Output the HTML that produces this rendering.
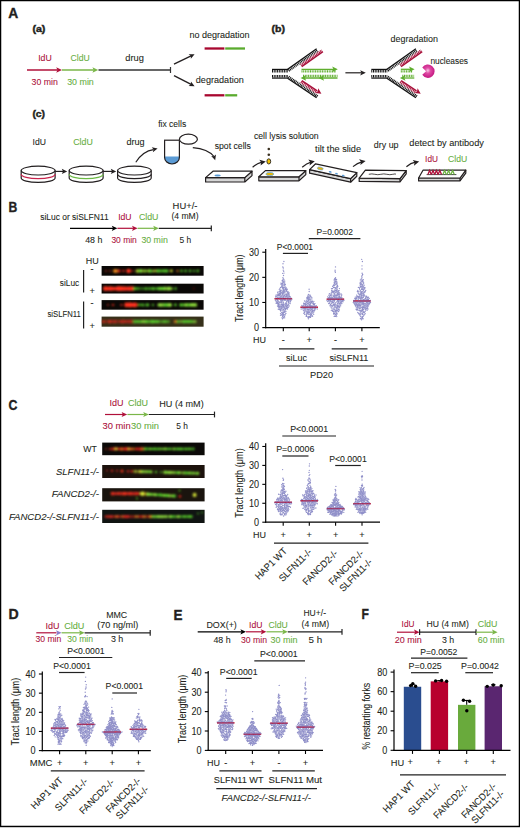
<!DOCTYPE html>
<html><head><meta charset="utf-8"><style>
html,body{margin:0;padding:0;background:#fff;}
svg{display:block;font-family:"Liberation Sans",sans-serif;}
</style></head><body>
<svg width="520" height="828" viewBox="0 0 520 828" fill="#231f20">
<rect x="0" y="0" width="520" height="828" fill="#fff"/>
<rect x="0" y="827" width="520" height="1" fill="#d4d4d4"/>
<rect x="0.6" y="0.6" width="518.8" height="825.8" fill="none" stroke="#000" stroke-width="1.3"/>
<text x="8.30" y="17.70" font-size="14" textLength="10.00" lengthAdjust="spacingAndGlyphs" font-weight="bold" stroke="#231f20" stroke-width="0.35">A</text>
<text x="32.40" y="32.20" font-size="9.6" textLength="13.00" lengthAdjust="spacingAndGlyphs" font-weight="bold" stroke="#231f20" stroke-width="0.45">(a)</text>
<line x1="27.00" y1="70.00" x2="57.80" y2="70.00" stroke="#b0103a" stroke-width="1.5"/>
<path d="M62.00 70.00L56.20 72.80L57.50 70.00L56.20 67.20Z" fill="#b0103a"/>
<line x1="62.00" y1="70.00" x2="94.00" y2="70.00" stroke="#7ab648" stroke-width="1.5"/>
<path d="M98.20 70.00L92.40 72.80L93.70 70.00L92.40 67.20Z" fill="#7ab648"/>
<line x1="98.50" y1="70.00" x2="170.50" y2="70.00" stroke="#333" stroke-width="1.3"/>
<line x1="170.50" y1="67.00" x2="170.50" y2="73.00" stroke="#333" stroke-width="1.2"/>
<text x="38.20" y="61.20" font-size="9.7" fill="#ab0f3a" textLength="13.60" lengthAdjust="spacingAndGlyphs" stroke="#ab0f3a" stroke-width="0.08">IdU</text>
<text x="70.60" y="61.20" font-size="9.7" fill="#66ad3e" textLength="19.20" lengthAdjust="spacingAndGlyphs" stroke="#66ad3e" stroke-width="0.08">CldU</text>
<text x="125.30" y="61.00" font-size="9.7" textLength="18.60" lengthAdjust="spacingAndGlyphs" stroke="#231f20" stroke-width="0.08">drug</text>
<text x="31.60" y="84.60" font-size="9.7" fill="#ab0f3a" textLength="26.20" lengthAdjust="spacingAndGlyphs" stroke="#ab0f3a" stroke-width="0.08">30 min</text>
<text x="67.20" y="84.60" font-size="9.7" fill="#66ad3e" textLength="26.60" lengthAdjust="spacingAndGlyphs" stroke="#66ad3e" stroke-width="0.08">30 min</text>
<line x1="174.00" y1="64.20" x2="191.09" y2="55.90" stroke="#231f20" stroke-width="1.3"/>
<path d="M194.60 54.20L190.83 58.81L190.82 56.03L188.65 54.31Z" fill="#231f20"/>
<line x1="174.00" y1="75.60" x2="191.13" y2="84.42" stroke="#231f20" stroke-width="1.3"/>
<path d="M194.60 86.20L188.65 85.95L190.87 84.28L190.94 81.51Z" fill="#231f20"/>
<text x="189.40" y="37.80" font-size="9.7" textLength="60.20" lengthAdjust="spacingAndGlyphs" stroke="#231f20" stroke-width="0.08">no degradation</text>
<text x="195.80" y="83.20" font-size="9.7" textLength="48.00" lengthAdjust="spacingAndGlyphs" stroke="#231f20" stroke-width="0.08">degradation</text>
<line x1="204.60" y1="48.50" x2="224.40" y2="48.50" stroke="#a8072f" stroke-width="2.3"/>
<line x1="225.20" y1="48.50" x2="245.00" y2="48.50" stroke="#5aab2e" stroke-width="2.3"/>
<line x1="204.60" y1="95.30" x2="224.40" y2="95.30" stroke="#a8072f" stroke-width="2.3"/>
<line x1="225.20" y1="95.30" x2="237.20" y2="95.30" stroke="#5aab2e" stroke-width="2.3"/>
<text x="271.50" y="32.00" font-size="9.6" textLength="13.40" lengthAdjust="spacingAndGlyphs" font-weight="bold" stroke="#231f20" stroke-width="0.45">(b)</text>
<line x1="272.00" y1="69.40" x2="288.00" y2="69.40" stroke="#111" stroke-width="1.2"/>
<line x1="272.00" y1="71.20" x2="288.00" y2="71.20" stroke="#111" stroke-width="2.4" stroke-dasharray="1 0.7"/>
<line x1="272.00" y1="78.10" x2="288.00" y2="78.10" stroke="#111" stroke-width="1.2"/>
<line x1="272.00" y1="76.30" x2="288.00" y2="76.30" stroke="#111" stroke-width="2.4" stroke-dasharray="1 0.7"/>
<line x1="287.60" y1="69.20" x2="316.60" y2="48.80" stroke="#111" stroke-width="1.3"/>
<line x1="288.64" y1="70.67" x2="317.64" y2="50.27" stroke="#111" stroke-width="2.4" stroke-dasharray="1 0.7"/>
<line x1="287.60" y1="78.30" x2="316.60" y2="97.80" stroke="#111" stroke-width="1.3"/>
<line x1="288.60" y1="76.81" x2="317.60" y2="96.31" stroke="#111" stroke-width="2.4" stroke-dasharray="1 0.7"/>
<line x1="301.70" y1="66.60" x2="322.90" y2="51.70" stroke="#a8103a" stroke-width="1.5"/>
<line x1="300.72" y1="65.21" x2="321.92" y2="50.31" stroke="#a8103a" stroke-width="2.2" stroke-dasharray="1 0.7"/>
<line x1="301.80" y1="80.60" x2="317.20" y2="90.90" stroke="#a8103a" stroke-width="1.5"/>
<line x1="300.85" y1="82.01" x2="316.25" y2="92.31" stroke="#a8103a" stroke-width="2.2" stroke-dasharray="1 0.7"/>
<path d="M321.40 93.70L315.19 92.90L317.75 91.24L318.32 88.25Z" fill="#a8103a"/>
<line x1="301.50" y1="69.30" x2="334.00" y2="69.30" stroke="#5fae2e" stroke-width="1.3"/>
<line x1="301.50" y1="71.40" x2="336.00" y2="71.40" stroke="#5fae2e" stroke-width="2.4" stroke-dasharray="1 0.7"/>
<path d="M337.80 69.30L332.20 72.10L333.40 69.30L332.20 66.50Z" fill="#5fae2e"/>
<line x1="304.00" y1="78.00" x2="337.50" y2="78.00" stroke="#5fae2e" stroke-width="1.3"/>
<line x1="303.00" y1="75.90" x2="337.50" y2="75.90" stroke="#5fae2e" stroke-width="2.4" stroke-dasharray="1 0.7"/>
<path d="M300.60 78.00L306.20 75.20L305.00 78.00L306.20 80.80Z" fill="#5fae2e"/>
<path d="M318.50 78.00L324.10 75.20L322.90 78.00L324.10 80.80Z" fill="#5fae2e"/>
<line x1="345.40" y1="72.80" x2="361.70" y2="72.80" stroke="#231f20" stroke-width="1.2"/>
<path d="M365.80 72.80L360.20 75.40L361.40 72.80L360.20 70.20Z" fill="#231f20"/>
<line x1="371.30" y1="69.40" x2="387.30" y2="69.40" stroke="#111" stroke-width="1.2"/>
<line x1="371.30" y1="71.20" x2="387.30" y2="71.20" stroke="#111" stroke-width="2.4" stroke-dasharray="1 0.7"/>
<line x1="371.30" y1="78.10" x2="387.30" y2="78.10" stroke="#111" stroke-width="1.2"/>
<line x1="371.30" y1="76.30" x2="387.30" y2="76.30" stroke="#111" stroke-width="2.4" stroke-dasharray="1 0.7"/>
<line x1="386.90" y1="69.20" x2="415.90" y2="48.80" stroke="#111" stroke-width="1.3"/>
<line x1="387.94" y1="70.67" x2="416.94" y2="50.27" stroke="#111" stroke-width="2.4" stroke-dasharray="1 0.7"/>
<line x1="386.90" y1="78.30" x2="415.90" y2="97.80" stroke="#111" stroke-width="1.3"/>
<line x1="387.90" y1="76.81" x2="416.90" y2="96.31" stroke="#111" stroke-width="2.4" stroke-dasharray="1 0.7"/>
<line x1="401.00" y1="66.60" x2="422.20" y2="51.70" stroke="#a8103a" stroke-width="1.5"/>
<line x1="400.02" y1="65.21" x2="421.22" y2="50.31" stroke="#a8103a" stroke-width="2.2" stroke-dasharray="1 0.7"/>
<line x1="401.10" y1="80.60" x2="416.50" y2="90.90" stroke="#a8103a" stroke-width="1.5"/>
<line x1="400.15" y1="82.01" x2="415.55" y2="92.31" stroke="#a8103a" stroke-width="2.2" stroke-dasharray="1 0.7"/>
<path d="M420.70 93.70L414.49 92.90L417.05 91.24L417.62 88.25Z" fill="#a8103a"/>
<line x1="400.80" y1="69.30" x2="410.80" y2="69.30" stroke="#5fae2e" stroke-width="1.3"/>
<line x1="400.80" y1="71.40" x2="412.80" y2="71.40" stroke="#5fae2e" stroke-width="2.4" stroke-dasharray="1 0.7"/>
<path d="M414.60 69.30L409.00 72.10L410.20 69.30L409.00 66.50Z" fill="#5fae2e"/>
<line x1="403.30" y1="78.00" x2="414.30" y2="78.00" stroke="#5fae2e" stroke-width="1.3"/>
<line x1="402.30" y1="75.90" x2="414.30" y2="75.90" stroke="#5fae2e" stroke-width="2.4" stroke-dasharray="1 0.7"/>
<path d="M399.90 78.00L405.50 75.20L404.30 78.00L405.50 80.80Z" fill="#5fae2e"/>
<text x="390.60" y="41.60" font-size="9.7" textLength="47.40" lengthAdjust="spacingAndGlyphs" stroke="#231f20" stroke-width="0.08">degradation</text>
<text x="430.40" y="64.40" font-size="9.7" textLength="37.60" lengthAdjust="spacingAndGlyphs" stroke="#231f20" stroke-width="0.08">nucleases</text>
<defs><radialGradient id="nuc" cx="0.45" cy="0.45" r="0.6"><stop offset="0" stop-color="#f7c8e4"/><stop offset="0.35" stop-color="#e04ca6"/><stop offset="1" stop-color="#c0117c"/></radialGradient></defs>
<path d="M426.10 71.20L422.28 67.55A6.7 6.7 0 1 1 422.28 74.85Z" fill="url(#nuc)"/>
<text x="32.40" y="117.40" font-size="9.6" textLength="12.60" lengthAdjust="spacingAndGlyphs" font-weight="bold" stroke="#231f20" stroke-width="0.45">(c)</text>
<text x="32.60" y="145.00" font-size="9.7" textLength="13.40" lengthAdjust="spacingAndGlyphs" stroke="#231f20" stroke-width="0.08">IdU</text>
<text x="73.20" y="145.00" font-size="9.7" fill="#66ad3e" textLength="19.60" lengthAdjust="spacingAndGlyphs" stroke="#66ad3e" stroke-width="0.08">CldU</text>
<text x="126.40" y="145.00" font-size="9.7" textLength="18.20" lengthAdjust="spacingAndGlyphs" stroke="#231f20" stroke-width="0.08">drug</text>
<text x="158.20" y="127.40" font-size="9.7" textLength="28.00" lengthAdjust="spacingAndGlyphs" stroke="#231f20" stroke-width="0.08">fix cells</text>
<text x="214.70" y="148.80" font-size="9.7" textLength="36.20" lengthAdjust="spacingAndGlyphs" stroke="#231f20" stroke-width="0.08">spot cells</text>
<text x="253.90" y="139.40" font-size="9.7" textLength="64.80" lengthAdjust="spacingAndGlyphs" stroke="#231f20" stroke-width="0.08">cell lysis solution</text>
<text x="315.10" y="151.50" font-size="9.7" textLength="46.00" lengthAdjust="spacingAndGlyphs" stroke="#231f20" stroke-width="0.08">tilt the slide</text>
<text x="373.80" y="147.60" font-size="9.7" textLength="24.80" lengthAdjust="spacingAndGlyphs" stroke="#231f20" stroke-width="0.08">dry up</text>
<text x="409.30" y="145.80" font-size="9.7" textLength="74.60" lengthAdjust="spacingAndGlyphs" stroke="#231f20" stroke-width="0.08">detect by antibody</text>
<text x="425.10" y="162.30" font-size="9.7" fill="#ab0f3a" textLength="12.80" lengthAdjust="spacingAndGlyphs" stroke="#ab0f3a" stroke-width="0.08">IdU</text>
<text x="448.00" y="162.30" font-size="9.7" fill="#66ad3e" textLength="19.20" lengthAdjust="spacingAndGlyphs" stroke="#66ad3e" stroke-width="0.08">CldU</text>
<ellipse cx="38.15" cy="170.60" rx="16.95" ry="4.4" fill="#fff" stroke="#231f20" stroke-width="1.2"/>
<path d="M21.2 170.60V178.00M55.1 170.60V178.00" stroke="#231f20" stroke-width="1.2"/>
<path d="M21.2 174.30A16.95 4.4 0 0 0 55.1 174.30" fill="none" stroke="#c8244c" stroke-width="1.3"/>
<path d="M21.2 178.00A16.95 4.4 0 0 0 55.1 178.00" fill="none" stroke="#231f20" stroke-width="1.2"/>
<line x1="55.20" y1="171.40" x2="63.30" y2="171.40" stroke="#231f20" stroke-width="1.2"/>
<path d="M67.20 171.40L61.80 174.00L63.00 171.40L61.80 168.80Z" fill="#231f20"/>
<ellipse cx="86.15" cy="170.60" rx="16.95" ry="4.4" fill="#fff" stroke="#231f20" stroke-width="1.2"/>
<path d="M69.2 170.60V178.00M103.1 170.60V178.00" stroke="#231f20" stroke-width="1.2"/>
<path d="M69.2 174.30A16.95 4.4 0 0 0 103.1 174.30" fill="none" stroke="#6cba45" stroke-width="1.3"/>
<path d="M69.2 178.00A16.95 4.4 0 0 0 103.1 178.00" fill="none" stroke="#231f20" stroke-width="1.2"/>
<line x1="103.20" y1="171.40" x2="112.30" y2="171.40" stroke="#231f20" stroke-width="1.2"/>
<path d="M116.20 171.40L110.80 174.00L112.00 171.40L110.80 168.80Z" fill="#231f20"/>
<ellipse cx="134.40" cy="170.60" rx="16.80" ry="4.4" fill="#fff" stroke="#231f20" stroke-width="1.2"/>
<path d="M117.6 170.60V178.00M151.2 170.60V178.00" stroke="#231f20" stroke-width="1.2"/>
<path d="M117.6 174.30A16.80 4.4 0 0 0 151.2 174.30" fill="none" stroke="#231f20" stroke-width="1.2"/>
<path d="M117.6 178.00A16.80 4.4 0 0 0 151.2 178.00" fill="none" stroke="#231f20" stroke-width="1.2"/>
<path d="M135.8 162.2Q143 151 153.5 149.6" fill="none" stroke="#231f20" stroke-width="1.2"/>
<path d="M157.60 148.60L152.86 152.27L153.49 149.47L151.78 147.18Z" fill="#231f20"/>
<path d="M164.6 156.6H179.4V157.5A7.4 6.6 0 0 1 164.6 157.5Z" fill="#5b9bd5"/>
<path d="M164.6 140.2V157.4A7.4 6.6 0 0 0 179.4 157.4V140.2" fill="none" stroke="#231f20" stroke-width="1.2"/>
<line x1="164.00" y1="140.20" x2="180.00" y2="140.20" stroke="#231f20" stroke-width="1.2"/>
<ellipse cx="188.4" cy="139.2" rx="9.0" ry="5.0" fill="#fff" stroke="#231f20" stroke-width="1.2"/>
<path d="M192.8 147.6Q208 149 214 156.5" fill="none" stroke="#231f20" stroke-width="1.2"/>
<path d="M215.20 160.20L211.22 156.03L213.93 156.30L215.97 154.48Z" fill="#231f20"/>
<path d="M205.6 177.6V182.0L244.8 182.0L252.0 175.6V171.2L244.8 177.6Z" fill="#d6d6d6" stroke="#231f20" stroke-width="1.2" stroke-linejoin="round"/>
<path d="M213.0 171.2L252.0 171.2L244.8 177.6L205.6 177.6Z" fill="#fff" stroke="#231f20" stroke-width="1.2" stroke-linejoin="round"/>
<line x1="244.80" y1="177.60" x2="244.80" y2="182.00" stroke="#231f20" stroke-width="1.2"/>
<ellipse cx="217.6" cy="175.6" rx="3.2" ry="1.0" fill="#5b9bd5"/>
<path d="M252.6 167.2Q257 163.4 262 162.2" fill="none" stroke="#231f20" stroke-width="1.2"/>
<path d="M265.80 161.40L260.55 165.58L261.20 162.38L259.31 159.71Z" fill="#231f20"/>
<circle cx="268.8" cy="149.0" r="1.3" fill="#3a3020"/><circle cx="268.8" cy="154.8" r="1.3" fill="#3a3020"/>
<ellipse cx="268.8" cy="161.4" rx="1.9" ry="2.6" fill="#f2c200" stroke="#231f20" stroke-width="0.9"/>
<path d="M258.8 176.8V180.8L299.0 180.8L305.8 174.6V170.6L299.0 176.8Z" fill="#d6d6d6" stroke="#231f20" stroke-width="1.2" stroke-linejoin="round"/>
<path d="M265.4 170.6L305.8 170.6L299.0 176.8L258.8 176.8Z" fill="#fff" stroke="#231f20" stroke-width="1.2" stroke-linejoin="round"/>
<line x1="299.00" y1="176.80" x2="299.00" y2="180.80" stroke="#231f20" stroke-width="1.2"/>
<ellipse cx="269.8" cy="174.0" rx="4.0" ry="1.6" fill="#eab600" stroke="#6aaee0" stroke-width="0.8"/>
<path d="M302.2 167.2Q306.6 163.4 311 162.2" fill="none" stroke="#231f20" stroke-width="1.2"/>
<path d="M314.80 161.20L309.55 165.38L310.20 162.18L308.31 159.51Z" fill="#231f20"/>
<path d="M309.6 169.6V173.2L350.6 182.2L356.8 176.2V172.6L350.6 178.6Z" fill="#d6d6d6" stroke="#231f20" stroke-width="1.2" stroke-linejoin="round"/>
<path d="M315.6 163.8L356.8 172.6L350.6 178.6L309.6 169.6Z" fill="#fff" stroke="#231f20" stroke-width="1.2" stroke-linejoin="round"/>
<line x1="350.60" y1="178.60" x2="350.60" y2="182.20" stroke="#231f20" stroke-width="1.2"/>
<ellipse cx="320.3" cy="168.5" rx="3.0" ry="1.4" fill="#eab600" stroke="#5b9bd5" stroke-width="0.6" transform="rotate(12 320.3 168.5)"/>
<ellipse cx="330.2" cy="171.9" rx="1.5" ry="0.8" fill="#5b9bd5" transform="rotate(14 330.2 171.9)"/>
<ellipse cx="336.6" cy="173.7" rx="1.5" ry="0.8" fill="#5b9bd5" transform="rotate(14 336.6 173.7)"/>
<ellipse cx="343.2" cy="175.6" rx="1.5" ry="0.8" fill="#5b9bd5" transform="rotate(14 343.2 175.6)"/>
<path d="M353.0 166.6Q357.4 162.8 362 161.8" fill="none" stroke="#231f20" stroke-width="1.2"/>
<path d="M365.60 160.90L360.35 165.08L361.00 161.88L359.11 159.21Z" fill="#231f20"/>
<path d="M359.2 178.2V181.39999999999998L400.0 181.79999999999998L406.2 173.79999999999998V170.6L400.0 178.6Z" fill="#d6d6d6" stroke="#231f20" stroke-width="1.2" stroke-linejoin="round"/>
<path d="M365.4 170.2L406.2 170.6L400.0 178.6L359.2 178.2Z" fill="#fff" stroke="#231f20" stroke-width="1.2" stroke-linejoin="round"/>
<line x1="400.00" y1="178.60" x2="400.00" y2="181.80" stroke="#231f20" stroke-width="1.2"/>
<path d="M368.8 174.3q3 -0.8 6 0t6 0t6 0t6 0t3.2 0" fill="none" stroke="#231f20" stroke-width="0.8"/>
<path d="M406.4 166.8Q410.8 163 415.4 162.2" fill="none" stroke="#231f20" stroke-width="1.2"/>
<path d="M419.20 161.60L413.95 165.78L414.60 162.58L412.71 159.91Z" fill="#231f20"/>
<path d="M418.6 178.0V180.9L460.0 180.9L465.8 173.1V170.2L460.0 178.0Z" fill="#d6d6d6" stroke="#231f20" stroke-width="1.2" stroke-linejoin="round"/>
<path d="M423.0 170.2L465.8 170.2L460.0 178.0L418.6 178.0Z" fill="#fff" stroke="#231f20" stroke-width="1.2" stroke-linejoin="round"/>
<line x1="460.00" y1="178.00" x2="460.00" y2="180.90" stroke="#231f20" stroke-width="1.2"/>
<line x1="426.60" y1="174.60" x2="456.40" y2="174.60" stroke="#333" stroke-width="0.9"/>
<path d="M427.90 174.4L429.60 170.4L431.30 174.4" fill="none" stroke="#b0103a" stroke-width="1.3"/>
<path d="M431.30 174.4L433.00 170.4L434.70 174.4" fill="none" stroke="#b0103a" stroke-width="1.3"/>
<path d="M434.70 174.4L436.40 170.4L438.10 174.4" fill="none" stroke="#b0103a" stroke-width="1.3"/>
<path d="M438.10 174.4L439.80 170.4L441.50 174.4" fill="none" stroke="#b0103a" stroke-width="1.3"/>
<path d="M442.90 174.4L444.60 170.4L446.30 174.4" fill="none" stroke="#6cb33f" stroke-width="1.2"/>
<path d="M446.90 174.4L448.60 170.4L450.30 174.4" fill="none" stroke="#6cb33f" stroke-width="1.2"/>
<path d="M450.90 174.4L452.60 170.4L454.30 174.4" fill="none" stroke="#6cb33f" stroke-width="1.2"/>
<text x="8.60" y="211.60" font-size="14" textLength="8.80" lengthAdjust="spacingAndGlyphs" font-weight="bold" stroke="#231f20" stroke-width="0.35">B</text>
<text x="40.20" y="219.80" font-size="9.7" textLength="68.40" lengthAdjust="spacingAndGlyphs" stroke="#231f20" stroke-width="0.08">siLuc or siSLFN11</text>
<text x="118.20" y="219.80" font-size="9.7" fill="#ab0f3a" textLength="13.40" lengthAdjust="spacingAndGlyphs" stroke="#ab0f3a" stroke-width="0.08">IdU</text>
<text x="138.90" y="219.80" font-size="9.7" fill="#66ad3e" textLength="19.60" lengthAdjust="spacingAndGlyphs" stroke="#66ad3e" stroke-width="0.08">CldU</text>
<text x="172.60" y="208.60" font-size="9.7" textLength="24.80" lengthAdjust="spacingAndGlyphs" stroke="#231f20" stroke-width="0.08">HU+/-</text>
<text x="171.40" y="219.40" font-size="9.7" textLength="27.20" lengthAdjust="spacingAndGlyphs" stroke="#231f20" stroke-width="0.08">(4 mM)</text>
<line x1="70.00" y1="228.30" x2="113.30" y2="228.30" stroke="#000" stroke-width="1.2"/>
<path d="M117.40 228.30L111.80 230.90L113.00 228.30L111.80 225.70Z" fill="#000"/>
<line x1="117.40" y1="228.30" x2="133.50" y2="228.30" stroke="#b0103a" stroke-width="1.2"/>
<path d="M137.60 228.30L132.00 230.90L133.20 228.30L132.00 225.70Z" fill="#b0103a"/>
<line x1="137.60" y1="228.30" x2="154.70" y2="228.30" stroke="#7ab648" stroke-width="1.2"/>
<path d="M158.80 228.30L153.20 230.90L154.40 228.30L153.20 225.70Z" fill="#7ab648"/>
<line x1="158.80" y1="228.30" x2="211.30" y2="228.30" stroke="#222" stroke-width="1.2"/>
<line x1="211.30" y1="225.40" x2="211.30" y2="231.20" stroke="#222" stroke-width="1.2"/>
<text x="85.20" y="243.00" font-size="9.7" textLength="17.20" lengthAdjust="spacingAndGlyphs" stroke="#231f20" stroke-width="0.08">48 h</text>
<text x="111.40" y="243.00" font-size="9.7" fill="#ab0f3a" textLength="25.40" lengthAdjust="spacingAndGlyphs" stroke="#ab0f3a" stroke-width="0.08">30 min</text>
<text x="141.40" y="243.00" font-size="9.7" fill="#66ad3e" textLength="26.40" lengthAdjust="spacingAndGlyphs" stroke="#66ad3e" stroke-width="0.08">30 min</text>
<text x="179.60" y="243.00" font-size="9.7" textLength="11.60" lengthAdjust="spacingAndGlyphs" stroke="#231f20" stroke-width="0.08">5 h</text>
<defs><filter id="fb" x="-0.1" y="-0.5" width="1.2" height="2"><feGaussianBlur stdDeviation="1.1 0.8"/></filter><clipPath id="fc1"><rect x="101.6" y="266" width="102" height="9.8"/></clipPath></defs>
<clipPath id="fcl1"><rect x="101.6" y="266.0" width="102.00" height="9.70"/></clipPath>
<rect x="101.6" y="266.0" width="102.00" height="9.70" fill="#0a0806"/>
<g clip-path="url(#fcl1)"><g filter="url(#fb)"><ellipse cx="106.0" cy="270.9" rx="1.4" ry="1.2" fill="#a02418" opacity="0.6"/><ellipse cx="110.0" cy="270.9" rx="1.4" ry="1.2" fill="#a02418" opacity="0.6"/><ellipse cx="115.5" cy="270.9" rx="2.6" ry="2.0" fill="#f08a20" opacity="1"/><ellipse cx="119.0" cy="270.9" rx="1.6" ry="1.6" fill="#e02a1c" opacity="1"/><ellipse cx="123.4" cy="270.9" rx="1.4" ry="1.4" fill="#e02a1c" opacity="0.8"/><ellipse cx="128.6" cy="270.9" rx="2.4" ry="2.2" fill="#ff3420" opacity="1"/><ellipse cx="132.6" cy="270.9" rx="1.2" ry="1.0" fill="#e02a1c" opacity="0.7"/><ellipse cx="137.4" cy="270.9" rx="1.9426668443416295" ry="1.7349846665822868" fill="#d8e838" opacity="0.8629580801498913"/><ellipse cx="139.5" cy="270.9" rx="1.7080978745484277" ry="1.6623437057040649" fill="#5cd82c" opacity="0.9482442181299882"/><ellipse cx="141.3" cy="270.9" rx="1.7263115858328213" ry="1.7873826361659948" fill="#98ec40" opacity="0.9086131957208371"/><ellipse cx="144.8" cy="270.9" rx="1.8046673228030112" ry="1.655470098197714" fill="#d8e838" opacity="0.7893735237850406"/><ellipse cx="145.4" cy="270.9" rx="1.4893416187025919" ry="1.476132646559303" fill="#5cd82c" opacity="0.7575206473061972"/><ellipse cx="148.4" cy="270.9" rx="1.4928185367063016" ry="1.4721499060641232" fill="#d8e838" opacity="0.8235378926615662"/><ellipse cx="149.9" cy="270.9" rx="1.5491507717714423" ry="1.8388749762222805" fill="#5cd82c" opacity="0.9989229104140498"/><ellipse cx="152.7" cy="270.9" rx="1.5161728130933758" ry="1.498739174710817" fill="#98ec40" opacity="0.7675558748899814"/><ellipse cx="155.2" cy="270.9" rx="1.557813967338422" ry="1.39207672342554" fill="#d8e838" opacity="0.754222618131544"/><ellipse cx="158.0" cy="270.9" rx="1.978984911110843" ry="1.5855938924865598" fill="#5cd82c" opacity="0.995089735293573"/><ellipse cx="160.7" cy="270.9" rx="1.4949732909305944" ry="1.6839564011208137" fill="#5cd82c" opacity="0.8342232091112886"/><ellipse cx="163.3" cy="270.9" rx="1.875467551555756" ry="1.4166360061213845" fill="#5cd82c" opacity="0.8115969872232824"/><ellipse cx="164.5" cy="270.9" rx="1.6910398384989882" ry="1.6873971720670289" fill="#5cd82c" opacity="0.7970963668961542"/><ellipse cx="166.9" cy="270.9" rx="1.6209512159170616" ry="1.5495296183374725" fill="#5cd82c" opacity="0.9975130617858202"/><ellipse cx="171.3" cy="270.9" rx="1.6" ry="1.4" fill="#d8e838" opacity="0.9"/><ellipse cx="177.5" cy="270.9" rx="1.3" ry="1.2" fill="#f08a20" opacity="0.7"/><ellipse cx="181.5" cy="270.9" rx="1.4" ry="1.3" fill="#5cd82c" opacity="0.8"/><ellipse cx="185.6" cy="270.9" rx="1.5" ry="1.3" fill="#5cd82c" opacity="0.8"/><ellipse cx="190.0" cy="270.9" rx="1.5" ry="1.3" fill="#5cd82c" opacity="0.8"/><ellipse cx="194.0" cy="270.9" rx="1.3" ry="1.2" fill="#5cd82c" opacity="0.7"/><ellipse cx="197.8" cy="270.9" rx="1.5" ry="1.3" fill="#5cd82c" opacity="0.8"/></g></g>
<clipPath id="fcl2"><rect x="101.6" y="283.7" width="102.00" height="9.80"/></clipPath>
<rect x="101.6" y="283.7" width="102.00" height="9.80" fill="#0a0806"/>
<g clip-path="url(#fcl2)"><g filter="url(#fb)"><ellipse cx="105.0" cy="288.6" rx="2.338575802338385" ry="2.309830910942393" fill="#ff3420" opacity="0.785650088231342"/><ellipse cx="106.1" cy="288.6" rx="2.001162362740932" ry="2.404829714475155" fill="#ff3420" opacity="0.9226481632596711"/><ellipse cx="107.9" cy="288.6" rx="2.341962555567361" ry="1.9658998445086682" fill="#ff3420" opacity="0.8600136979811924"/><ellipse cx="109.3" cy="288.6" rx="1.8117654081215624" ry="2.410421284375773" fill="#ff3420" opacity="0.7686524084089694"/><ellipse cx="110.8" cy="288.6" rx="2.1160605691532113" ry="2.4259862227562907" fill="#ff3420" opacity="0.7546510750780007"/><ellipse cx="112.3" cy="288.6" rx="2.207854806456378" ry="1.9300454727786651" fill="#ff3420" opacity="0.9967834976013924"/><ellipse cx="113.9" cy="288.6" rx="2.1324218187836026" ry="1.9591458706264482" fill="#ff3420" opacity="0.8281351735480671"/><ellipse cx="115.6" cy="288.6" rx="2.3732143501885683" ry="1.9038931893289033" fill="#ff3420" opacity="0.7928035231442148"/><ellipse cx="117.7" cy="288.6" rx="2.128579386681103" ry="2.263340844734978" fill="#ff3420" opacity="0.8691920612180538"/><ellipse cx="118.9" cy="288.6" rx="2.3991681360657826" ry="2.508522862692414" fill="#ff3420" opacity="0.9940759423883734"/><ellipse cx="120.9" cy="288.6" rx="2.079553129987389" ry="2.3254755460805607" fill="#ff3420" opacity="0.9184432054122958"/><ellipse cx="122.0" cy="288.6" rx="2.0797236943745174" ry="2.207491331237045" fill="#ff3420" opacity="0.9525267682319172"/><ellipse cx="123.5" cy="288.6" rx="2.483859504133414" ry="2.153901888143955" fill="#ff3420" opacity="0.8797493260833266"/><ellipse cx="125.1" cy="288.6" rx="2.10165658607987" ry="2.3794662608266646" fill="#ff3420" opacity="0.775653294759422"/><ellipse cx="126.6" cy="288.6" rx="2.3723880750010355" ry="1.8943184191442906" fill="#ff3420" opacity="0.8191369073433796"/><ellipse cx="128.3" cy="288.6" rx="1.8058117614115463" ry="2.173112945430589" fill="#ff3420" opacity="0.8021983585127809"/><ellipse cx="129.6" cy="288.6" rx="2.6036983289783824" ry="2.187476173626946" fill="#ff3420" opacity="0.9889729693318315"/><ellipse cx="131.1" cy="288.6" rx="2.0804896444087713" ry="1.9948933051962336" fill="#ff3420" opacity="0.9371319435907234"/><ellipse cx="132.6" cy="288.6" rx="1.9960635626733194" ry="2.378644021219808" fill="#ff3420" opacity="0.8354474346703664"/><ellipse cx="134.7" cy="288.6" rx="1.7185651154973038" ry="1.5828368631072496" fill="#5cd82c" opacity="0.8179839342953601"/><ellipse cx="136.8" cy="288.6" rx="1.3741823476277875" ry="1.3763233210029506" fill="#5cd82c" opacity="0.7934800154702143"/><ellipse cx="139.2" cy="288.6" rx="1.4169008195147141" ry="1.407595539193513" fill="#5cd82c" opacity="0.7292108197833451"/><ellipse cx="142.4" cy="288.6" rx="1.289236731495739" ry="1.3991265842726204" fill="#5cd82c" opacity="0.6686759434122743"/><ellipse cx="145.8" cy="288.6" rx="1.7958699763414878" ry="1.646864403061417" fill="#5cd82c" opacity="0.7957594074704691"/><ellipse cx="149.1" cy="288.6" rx="1.4442931049143655" ry="1.6574725557514465" fill="#5cd82c" opacity="0.7409419172694993"/><ellipse cx="151.8" cy="288.6" rx="1.5549296935593049" ry="1.4388911813488843" fill="#5cd82c" opacity="0.7288372325577734"/><ellipse cx="153.6" cy="288.6" rx="1.8045719318135984" ry="1.6342163867146007" fill="#5cd82c" opacity="0.8469572519389099"/><ellipse cx="157.0" cy="288.6" rx="1.7589833545072293" ry="1.3356841925395344" fill="#5cd82c" opacity="0.7813245825834697"/><ellipse cx="159.1" cy="288.6" rx="1.983747784416901" ry="1.8146404272898307" fill="#5cd82c" opacity="0.8117338125987261"/><ellipse cx="161.3" cy="288.6" rx="1.9140840131328545" ry="1.6936135058997117" fill="#98ec40" opacity="0.9210582820192389"/><ellipse cx="162.5" cy="288.6" rx="2.066986001201372" ry="1.7004553552965644" fill="#5cd82c" opacity="0.9519626987360461"/><ellipse cx="164.0" cy="288.6" rx="1.9191110855197855" ry="1.6786782044848207" fill="#5cd82c" opacity="0.7526513238469107"/><ellipse cx="165.2" cy="288.6" rx="1.6373193519352645" ry="1.9912027045199256" fill="#98ec40" opacity="0.8454699449309628"/><ellipse cx="168.1" cy="288.6" rx="1.5079639517386905" ry="1.8760661401667973" fill="#98ec40" opacity="0.9715387227228497"/><ellipse cx="169.1" cy="288.6" rx="1.5081641994255983" ry="2.0023887171058283" fill="#98ec40" opacity="0.8784453639243726"/><ellipse cx="171.1" cy="288.6" rx="1.7890119702721698" ry="1.6819156575967318" fill="#98ec40" opacity="0.8136550935030505"/><ellipse cx="175.5" cy="288.6" rx="1.5" ry="1.4" fill="#5cd82c" opacity="0.8"/><ellipse cx="193.8" cy="288.6" rx="1.0" ry="1.0" fill="#a02418" opacity="0.5"/></g></g>
<clipPath id="fcl3"><rect x="101.6" y="300.1" width="102.00" height="9.60"/></clipPath>
<rect x="101.6" y="300.1" width="102.00" height="9.60" fill="#0a0806"/>
<g clip-path="url(#fcl3)"><g filter="url(#fb)"><ellipse cx="108.0" cy="304.9" rx="1.2" ry="1.1" fill="#a02418" opacity="0.8"/><ellipse cx="113.0" cy="304.9" rx="1.3" ry="1.2" fill="#e02a1c" opacity="0.8"/><ellipse cx="121.4" cy="304.9" rx="1.3" ry="1.2" fill="#e02a1c" opacity="0.8"/><ellipse cx="125.8" cy="304.9" rx="1.609323755033713" ry="2.4628342176598434" fill="#ff3420" opacity="0.789503181191187"/><ellipse cx="127.0" cy="304.9" rx="2.303593014507737" ry="2.4251319584369755" fill="#ff3420" opacity="0.9643355956203812"/><ellipse cx="129.0" cy="304.9" rx="1.87046220580536" ry="2.443654089759738" fill="#ff3420" opacity="0.8201454214607843"/><ellipse cx="130.2" cy="304.9" rx="2.2862696779153753" ry="2.5584274977077976" fill="#ff3420" opacity="0.9494039980943703"/><ellipse cx="131.8" cy="304.9" rx="2.0090959574012" ry="2.114656249346086" fill="#ff3420" opacity="0.8638842028392053"/><ellipse cx="132.6" cy="304.9" rx="2.051753269428248" ry="2.203375469469418" fill="#ff3420" opacity="0.8924039272873757"/><ellipse cx="134.7" cy="304.9" rx="1.9240803407245206" ry="2.550866052647243" fill="#ff3420" opacity="0.9987932277207058"/><ellipse cx="136.3" cy="304.9" rx="1.6150000405055915" ry="2.051819504189617" fill="#ff3420" opacity="0.7930486269556887"/><ellipse cx="139.5" cy="304.9" rx="1.3890691727367246" ry="1.3651201031743792" fill="#5cd82c" opacity="0.7755208321013828"/><ellipse cx="142.0" cy="304.9" rx="1.264959013858444" ry="1.4566982881234631" fill="#5cd82c" opacity="0.6772788840661527"/><ellipse cx="143.5" cy="304.9" rx="1.199492289818387" ry="1.5022339850134054" fill="#5cd82c" opacity="0.7447743567078627"/><ellipse cx="146.8" cy="304.9" rx="1.2619633627787905" ry="1.5652870956410698" fill="#5cd82c" opacity="0.8567182854664387"/><ellipse cx="148.2" cy="304.9" rx="1.3758014638369156" ry="1.453234476413486" fill="#5cd82c" opacity="0.7416507716977725"/><ellipse cx="153.0" cy="304.9" rx="1.2" ry="1.2" fill="#5cd82c" opacity="0.8"/><ellipse cx="159.4" cy="304.9" rx="2.131556237513191" ry="1.6863977039928113" fill="#98ec40" opacity="0.9415268594494881"/><ellipse cx="160.8" cy="304.9" rx="1.4593944807291794" ry="1.7374523964539206" fill="#98ec40" opacity="0.936598799041596"/><ellipse cx="163.1" cy="304.9" rx="1.9327930191199452" ry="1.9211071459715001" fill="#98ec40" opacity="0.7843853533239048"/><ellipse cx="165.4" cy="304.9" rx="2.0702278815323623" ry="1.6114943593495692" fill="#5cd82c" opacity="0.9263921538979877"/><ellipse cx="166.9" cy="304.9" rx="1.5289202868593366" ry="1.9164181037615056" fill="#5cd82c" opacity="0.7672946272589257"/><ellipse cx="169.1" cy="304.9" rx="1.8719587601867107" ry="1.898609985400664" fill="#98ec40" opacity="0.8521685131143371"/><ellipse cx="170.4" cy="304.9" rx="1.707978845921353" ry="1.5579012564146137" fill="#98ec40" opacity="0.938008708392991"/><ellipse cx="175.4" cy="304.9" rx="1.4" ry="1.4" fill="#5cd82c" opacity="0.9"/><ellipse cx="181.0" cy="304.9" rx="1.763154378539942" ry="1.6593279816723419" fill="#5cd82c" opacity="0.9879782115845295"/><ellipse cx="183.8" cy="304.9" rx="1.7699984025845834" ry="1.6728463633798338" fill="#5cd82c" opacity="0.8134502338231235"/><ellipse cx="186.3" cy="304.9" rx="1.988960261395316" ry="1.6241393238873079" fill="#98ec40" opacity="0.9917867108136944"/><ellipse cx="188.6" cy="304.9" rx="1.9690745009719262" ry="1.8407933152778477" fill="#5cd82c" opacity="0.8004673753129572"/><ellipse cx="191.0" cy="304.9" rx="1.6552436002403275" ry="1.533597982265663" fill="#98ec40" opacity="0.993919913480793"/><ellipse cx="193.2" cy="304.9" rx="1.8672930438273354" ry="1.8144373196882022" fill="#98ec40" opacity="0.9563822341516149"/><ellipse cx="195.6" cy="304.9" rx="1.6425552882532144" ry="1.8366633091747375" fill="#98ec40" opacity="0.8751891835503323"/></g></g>
<clipPath id="fcl4"><rect x="101.6" y="316.6" width="102.00" height="10.10"/></clipPath>
<rect x="101.6" y="316.6" width="102.00" height="10.10" fill="#36301a"/>
<g clip-path="url(#fcl4)"><g filter="url(#fb)"><ellipse cx="102.5" cy="321.6" rx="2.0846959118152832" ry="1.5951717588022762" fill="#e02a1c" opacity="0.55991203147075"/><ellipse cx="104.6" cy="321.6" rx="1.5467470510929802" ry="1.6709824302654015" fill="#e02a1c" opacity="0.5705765088802326"/><ellipse cx="107.0" cy="321.6" rx="1.9967761086997373" ry="2.0144887795148425" fill="#a02418" opacity="0.5290006086201742"/><ellipse cx="109.3" cy="321.6" rx="1.522001939941635" ry="1.776027767880435" fill="#e02a1c" opacity="0.6765665618952911"/><ellipse cx="110.1" cy="321.6" rx="1.5115380580496047" ry="1.9231172377505685" fill="#e02a1c" opacity="0.6572410495895102"/><ellipse cx="112.7" cy="321.6" rx="1.8509303529465444" ry="1.801242515223143" fill="#e02a1c" opacity="0.552740871635031"/><ellipse cx="114.0" cy="321.6" rx="1.8325813914474198" ry="1.924943708167729" fill="#a02418" opacity="0.6652579915619055"/><ellipse cx="115.7" cy="321.6" rx="1.7951780217538933" ry="1.8254963803357953" fill="#e02a1c" opacity="0.6051621409223757"/><ellipse cx="118.8" cy="321.6" rx="1.8145259561072236" ry="1.9752773373576686" fill="#a02418" opacity="0.6114503399624489"/><ellipse cx="121.0" cy="321.6" rx="2.081184999362112" ry="1.6622371185528249" fill="#e02a1c" opacity="0.5295294128846084"/><ellipse cx="122.7" cy="321.6" rx="1.9097513326206443" ry="2.035119312624089" fill="#e02a1c" opacity="0.6082339739400809"/><ellipse cx="124.7" cy="321.6" rx="1.7719487201860076" ry="1.6926358199602995" fill="#a02418" opacity="0.6435397621911977"/><ellipse cx="125.6" cy="321.6" rx="2.134808664779915" ry="1.7571249161266296" fill="#e02a1c" opacity="0.6060199554013601"/><ellipse cx="128.0" cy="321.6" rx="1.4516033122399898" ry="1.7658590894224941" fill="#a02418" opacity="0.5730899783834128"/><ellipse cx="129.2" cy="321.6" rx="2.075822456004238" ry="1.9790871803507217" fill="#e02a1c" opacity="0.5604878204581148"/><ellipse cx="131.7" cy="321.6" rx="1.748769376776494" ry="2.040859581249122" fill="#e02a1c" opacity="0.5518096285055182"/><ellipse cx="134.8" cy="321.6" rx="1.881226294326598" ry="1.7942157941503714" fill="#5cd82c" opacity="0.774209018778632"/><ellipse cx="137.2" cy="321.6" rx="1.7495996550894708" ry="1.4413014818202736" fill="#5cd82c" opacity="0.8102367272347272"/><ellipse cx="138.9" cy="321.6" rx="1.6825957379194094" ry="1.6387194554188278" fill="#5cd82c" opacity="0.8103456828710063"/><ellipse cx="141.5" cy="321.6" rx="1.588186791118562" ry="1.5651384607293282" fill="#5cd82c" opacity="0.8615749113111888"/><ellipse cx="143.2" cy="321.6" rx="1.5003134422733095" ry="1.4764683426681655" fill="#98ec40" opacity="0.7604313337985402"/><ellipse cx="145.1" cy="321.6" rx="1.5527612463194367" ry="1.6913199088219983" fill="#98ec40" opacity="0.7512954936227932"/><ellipse cx="146.1" cy="321.6" rx="1.519092562974964" ry="1.7637595756757223" fill="#5cd82c" opacity="0.8488086361916565"/><ellipse cx="148.0" cy="321.6" rx="1.5499907026668873" ry="1.6934944414384612" fill="#5cd82c" opacity="0.7922662376793974"/><ellipse cx="150.6" cy="321.6" rx="1.5461857814928048" ry="1.7597464624627865" fill="#5cd82c" opacity="0.749723404471647"/><ellipse cx="152.5" cy="321.6" rx="1.8290659574056265" ry="1.838081121849199" fill="#5cd82c" opacity="0.8503358535601239"/><ellipse cx="154.3" cy="321.6" rx="1.3952464553211035" ry="1.452830297123565" fill="#5cd82c" opacity="0.7534273220095841"/><ellipse cx="155.0" cy="321.6" rx="1.9612652927604741" ry="1.3609599047065495" fill="#5cd82c" opacity="0.8672232288093095"/><ellipse cx="157.1" cy="321.6" rx="1.6710353475856556" ry="1.723122680531448" fill="#5cd82c" opacity="0.8847999759980318"/><ellipse cx="159.2" cy="321.6" rx="1.6695520897131197" ry="1.5200929344153624" fill="#5cd82c" opacity="0.7298617961725844"/><ellipse cx="162.6" cy="321.6" rx="1.6138601545305402" ry="1.5607499731821242" fill="#5cd82c" opacity="0.6958200944114903"/><ellipse cx="165.0" cy="321.6" rx="1.6847125811720565" ry="1.5056053078369167" fill="#5cd82c" opacity="0.7010168306940024"/><ellipse cx="165.7" cy="321.6" rx="1.4226280149792645" ry="1.538413123731956" fill="#5cd82c" opacity="0.6138529526366623"/><ellipse cx="168.4" cy="321.6" rx="1.339616970839732" ry="1.294050937493035" fill="#5cd82c" opacity="0.7995122417738632"/><ellipse cx="175.4" cy="321.6" rx="1.5" ry="1.5" fill="#f08a20" opacity="0.9"/><ellipse cx="178.2" cy="321.6" rx="1.6723755979472668" ry="1.5746240538987646" fill="#5cd82c" opacity="0.832939630017677"/><ellipse cx="181.1" cy="321.6" rx="1.330980769308765" ry="1.4892476235371293" fill="#98ec40" opacity="0.6861737966304768"/><ellipse cx="183.9" cy="321.6" rx="1.7185666357666414" ry="1.8034476009488498" fill="#5cd82c" opacity="0.8343258706763884"/><ellipse cx="184.9" cy="321.6" rx="1.47883597098121" ry="1.4512637502450865" fill="#5cd82c" opacity="0.8662069074817206"/><ellipse cx="187.2" cy="321.6" rx="1.6718877569904955" ry="1.4840372366349153" fill="#5cd82c" opacity="0.8902613305558643"/><ellipse cx="188.4" cy="321.6" rx="1.4531864102721253" ry="1.6921059102476654" fill="#5cd82c" opacity="0.7721796865467216"/><ellipse cx="190.4" cy="321.6" rx="1.4410141825975404" ry="1.4964519709967792" fill="#5cd82c" opacity="0.873503636323843"/><ellipse cx="192.1" cy="321.6" rx="1.5192182226048163" ry="1.6396450556225888" fill="#5cd82c" opacity="0.7418966658748303"/><ellipse cx="194.8" cy="321.6" rx="1.8554936052715334" ry="1.5651243236831764" fill="#98ec40" opacity="0.6953779036120247"/></g></g>
<text x="85.80" y="263.60" font-size="9.7" textLength="13.00" lengthAdjust="spacingAndGlyphs" stroke="#231f20" stroke-width="0.08">HU</text>
<text x="90.40" y="271.80" font-size="9.7" textLength="3.00" lengthAdjust="spacingAndGlyphs" stroke="#231f20" stroke-width="0.08">-</text>
<text x="89.60" y="294.00" font-size="9.7" textLength="5.40" lengthAdjust="spacingAndGlyphs" stroke="#231f20" stroke-width="0.08">+</text>
<text x="90.40" y="306.00" font-size="9.7" textLength="3.00" lengthAdjust="spacingAndGlyphs" stroke="#231f20" stroke-width="0.08">-</text>
<text x="89.60" y="329.00" font-size="9.7" textLength="5.40" lengthAdjust="spacingAndGlyphs" stroke="#231f20" stroke-width="0.08">+</text>
<text x="59.80" y="285.80" font-size="9.7" textLength="19.40" lengthAdjust="spacingAndGlyphs" stroke="#231f20" stroke-width="0.08">siLuc</text>
<text x="47.40" y="316.80" font-size="9.7" textLength="33.40" lengthAdjust="spacingAndGlyphs" stroke="#231f20" stroke-width="0.08">siSLFN11</text>
<line x1="83.60" y1="270.00" x2="83.60" y2="292.60" stroke="#222" stroke-width="1.2"/>
<line x1="83.60" y1="301.60" x2="83.60" y2="328.40" stroke="#222" stroke-width="1.2"/>
<line x1="274.55" y1="298.70" x2="292.05" y2="298.70" stroke="#c0102e" stroke-width="1.4"/>
<path d="M283.9 261.5h0M283.0 263.7h0M282.8 266.9h0M283.3 268.0h0M283.2 270.1h0M283.7 271.2h0M282.6 273.3h0M284.0 273.1h0M283.5 275.5h0M282.9 277.7h0M283.5 278.8h0M282.7 279.9h0M284.1 279.8h0M282.1 280.7h0M283.1 280.9h0M284.8 281.1h0M282.8 282.2h0M283.8 281.9h0M280.9 283.1h0M281.8 283.3h0M283.2 282.9h0M284.7 283.0h0M281.1 284.4h0M282.5 284.0h0M284.2 284.1h0M285.3 284.4h0M282.2 285.2h0M283.5 285.1h0M284.7 285.3h0M281.6 286.2h0M282.8 286.3h0M285.0 286.2h0M280.6 287.4h0M282.1 287.5h0M283.4 287.5h0M284.6 287.3h0M286.0 287.3h0M279.9 288.3h0M282.8 288.5h0M283.8 288.6h0M285.4 288.5h0M286.8 288.3h0M279.3 289.6h0M280.8 289.8h0M283.2 289.7h0M284.8 289.7h0M286.0 289.4h0M287.2 289.5h0M280.2 290.5h0M281.2 290.5h0M282.7 290.8h0M283.9 290.4h0M285.3 290.8h0M286.6 290.5h0M278.0 292.0h0M279.4 291.7h0M280.5 291.5h0M282.1 292.0h0M283.5 291.7h0M284.4 291.6h0M286.1 291.6h0M287.3 291.7h0M288.3 291.9h0M277.7 292.7h0M280.2 292.8h0M281.2 292.7h0M282.9 293.0h0M284.1 292.7h0M285.1 292.8h0M287.7 292.9h0M289.2 292.9h0M278.3 294.0h0M279.6 293.7h0M280.5 294.0h0M282.2 293.7h0M283.1 293.7h0M286.1 294.1h0M287.0 294.0h0M288.6 293.8h0M276.2 294.9h0M277.6 295.0h0M279.0 294.9h0M279.8 295.0h0M281.1 295.1h0M282.7 295.0h0M284.2 294.9h0M285.2 294.8h0M286.7 294.8h0M288.0 295.0h0M289.3 294.8h0M275.7 296.2h0M277.0 296.2h0M278.3 295.8h0M279.4 295.8h0M280.8 296.1h0M281.9 296.1h0M283.5 296.1h0M284.4 295.9h0M286.1 295.9h0M287.2 296.0h0M288.3 296.0h0M289.6 296.2h0M275.9 297.1h0M277.3 297.3h0M278.9 297.4h0M280.2 297.1h0M281.4 297.1h0M282.7 297.1h0M283.8 297.0h0M285.5 297.0h0M286.7 296.9h0M287.8 297.3h0M289.0 297.1h0M290.3 297.0h0M275.7 298.4h0M277.9 298.3h0M279.6 298.3h0M280.8 298.1h0M282.2 298.4h0M283.1 298.0h0M284.7 298.1h0M286.1 298.3h0M287.0 298.4h0M288.5 298.4h0M289.7 298.4h0M291.1 298.2h0M276.1 299.5h0M277.5 299.5h0M280.0 299.2h0M281.2 299.5h0M282.9 299.3h0M284.1 299.3h0M285.1 299.4h0M287.8 299.2h0M289.2 299.4h0M290.5 299.4h0M292.0 299.1h0M275.4 300.3h0M277.0 300.6h0M278.1 300.2h0M280.8 300.4h0M282.0 300.2h0M283.1 300.6h0M284.7 300.3h0M285.9 300.3h0M287.3 300.2h0M288.3 300.4h0M289.8 300.2h0M291.0 300.5h0M276.1 301.7h0M277.4 301.7h0M278.6 301.6h0M280.1 301.6h0M281.5 301.6h0M282.9 301.6h0M286.6 301.6h0M288.0 301.3h0M288.9 301.4h0M290.4 301.6h0M277.0 302.7h0M278.1 302.6h0M279.5 302.7h0M280.6 302.6h0M281.8 302.4h0M283.5 302.6h0M286.0 302.6h0M288.4 302.5h0M289.9 302.6h0M276.2 303.4h0M277.6 303.8h0M278.6 303.5h0M281.5 303.8h0M282.8 303.8h0M283.7 303.8h0M285.4 303.7h0M286.7 303.5h0M288.9 303.7h0M290.3 303.6h0M278.2 304.6h0M279.3 304.7h0M280.9 304.6h0M282.1 304.7h0M283.4 304.7h0M284.4 304.8h0M285.9 304.7h0M287.0 304.7h0M288.4 304.7h0M277.5 306.0h0M278.6 305.7h0M280.1 305.9h0M281.3 306.0h0M282.8 305.7h0M283.7 306.0h0M285.5 305.7h0M286.4 306.0h0M287.6 305.7h0M289.2 305.9h0M278.3 306.7h0M279.3 306.7h0M280.8 306.7h0M281.9 306.6h0M283.2 307.0h0M284.4 306.9h0M286.0 306.7h0M287.1 306.9h0M288.5 307.1h0M279.0 307.8h0M280.1 307.8h0M281.5 308.0h0M282.4 307.8h0M284.2 307.9h0M285.3 308.1h0M286.4 308.2h0M287.7 307.8h0M278.3 309.2h0M279.4 309.2h0M280.6 309.0h0M281.8 308.8h0M283.4 309.2h0M284.8 308.9h0M285.8 309.0h0M287.4 309.0h0M280.1 309.9h0M281.2 310.1h0M282.6 310.1h0M284.0 310.2h0M285.5 309.9h0M280.6 311.0h0M283.1 311.3h0M284.5 311.2h0M285.9 311.4h0M281.5 312.3h0M282.9 312.4h0M284.0 312.5h0M285.0 312.1h0M280.5 313.6h0M282.2 313.5h0M283.3 313.2h0M285.9 313.4h0M281.3 314.6h0M282.8 314.5h0M283.8 314.3h0M285.1 314.5h0M280.5 315.3h0M282.0 315.3h0M283.4 315.6h0M284.8 315.7h0M282.6 316.4h0M284.2 316.6h0M282.1 317.7h0M283.5 317.7h0M284.7 317.8h0M282.5 318.7h0" stroke="#7474bc" stroke-width="1.35" stroke-linecap="round" fill="none" opacity="0.8"/>
<line x1="274.55" y1="298.70" x2="292.05" y2="298.70" stroke="#c0102e" stroke-width="1.3" opacity="0.4"/>
<line x1="300.45" y1="307.24" x2="317.95" y2="307.24" stroke="#c0102e" stroke-width="1.4"/>
<path d="M309.1 289.2h0M309.2 291.5h0M308.4 294.5h0M309.9 294.8h0M307.8 296.0h0M309.1 295.9h0M310.5 295.9h0M307.4 297.1h0M308.5 297.1h0M309.9 297.1h0M311.1 297.0h0M306.7 298.0h0M307.9 297.9h0M309.4 297.8h0M312.0 297.9h0M307.5 298.9h0M308.6 298.9h0M309.7 299.1h0M310.9 299.0h0M306.4 300.1h0M308.0 300.1h0M309.0 300.0h0M310.4 300.1h0M312.0 300.1h0M304.5 301.0h0M306.1 301.2h0M307.5 301.4h0M308.3 301.1h0M309.9 301.3h0M311.3 301.5h0M312.4 301.4h0M313.9 301.3h0M305.5 302.1h0M306.7 302.3h0M308.1 302.2h0M309.4 302.3h0M310.3 302.1h0M311.7 302.3h0M313.1 302.5h0M303.6 303.2h0M304.7 303.4h0M305.8 303.6h0M307.4 303.6h0M308.3 303.5h0M310.0 303.5h0M311.0 303.2h0M312.7 303.3h0M313.6 303.3h0M315.0 303.6h0M303.9 304.3h0M305.2 304.5h0M306.4 304.2h0M308.1 304.2h0M309.4 304.6h0M310.5 304.7h0M313.3 304.4h0M314.4 304.4h0M301.9 305.5h0M303.5 305.7h0M304.9 305.7h0M305.8 305.3h0M307.4 305.7h0M308.7 305.8h0M309.6 305.4h0M311.2 305.7h0M312.5 305.8h0M313.7 305.8h0M314.9 305.6h0M316.3 305.7h0M302.7 306.5h0M305.2 306.4h0M306.7 306.4h0M307.7 306.6h0M309.4 306.8h0M310.4 306.5h0M311.8 306.7h0M312.9 306.6h0M314.3 306.8h0M315.5 306.6h0M302.2 307.5h0M303.3 307.9h0M304.8 307.8h0M306.0 307.7h0M307.1 307.8h0M308.4 307.6h0M309.8 307.7h0M311.2 307.6h0M312.3 307.8h0M313.6 307.6h0M315.0 307.6h0M316.5 307.6h0M301.2 309.0h0M302.8 308.8h0M304.2 308.6h0M305.4 308.7h0M306.8 308.8h0M308.0 308.8h0M309.3 308.8h0M310.5 308.6h0M311.6 309.0h0M312.9 308.6h0M314.4 308.7h0M315.6 308.6h0M317.2 309.0h0M303.3 310.1h0M304.5 309.8h0M305.8 310.0h0M307.4 309.7h0M308.6 309.7h0M310.0 309.8h0M311.2 310.0h0M312.5 310.0h0M314.0 310.1h0M315.1 309.8h0M304.0 310.9h0M305.4 311.1h0M306.7 311.2h0M308.1 311.0h0M309.2 311.1h0M310.4 310.8h0M312.0 311.2h0M313.1 310.8h0M314.3 310.8h0M304.6 312.2h0M307.4 312.2h0M308.5 312.2h0M309.6 312.1h0M311.2 312.2h0M312.4 311.8h0M313.8 311.9h0M303.8 313.2h0M306.4 312.9h0M308.0 313.2h0M309.3 312.9h0M310.5 313.3h0M311.8 313.3h0M313.0 313.0h0M304.7 314.2h0M306.2 314.3h0M307.2 314.0h0M308.7 314.3h0M310.0 314.4h0M311.3 314.3h0M313.7 314.3h0M306.4 315.5h0M310.5 315.2h0M311.9 315.2h0M306.1 316.3h0M307.1 316.3h0M308.7 316.3h0M309.8 316.5h0M311.1 316.3h0M312.6 316.2h0M308.0 317.5h0M309.1 317.5h0M310.5 317.4h0M308.4 318.7h0" stroke="#7474bc" stroke-width="1.35" stroke-linecap="round" fill="none" opacity="0.8"/>
<line x1="300.45" y1="307.24" x2="317.95" y2="307.24" stroke="#c0102e" stroke-width="1.3" opacity="0.4"/>
<line x1="326.65" y1="299.20" x2="344.15" y2="299.20" stroke="#c0102e" stroke-width="1.4"/>
<path d="M335.5 266.9h0M335.1 270.2h0M335.1 271.3h0M335.4 272.3h0M335.5 277.7h0M334.7 278.7h0M335.9 279.1h0M334.1 280.0h0M335.4 279.7h0M336.6 279.7h0M334.9 281.1h0M336.0 281.2h0M334.2 282.2h0M335.4 282.1h0M336.9 282.0h0M334.5 283.2h0M336.1 283.2h0M337.2 283.1h0M334.0 284.2h0M335.4 284.3h0M336.8 284.4h0M333.4 285.5h0M334.7 285.5h0M337.5 285.5h0M332.7 286.4h0M336.8 286.2h0M337.9 286.6h0M333.6 287.4h0M334.8 287.4h0M336.0 287.6h0M337.2 287.6h0M331.5 288.7h0M332.6 288.5h0M335.3 288.5h0M336.9 288.4h0M339.4 288.6h0M334.8 289.8h0M336.2 289.8h0M337.2 289.6h0M331.6 290.7h0M332.6 290.8h0M334.1 290.8h0M335.6 290.5h0M336.8 290.8h0M338.2 290.7h0M339.1 290.6h0M332.2 292.0h0M333.4 291.7h0M334.6 291.6h0M336.0 291.8h0M337.2 291.7h0M338.6 291.9h0M331.3 292.9h0M333.0 292.8h0M334.1 293.0h0M335.5 292.6h0M336.8 292.8h0M338.1 293.0h0M339.5 292.9h0M329.4 293.7h0M331.0 294.0h0M334.8 293.9h0M337.5 294.0h0M338.5 294.0h0M339.9 294.2h0M341.1 293.8h0M328.9 295.2h0M330.4 295.2h0M331.4 295.0h0M332.9 295.1h0M334.2 294.9h0M335.6 295.1h0M336.6 294.8h0M338.0 295.1h0M339.3 294.8h0M341.8 294.9h0M329.5 296.3h0M331.1 296.2h0M333.7 296.2h0M334.6 296.0h0M336.1 296.0h0M337.2 295.9h0M338.9 296.2h0M339.7 296.1h0M341.3 296.0h0M327.7 296.9h0M329.0 297.4h0M330.0 297.4h0M331.3 297.4h0M332.7 297.2h0M334.1 297.1h0M335.5 297.1h0M336.8 297.4h0M338.2 297.3h0M339.5 297.2h0M340.5 297.4h0M341.8 297.4h0M328.4 298.5h0M329.7 298.2h0M330.8 298.4h0M332.1 298.4h0M333.3 298.3h0M334.8 298.0h0M336.0 298.4h0M337.1 298.2h0M338.8 298.3h0M339.8 298.1h0M341.3 298.4h0M327.6 299.1h0M329.0 299.3h0M330.2 299.3h0M331.5 299.3h0M333.0 299.3h0M334.2 299.5h0M335.6 299.4h0M336.7 299.1h0M337.8 299.1h0M339.5 299.5h0M340.7 299.4h0M342.1 299.1h0M343.2 299.1h0M326.9 300.6h0M328.4 300.4h0M329.6 300.2h0M330.7 300.5h0M332.3 300.2h0M333.7 300.4h0M334.7 300.4h0M337.4 300.4h0M338.5 300.6h0M339.9 300.2h0M341.1 300.4h0M342.6 300.4h0M343.9 300.4h0M327.6 301.6h0M328.9 301.3h0M330.2 301.7h0M331.4 301.7h0M332.7 301.5h0M334.3 301.7h0M336.9 301.3h0M338.0 301.3h0M339.1 301.4h0M340.8 301.4h0M341.9 301.5h0M343.0 301.7h0M329.4 302.8h0M332.2 302.4h0M333.3 302.4h0M335.8 302.6h0M337.2 302.8h0M338.6 302.7h0M340.1 302.7h0M341.2 302.5h0M328.7 303.5h0M330.0 303.8h0M331.5 303.6h0M333.0 303.8h0M334.2 303.9h0M335.3 303.8h0M337.8 303.6h0M339.5 303.5h0M340.8 303.8h0M341.9 303.6h0M330.7 304.7h0M333.4 304.5h0M334.7 304.5h0M336.0 304.8h0M337.3 304.9h0M338.9 304.8h0M340.1 304.8h0M330.0 305.7h0M331.7 305.6h0M332.8 305.7h0M334.1 305.7h0M335.2 305.9h0M336.8 305.8h0M337.9 305.9h0M339.1 305.9h0M340.7 305.8h0M331.0 306.8h0M332.3 306.8h0M334.9 307.1h0M335.8 307.1h0M337.2 306.8h0M338.4 306.7h0M339.7 307.0h0M331.3 307.8h0M333.9 307.8h0M336.5 307.9h0M337.8 307.9h0M339.4 307.8h0M332.2 308.9h0M333.7 309.0h0M334.6 309.1h0M336.1 309.1h0M337.2 309.1h0M338.5 309.2h0M331.3 310.3h0M332.6 310.3h0M334.1 309.9h0M335.4 310.3h0M336.5 310.3h0M337.8 310.3h0M339.4 310.0h0M332.4 311.1h0M333.3 311.4h0M334.8 311.3h0M335.9 311.0h0M337.1 311.0h0M338.6 311.5h0M333.9 312.4h0M335.6 312.1h0M336.7 312.1h0M333.6 313.4h0M334.7 313.3h0M336.3 313.4h0M337.1 313.3h0M333.9 314.3h0M335.4 314.4h0M336.8 314.4h0M335.0 315.8h0M336.3 315.5h0M334.2 316.4h0M335.5 316.4h0M336.8 316.6h0" stroke="#7474bc" stroke-width="1.35" stroke-linecap="round" fill="none" opacity="0.8"/>
<line x1="326.65" y1="299.20" x2="344.15" y2="299.20" stroke="#c0102e" stroke-width="1.3" opacity="0.4"/>
<line x1="353.15" y1="300.96" x2="370.65" y2="300.96" stroke="#c0102e" stroke-width="1.4"/>
<path d="M361.7 259.3h0M362.4 261.5h0M362.0 265.8h0M362.0 269.0h0M362.1 273.2h0M362.7 274.5h0M362.1 275.4h0M361.8 276.6h0M362.0 277.7h0M361.3 278.8h0M360.4 279.9h0M362.0 279.9h0M363.3 279.7h0M361.4 281.1h0M362.6 280.9h0M360.4 282.2h0M361.9 282.0h0M363.2 282.0h0M359.9 283.1h0M361.3 283.3h0M363.7 282.9h0M360.4 284.0h0M361.8 284.3h0M363.1 283.9h0M360.0 285.1h0M361.2 285.0h0M362.6 285.2h0M364.1 285.2h0M360.5 286.5h0M361.8 286.5h0M363.1 286.5h0M358.4 287.4h0M359.7 287.3h0M361.0 287.2h0M362.7 287.3h0M363.9 287.2h0M365.0 287.6h0M359.5 288.6h0M361.8 288.4h0M363.2 288.7h0M364.7 288.5h0M359.8 289.6h0M361.5 289.5h0M362.4 289.4h0M364.0 289.7h0M357.8 290.5h0M360.4 290.7h0M363.3 290.5h0M365.7 290.4h0M357.4 291.5h0M358.7 291.6h0M360.1 291.8h0M361.5 291.7h0M362.4 291.7h0M364.1 291.7h0M365.3 291.7h0M358.1 293.0h0M360.8 293.0h0M361.8 293.0h0M363.4 292.8h0M364.3 292.6h0M358.9 293.9h0M360.1 294.1h0M361.2 294.1h0M362.6 293.8h0M363.7 293.8h0M356.6 295.1h0M359.3 294.8h0M360.8 294.7h0M361.7 295.0h0M363.4 294.9h0M364.3 294.8h0M357.4 296.2h0M358.7 296.3h0M359.8 295.9h0M361.3 296.0h0M362.3 295.9h0M363.7 296.0h0M365.0 296.0h0M366.6 296.2h0M355.3 297.1h0M356.5 297.0h0M358.2 296.9h0M359.4 297.2h0M360.7 297.2h0M361.7 297.2h0M363.4 297.2h0M365.7 297.2h0M367.0 297.0h0M368.4 297.2h0M354.8 298.4h0M355.9 298.3h0M357.1 298.0h0M358.6 298.0h0M359.9 298.4h0M361.1 298.4h0M362.4 298.0h0M365.2 298.4h0M366.2 298.1h0M367.6 298.0h0M369.2 298.4h0M355.3 299.5h0M356.5 299.1h0M358.2 299.5h0M360.7 299.3h0M362.0 299.1h0M363.4 299.3h0M364.3 299.5h0M366.0 299.5h0M367.3 299.4h0M368.4 299.4h0M353.6 300.4h0M354.7 300.6h0M358.5 300.5h0M359.9 300.3h0M361.4 300.4h0M362.5 300.3h0M364.0 300.3h0M365.3 300.4h0M366.3 300.3h0M367.6 300.2h0M369.1 300.4h0M370.4 300.3h0M353.9 301.3h0M355.2 301.4h0M356.8 301.6h0M358.1 301.2h0M359.1 301.6h0M360.6 301.6h0M361.9 301.5h0M363.2 301.5h0M364.7 301.6h0M365.9 301.3h0M367.1 301.3h0M368.4 301.5h0M369.6 301.4h0M353.3 302.4h0M354.8 302.7h0M356.0 302.5h0M357.4 302.6h0M358.9 302.4h0M360.0 302.6h0M361.2 302.5h0M362.6 302.7h0M363.7 302.7h0M366.3 302.4h0M367.6 302.6h0M369.2 302.5h0M370.5 302.5h0M354.1 303.5h0M355.5 303.8h0M356.5 303.7h0M358.1 303.7h0M359.2 303.6h0M360.7 303.8h0M362.1 303.5h0M363.4 303.7h0M364.3 303.5h0M365.6 303.7h0M367.0 303.5h0M368.3 303.7h0M369.5 303.4h0M354.6 304.6h0M356.0 304.8h0M357.3 304.7h0M358.8 304.7h0M359.9 304.7h0M361.5 304.8h0M362.4 304.6h0M363.7 304.5h0M365.0 304.8h0M366.6 304.7h0M367.7 304.9h0M369.1 304.6h0M355.4 305.7h0M356.9 305.6h0M358.0 305.7h0M359.3 305.5h0M360.5 305.7h0M363.2 305.9h0M364.5 305.7h0M365.6 305.8h0M367.0 305.6h0M368.3 305.9h0M356.0 306.8h0M357.4 306.7h0M358.9 306.7h0M360.1 307.0h0M361.4 307.1h0M362.5 306.8h0M363.7 307.0h0M365.0 307.0h0M366.6 306.7h0M367.7 306.9h0M356.9 307.7h0M358.2 307.8h0M359.3 308.2h0M360.5 308.1h0M362.1 307.9h0M363.1 307.8h0M364.7 308.0h0M365.8 308.0h0M367.3 308.1h0M356.1 309.2h0M357.4 309.0h0M359.8 308.9h0M362.5 309.0h0M363.8 309.1h0M365.3 309.1h0M366.5 308.8h0M368.0 309.0h0M356.8 310.0h0M358.0 310.0h0M359.2 310.3h0M360.7 310.3h0M361.8 310.0h0M363.2 309.9h0M365.6 309.9h0M367.1 310.2h0M360.1 311.0h0M361.4 311.3h0M362.4 311.0h0M363.8 311.4h0M365.2 311.3h0M357.8 312.5h0M360.4 312.1h0M363.1 312.5h0M364.3 312.4h0M358.5 313.3h0M359.9 313.3h0M361.4 313.1h0M362.5 313.3h0M365.1 313.5h0M359.2 314.3h0M360.4 314.2h0M362.1 314.6h0M363.0 314.2h0M364.7 314.3h0M360.0 315.5h0M363.8 315.5h0M360.5 316.3h0M362.1 316.5h0M363.1 316.6h0M361.2 317.8h0M362.4 317.7h0M360.4 318.7h0M361.8 319.0h0M363.1 318.7h0M361.6 319.8h0" stroke="#7474bc" stroke-width="1.35" stroke-linecap="round" fill="none" opacity="0.8"/>
<line x1="353.15" y1="300.96" x2="370.65" y2="300.96" stroke="#c0102e" stroke-width="1.3" opacity="0.4"/>
<line x1="265.70" y1="249.00" x2="265.70" y2="328.20" stroke="#000" stroke-width="1.2"/>
<line x1="262.30" y1="327.60" x2="265.70" y2="327.60" stroke="#000" stroke-width="1.1"/>
<text x="259.00" y="331.10" font-size="10.2" text-anchor="end" textLength="5.05" lengthAdjust="spacingAndGlyphs" stroke="#231f20" stroke-width="0.08">0</text>
<line x1="262.30" y1="302.47" x2="265.70" y2="302.47" stroke="#000" stroke-width="1.1"/>
<text x="259.00" y="305.97" font-size="10.2" text-anchor="end" textLength="10.10" lengthAdjust="spacingAndGlyphs" stroke="#231f20" stroke-width="0.08">10</text>
<line x1="262.30" y1="277.34" x2="265.70" y2="277.34" stroke="#000" stroke-width="1.1"/>
<text x="259.00" y="280.84" font-size="10.2" text-anchor="end" textLength="10.10" lengthAdjust="spacingAndGlyphs" stroke="#231f20" stroke-width="0.08">20</text>
<line x1="262.30" y1="252.21" x2="265.70" y2="252.21" stroke="#000" stroke-width="1.1"/>
<text x="259.00" y="255.71" font-size="10.2" text-anchor="end" textLength="10.10" lengthAdjust="spacingAndGlyphs" stroke="#231f20" stroke-width="0.08">30</text>
<line x1="265.10" y1="327.60" x2="379.80" y2="327.60" stroke="#000" stroke-width="1.2"/>
<line x1="283.30" y1="327.60" x2="283.30" y2="331.20" stroke="#000" stroke-width="1.1"/>
<line x1="309.20" y1="327.60" x2="309.20" y2="331.20" stroke="#000" stroke-width="1.1"/>
<line x1="335.40" y1="327.60" x2="335.40" y2="331.20" stroke="#000" stroke-width="1.1"/>
<line x1="361.90" y1="327.60" x2="361.90" y2="331.20" stroke="#000" stroke-width="1.1"/>
<text x="242.70" y="288.20" font-size="11.6" text-anchor="middle" textLength="67.40" lengthAdjust="spacingAndGlyphs" transform="rotate(-90 242.70 288.20)" stroke="#231f20" stroke-width="0.08">Tract length (μm)</text>
<line x1="282.90" y1="253.40" x2="308.00" y2="253.40" stroke="#222" stroke-width="1.2"/>
<text x="276.80" y="249.80" font-size="8.6" textLength="36.20" lengthAdjust="spacingAndGlyphs" stroke="#231f20" stroke-width="0.08">P&lt;0.0001</text>
<line x1="308.80" y1="238.70" x2="360.40" y2="238.70" stroke="#222" stroke-width="1.2"/>
<text x="316.60" y="235.10" font-size="8.6" textLength="36.40" lengthAdjust="spacingAndGlyphs" stroke="#231f20" stroke-width="0.08">P=0.0002</text>
<text x="253.00" y="343.00" font-size="9.7" textLength="13.00" lengthAdjust="spacingAndGlyphs" stroke="#231f20" stroke-width="0.08">HU</text>
<text x="283.30" y="343.00" font-size="9.7" text-anchor="middle" textLength="3.00" lengthAdjust="spacingAndGlyphs" stroke="#231f20" stroke-width="0.08">-</text>
<text x="309.20" y="343.00" font-size="9.7" text-anchor="middle" textLength="5.40" lengthAdjust="spacingAndGlyphs" stroke="#231f20" stroke-width="0.08">+</text>
<text x="335.40" y="343.00" font-size="9.7" text-anchor="middle" textLength="3.00" lengthAdjust="spacingAndGlyphs" stroke="#231f20" stroke-width="0.08">-</text>
<text x="361.90" y="343.00" font-size="9.7" text-anchor="middle" textLength="5.40" lengthAdjust="spacingAndGlyphs" stroke="#231f20" stroke-width="0.08">+</text>
<line x1="279.00" y1="348.80" x2="314.40" y2="348.80" stroke="#222" stroke-width="1.2"/>
<line x1="331.70" y1="348.80" x2="367.50" y2="348.80" stroke="#222" stroke-width="1.2"/>
<text x="286.00" y="361.00" font-size="9.7" textLength="21.00" lengthAdjust="spacingAndGlyphs" stroke="#231f20" stroke-width="0.08">siLuc</text>
<text x="329.40" y="361.00" font-size="9.7" textLength="39.00" lengthAdjust="spacingAndGlyphs" stroke="#231f20" stroke-width="0.08">siSLFN11</text>
<line x1="279.00" y1="366.00" x2="374.00" y2="366.00" stroke="#222" stroke-width="1.2"/>
<text x="310.00" y="377.60" font-size="9.7" textLength="23.00" lengthAdjust="spacingAndGlyphs" stroke="#231f20" stroke-width="0.08">PD20</text>
<text x="8.40" y="409.80" font-size="14" textLength="8.90" lengthAdjust="spacingAndGlyphs" font-weight="bold" stroke="#231f20" stroke-width="0.35">C</text>
<text x="109.60" y="406.40" font-size="9.7" fill="#ab0f3a" textLength="14.00" lengthAdjust="spacingAndGlyphs" stroke="#ab0f3a" stroke-width="0.08">IdU</text>
<text x="128.00" y="406.40" font-size="9.7" fill="#66ad3e" textLength="20.00" lengthAdjust="spacingAndGlyphs" stroke="#66ad3e" stroke-width="0.08">CldU</text>
<text x="159.30" y="407.20" font-size="9.7" textLength="44.40" lengthAdjust="spacingAndGlyphs" stroke="#231f20" stroke-width="0.08">HU (4 mM)</text>
<line x1="105.00" y1="414.50" x2="123.10" y2="414.50" stroke="#b0103a" stroke-width="1.2"/>
<path d="M127.20 414.50L121.60 417.10L122.80 414.50L121.60 411.90Z" fill="#b0103a"/>
<line x1="127.40" y1="414.50" x2="144.70" y2="414.50" stroke="#7ab648" stroke-width="1.2"/>
<path d="M148.80 414.50L143.20 417.10L144.40 414.50L143.20 411.90Z" fill="#7ab648"/>
<line x1="148.80" y1="414.50" x2="214.50" y2="414.50" stroke="#222" stroke-width="1.2"/>
<line x1="214.50" y1="411.60" x2="214.50" y2="417.40" stroke="#222" stroke-width="1.2"/>
<text x="102.60" y="428.80" font-size="9.7" fill="#ab0f3a" textLength="28.00" lengthAdjust="spacingAndGlyphs" stroke="#ab0f3a" stroke-width="0.08">30 min</text>
<text x="131.00" y="428.80" font-size="9.7" fill="#66ad3e" textLength="28.00" lengthAdjust="spacingAndGlyphs" stroke="#66ad3e" stroke-width="0.08">30 min</text>
<text x="176.30" y="428.80" font-size="9.7" textLength="11.60" lengthAdjust="spacingAndGlyphs" stroke="#231f20" stroke-width="0.08">5 h</text>
<text x="83.30" y="452.00" font-size="9.7" textLength="13.60" lengthAdjust="spacingAndGlyphs" stroke="#231f20" stroke-width="0.08">WT</text>
<text x="56.00" y="475.00" font-size="9.7" textLength="43.00" lengthAdjust="spacingAndGlyphs" font-style="italic" stroke="#231f20" stroke-width="0.08">SLFN11-/-</text>
<text x="51.80" y="497.30" font-size="9.7" textLength="47.20" lengthAdjust="spacingAndGlyphs" font-style="italic" stroke="#231f20" stroke-width="0.08">FANCD2-/-</text>
<text x="8.90" y="519.50" font-size="9.7" textLength="90.00" lengthAdjust="spacingAndGlyphs" font-style="italic" stroke="#231f20" stroke-width="0.08">FANCD2-/-SLFN11-/-</text>
<clipPath id="fcl5"><rect x="102.2" y="442.6" width="102.40" height="12.60"/></clipPath>
<rect x="102.2" y="442.6" width="102.40" height="12.60" fill="#0c0a08"/>
<g clip-path="url(#fcl5)"><g filter="url(#fb)"><ellipse cx="106.0" cy="448.9" rx="1.2" ry="1.2" fill="#a02418" opacity="0.6"/><ellipse cx="110.6" cy="448.9" rx="2.100622424919578" ry="1.2491591989042086" fill="#e02a1c" opacity="0.6847353477493335"/><ellipse cx="113.4" cy="448.9" rx="1.6260896428825327" ry="1.6023201119234796" fill="#e02a1c" opacity="0.6824510184972546"/><ellipse cx="114.7" cy="448.9" rx="1.8602907067523353" ry="1.3632794349347812" fill="#e02a1c" opacity="0.8991773306089889"/><ellipse cx="116.4" cy="448.9" rx="2.1946284740137965" ry="1.33344395982749" fill="#e02a1c" opacity="0.7213337296569319"/><ellipse cx="117.6" cy="448.9" rx="1.6848637857766204" ry="1.4356583960230942" fill="#e02a1c" opacity="0.7981608287506694"/><ellipse cx="120.4" cy="448.9" rx="1.6749319359078632" ry="1.5412936830099362" fill="#e02a1c" opacity="0.8975200184411758"/><ellipse cx="122.2" cy="448.9" rx="1.6859528758964155" ry="1.5245695945740045" fill="#f08a20" opacity="0.8392091079256025"/><ellipse cx="123.6" cy="448.9" rx="1.7201812921119304" ry="1.3132167783411142" fill="#e02a1c" opacity="0.8036771307821375"/><ellipse cx="126.1" cy="448.9" rx="2.2620873922812916" ry="1.6072725419702292" fill="#ff3420" opacity="0.8527157056987903"/><ellipse cx="127.4" cy="448.9" rx="2.2313313544900883" ry="1.542088579411032" fill="#e02a1c" opacity="0.7413930920589183"/><ellipse cx="129.5" cy="448.9" rx="1.9770560485481907" ry="1.4820543374266462" fill="#e02a1c" opacity="0.6965201703880282"/><ellipse cx="131.0" cy="448.9" rx="2.273656910005997" ry="1.2726951632490595" fill="#ff3420" opacity="0.7773300092338414"/><ellipse cx="133.1" cy="448.9" rx="1.556882133088085" ry="1.4898794972119902" fill="#f08a20" opacity="0.7352307587656739"/><ellipse cx="136.2" cy="448.9" rx="1.6728407181409153" ry="1.2581867483232398" fill="#e02a1c" opacity="0.8977823476655038"/><ellipse cx="137.2" cy="448.9" rx="2.1192122995044707" ry="1.3067606523734152" fill="#e02a1c" opacity="0.7587900990309461"/><ellipse cx="139.8" cy="448.9" rx="1.888921162671056" ry="1.5248659505289335" fill="#e02a1c" opacity="0.8114089977436296"/><ellipse cx="141.1" cy="448.9" rx="2.101779484704477" ry="1.6037136979203517" fill="#e02a1c" opacity="0.7534562753768556"/><ellipse cx="142.9" cy="448.9" rx="1.8588402251440743" ry="1.607117932132918" fill="#f08a20" opacity="0.7047324849522999"/><ellipse cx="116.0" cy="448.9" rx="1.6" ry="1.4" fill="#d8e838" opacity="0.8"/><ellipse cx="129.0" cy="448.9" rx="1.5" ry="1.4" fill="#d8e838" opacity="0.7"/><ellipse cx="145.5" cy="448.9" rx="1.4583586457828228" ry="1.3773580474487195" fill="#5cd82c" opacity="0.7285038663942874"/><ellipse cx="145.9" cy="448.9" rx="1.7060703988718384" ry="1.4337984422762273" fill="#5cd82c" opacity="0.7926298449216607"/><ellipse cx="148.6" cy="448.9" rx="1.36050734645753" ry="1.3995542026668684" fill="#5cd82c" opacity="0.7034420715127037"/><ellipse cx="150.4" cy="448.9" rx="1.4980162236755543" ry="1.2172537154096363" fill="#98ec40" opacity="0.8831447742534861"/><ellipse cx="151.5" cy="448.9" rx="2.024867061356573" ry="1.1486509055181866" fill="#5cd82c" opacity="0.7108970466907535"/><ellipse cx="153.8" cy="448.9" rx="1.7377758976821753" ry="1.1934468174999553" fill="#5cd82c" opacity="0.7803011560415983"/><ellipse cx="155.1" cy="448.9" rx="1.9137622862497607" ry="1.3929593965166989" fill="#5cd82c" opacity="0.8029174607589323"/><ellipse cx="157.5" cy="448.9" rx="1.5159209209391369" ry="1.2334964998862585" fill="#5cd82c" opacity="0.7299029756275061"/><ellipse cx="159.1" cy="448.9" rx="1.4073558597225635" ry="1.2909308675196436" fill="#5cd82c" opacity="0.8578547283301614"/><ellipse cx="161.7" cy="448.9" rx="1.9470803284826488" ry="1.1565944378680044" fill="#98ec40" opacity="0.7334764716093226"/><ellipse cx="162.9" cy="448.9" rx="1.491589292889993" ry="1.119182244844631" fill="#5cd82c" opacity="0.6765161496660279"/><ellipse cx="165.2" cy="448.9" rx="1.6051826162216092" ry="1.2916763256655754" fill="#98ec40" opacity="0.8856075981190289"/><ellipse cx="167.1" cy="448.9" rx="1.7058950352560742" ry="1.1929307407853613" fill="#5cd82c" opacity="0.7596477732481953"/><ellipse cx="169.6" cy="448.9" rx="2.0114668573937347" ry="1.1551627804758084" fill="#5cd82c" opacity="0.8289760504656528"/><ellipse cx="170.5" cy="448.9" rx="1.5284712557351465" ry="1.105412231048118" fill="#5cd82c" opacity="0.6811619814428138"/><ellipse cx="173.8" cy="448.9" rx="1.4734762180655208" ry="1.4382675171134398" fill="#98ec40" opacity="0.8499788218558787"/><ellipse cx="175.1" cy="448.9" rx="1.4166182132447964" ry="1.2291898307895457" fill="#5cd82c" opacity="0.712417217988843"/><ellipse cx="177.4" cy="448.9" rx="1.7015207542933428" ry="1.409651036651409" fill="#5cd82c" opacity="0.7042020306029008"/><ellipse cx="179.0" cy="448.9" rx="1.9769659290403951" ry="1.2521526845268989" fill="#5cd82c" opacity="0.8597426943298032"/><ellipse cx="180.9" cy="448.9" rx="1.3928216552682169" ry="1.3382029008966467" fill="#5cd82c" opacity="0.7195916656541222"/><ellipse cx="182.2" cy="448.9" rx="1.4378024029149026" ry="1.2290956642054265" fill="#5cd82c" opacity="0.8895732572107751"/><ellipse cx="184.9" cy="448.9" rx="1.3994186108292288" ry="1.3704507870424156" fill="#5cd82c" opacity="0.6808533227163818"/><ellipse cx="186.1" cy="448.9" rx="1.4065315893872625" ry="1.240655346831605" fill="#5cd82c" opacity="0.8385941469944539"/><ellipse cx="188.7" cy="448.9" rx="1.9480982648588279" ry="1.398450008773138" fill="#5cd82c" opacity="0.6917949322136522"/><ellipse cx="190.1" cy="448.9" rx="1.404809567246607" ry="1.177037839759228" fill="#5cd82c" opacity="0.8972890695881721"/><ellipse cx="193.1" cy="448.9" rx="1.6080104458792563" ry="1.356967323183873" fill="#5cd82c" opacity="0.7534647158662958"/></g></g>
<clipPath id="fcl6"><rect x="102.2" y="465.0" width="102.40" height="13.00"/></clipPath>
<rect x="102.2" y="465.0" width="102.40" height="13.00" fill="#1c120c"/>
<g clip-path="url(#fcl6)"><g filter="url(#fb)"><ellipse cx="107.0" cy="470.5" rx="1.2" ry="1.2" fill="#a02418" opacity="0.6"/><ellipse cx="112.0" cy="470.7" rx="1.3" ry="1.3" fill="#e02a1c" opacity="0.8"/><ellipse cx="117.0" cy="470.8" rx="1.3" ry="1.3" fill="#e02a1c" opacity="0.6"/><ellipse cx="122.0" cy="471.0" rx="1.6" ry="1.5" fill="#ff3420" opacity="0.9"/><ellipse cx="128.0" cy="471.2" rx="1.3" ry="1.3" fill="#e02a1c" opacity="0.8"/><ellipse cx="132.0" cy="471.3" rx="1.4" ry="1.3" fill="#e02a1c" opacity="0.9"/><ellipse cx="135.6" cy="471.4" rx="1.5185880410340624" ry="1.653343496283746" fill="#d8e838" opacity="0.782767598678682"/><ellipse cx="139.2" cy="471.5" rx="1.4868285404583574" ry="1.568277199248523" fill="#d8e838" opacity="0.8138513875178176"/><ellipse cx="140.9" cy="471.6" rx="1.662772785960876" ry="1.6996025204868106" fill="#d8e838" opacity="0.8180144611069844"/><ellipse cx="142.9" cy="471.6" rx="1.9712219732684393" ry="1.6093880260244888" fill="#98ec40" opacity="0.8684644115385957"/><ellipse cx="145.8" cy="471.7" rx="1.7378134214880865" ry="1.5816086710283792" fill="#98ec40" opacity="0.7013828949595103"/><ellipse cx="147.5" cy="471.8" rx="2.0335472363958487" ry="1.3048026169644191" fill="#98ec40" opacity="0.7573157627337884"/><ellipse cx="149.3" cy="471.8" rx="1.5776730323160704" ry="1.4342424391665132" fill="#5cd82c" opacity="0.823163196395912"/><ellipse cx="151.2" cy="471.9" rx="1.4348577254850208" ry="1.2898115852032623" fill="#98ec40" opacity="0.8713699729455048"/><ellipse cx="156.0" cy="472.0" rx="1.3" ry="1.2" fill="#5cd82c" opacity="0.8"/><ellipse cx="161.0" cy="472.2" rx="1.2" ry="1.1" fill="#5cd82c" opacity="0.7"/><ellipse cx="165.1" cy="472.3" rx="1.9334618195588313" ry="1.7913494278070048" fill="#98ec40" opacity="0.9220193002738106"/><ellipse cx="166.6" cy="472.3" rx="1.5682049604652155" ry="1.4053757903005435" fill="#5cd82c" opacity="0.8340235536571742"/><ellipse cx="167.9" cy="472.4" rx="1.3609983572955182" ry="1.4343766251301575" fill="#98ec40" opacity="0.8369133084678706"/><ellipse cx="169.9" cy="472.4" rx="1.735333030815171" ry="1.7626449670543591" fill="#98ec40" opacity="0.9026104724358809"/><ellipse cx="172.2" cy="472.5" rx="1.5734194402746653" ry="1.4588816074840416" fill="#98ec40" opacity="0.8396286102388858"/><ellipse cx="174.4" cy="472.6" rx="1.520576653845183" ry="1.6883475189752155" fill="#98ec40" opacity="0.7390852193385198"/><ellipse cx="176.7" cy="472.6" rx="1.5509701699178506" ry="1.4161742386145868" fill="#5cd82c" opacity="0.7796871320676085"/><ellipse cx="178.5" cy="472.7" rx="1.8880717690012339" ry="1.524144727412967" fill="#5cd82c" opacity="0.9180330734924684"/><ellipse cx="179.9" cy="472.7" rx="1.6740962902203413" ry="1.422822364964473" fill="#98ec40" opacity="0.7778727925068533"/><ellipse cx="183.3" cy="472.8" rx="1.7582763068221468" ry="1.6642703057775043" fill="#98ec40" opacity="0.7393290288533139"/><ellipse cx="185.7" cy="472.9" rx="1.763134922327035" ry="1.6931397550551965" fill="#5cd82c" opacity="0.7366752499483674"/><ellipse cx="187.0" cy="473.0" rx="1.8913511729912298" ry="1.280074183221904" fill="#5cd82c" opacity="0.8373784284028216"/><ellipse cx="188.7" cy="473.0" rx="1.5975507690981754" ry="1.2855166238218039" fill="#5cd82c" opacity="0.8954513596230883"/><ellipse cx="190.0" cy="473.0" rx="1.3271135353015375" ry="1.655738605279869" fill="#98ec40" opacity="0.6936883186261437"/><ellipse cx="192.1" cy="473.1" rx="1.363204562882715" ry="1.6040157431372803" fill="#5cd82c" opacity="0.7741105651021308"/><ellipse cx="194.0" cy="473.2" rx="1.528909268549148" ry="1.3940901599768438" fill="#98ec40" opacity="0.8088202236083845"/><ellipse cx="197.0" cy="473.3" rx="1.8112561088302588" ry="1.5768142495417588" fill="#5cd82c" opacity="0.798373927598538"/><ellipse cx="197.9" cy="473.3" rx="1.4066446039303795" ry="1.4491918556865548" fill="#98ec40" opacity="0.6767054780083973"/></g></g>
<clipPath id="fcl7"><rect x="102.2" y="488.2" width="102.40" height="13.20"/></clipPath>
<rect x="102.2" y="488.2" width="102.40" height="13.20" fill="#1a140e"/>
<g clip-path="url(#fcl7)"><g filter="url(#fb)"><ellipse cx="112.2" cy="493.6" rx="1.5358456847744295" ry="1.8536980777110563" fill="#ff3420" opacity="0.8796119237521943"/><ellipse cx="113.7" cy="493.6" rx="1.9965116802908942" ry="1.5712977493360747" fill="#e02a1c" opacity="0.8393500031663468"/><ellipse cx="115.7" cy="493.6" rx="1.5790892538270587" ry="1.6530034257616397" fill="#e02a1c" opacity="0.7852521395001415"/><ellipse cx="118.1" cy="493.6" rx="1.8179738316492815" ry="1.5079632161722398" fill="#ff3420" opacity="0.7869122470383354"/><ellipse cx="119.5" cy="493.6" rx="1.8937076784384046" ry="1.747581488829189" fill="#e02a1c" opacity="0.8354871213391729"/><ellipse cx="121.7" cy="493.6" rx="1.8129554802516872" ry="1.9473224036562524" fill="#e02a1c" opacity="0.7061896396462111"/><ellipse cx="124.3" cy="493.6" rx="2.130585016594848" ry="1.8875803183931248" fill="#ff3420" opacity="0.8850028590046403"/><ellipse cx="126.0" cy="493.6" rx="1.6994302585446321" ry="1.703688064856777" fill="#ff3420" opacity="0.8211900715847112"/><ellipse cx="127.0" cy="493.6" rx="1.698470727722333" ry="1.5486418005792448" fill="#e02a1c" opacity="0.712695839553591"/><ellipse cx="129.4" cy="493.6" rx="1.849665794922795" ry="1.809106606453088" fill="#e02a1c" opacity="0.6786475236757259"/><ellipse cx="130.1" cy="493.6" rx="1.948410984529742" ry="1.8163332209690797" fill="#ff3420" opacity="0.6941419921610501"/><ellipse cx="132.1" cy="493.6" rx="2.0704557632659326" ry="1.9342445224915492" fill="#e02a1c" opacity="0.8489374746125181"/><ellipse cx="134.7" cy="493.6" rx="1.585010966361536" ry="1.906754915228699" fill="#e02a1c" opacity="0.7372453957792098"/><ellipse cx="136.3" cy="493.6" rx="2.045147789012425" ry="1.9306494508527154" fill="#e02a1c" opacity="0.6884188658911199"/><ellipse cx="137.0" cy="493.6" rx="2.0420037046763846" ry="1.5980096705239701" fill="#e02a1c" opacity="0.7595149931822884"/><ellipse cx="138.6" cy="493.6" rx="1.8628890362854158" ry="1.4995147651472396" fill="#e02a1c" opacity="0.8438394351999631"/><ellipse cx="142.5" cy="493.8" rx="2.4" ry="2.2" fill="#d8e838" opacity="1.0"/><ellipse cx="146.0" cy="494.0" rx="1.8" ry="1.8" fill="#f08a20" opacity="0.7"/><ellipse cx="147.5" cy="494.1" rx="1.812494315598201" ry="1.6110627947415979" fill="#5cd82c" opacity="0.8631764461086445"/><ellipse cx="148.2" cy="494.2" rx="1.896595558772553" ry="1.7171286978373486" fill="#98ec40" opacity="0.8210031553555931"/><ellipse cx="150.8" cy="494.4" rx="1.6477957333761204" ry="1.339978997646475" fill="#98ec40" opacity="0.9025426321154333"/><ellipse cx="151.8" cy="494.4" rx="1.4111037898785985" ry="1.404863692211853" fill="#5cd82c" opacity="0.798262927617541"/><ellipse cx="154.4" cy="494.6" rx="1.7496942399434159" ry="1.290325467759309" fill="#98ec40" opacity="0.8375825515732717"/><ellipse cx="155.1" cy="494.7" rx="1.3651533678615941" ry="1.5045574416190415" fill="#98ec40" opacity="0.7982131997406117"/><ellipse cx="157.0" cy="494.8" rx="1.5992736446760665" ry="1.3466786121532421" fill="#5cd82c" opacity="0.9168882130097891"/><ellipse cx="159.8" cy="495.0" rx="1.5718638214145448" ry="1.3772612790003964" fill="#5cd82c" opacity="0.8667386160611811"/><ellipse cx="160.7" cy="495.1" rx="1.8476231182995928" ry="1.49155656743359" fill="#5cd82c" opacity="0.7630952242819008"/><ellipse cx="162.7" cy="495.2" rx="1.4313798464730465" ry="1.5669295169498185" fill="#5cd82c" opacity="0.7758537331896675"/><ellipse cx="164.4" cy="495.3" rx="1.5919682773832464" ry="1.2882537673715018" fill="#98ec40" opacity="0.9498408573527971"/><ellipse cx="165.7" cy="495.4" rx="1.8072653219601067" ry="1.642922947471535" fill="#5cd82c" opacity="0.7810273904359453"/><ellipse cx="166.8" cy="495.5" rx="1.5600757009733288" ry="1.3701558981119073" fill="#5cd82c" opacity="0.8774547564938333"/><ellipse cx="168.2" cy="495.6" rx="1.406273438506668" ry="1.65142091158254" fill="#5cd82c" opacity="0.7657529733446917"/><ellipse cx="169.5" cy="495.7" rx="1.4922145949448933" ry="1.7100619643162367" fill="#98ec40" opacity="0.7235572971523311"/><ellipse cx="172.2" cy="495.9" rx="1.8368466396480456" ry="1.4311234901833443" fill="#98ec40" opacity="0.8431191869373598"/><ellipse cx="174.3" cy="496.0" rx="1.7296371413613252" ry="1.6383810914201766" fill="#5cd82c" opacity="0.8834060420624978"/><ellipse cx="180.0" cy="496.4" rx="1.4" ry="1.4" fill="#e02a1c" opacity="0.8"/><ellipse cx="194.6" cy="494.9" rx="2.0" ry="2.2" fill="#d8e838" opacity="0.9"/><ellipse cx="179.5" cy="490.4" rx="1.0" ry="1.0" fill="#5cd82c" opacity="0.8"/><ellipse cx="137.0" cy="498.6" rx="1.0" ry="1.0" fill="#5cd82c" opacity="0.8"/></g></g>
<clipPath id="fcl8"><rect x="102.2" y="509.8" width="102.40" height="13.20"/></clipPath>
<rect x="102.2" y="509.8" width="102.40" height="13.20" fill="#101412"/>
<g clip-path="url(#fcl8)"><g filter="url(#fb)"><ellipse cx="105.9" cy="516.6" rx="1.9614951508725282" ry="1.3048041613018428" fill="#a02418" opacity="0.7857958687354692"/><ellipse cx="107.8" cy="516.6" rx="1.6761878224627196" ry="1.594547325732301" fill="#e02a1c" opacity="0.7696920989409225"/><ellipse cx="108.9" cy="516.6" rx="1.8812143389936238" ry="1.512622121869243" fill="#a02418" opacity="0.6674262543602602"/><ellipse cx="110.9" cy="516.6" rx="1.960207725064445" ry="1.684321962362529" fill="#e02a1c" opacity="0.8209753112224896"/><ellipse cx="113.0" cy="516.6" rx="1.5137642146657753" ry="1.3265237524083164" fill="#e02a1c" opacity="0.6647343940280119"/><ellipse cx="115.5" cy="516.6" rx="1.651118697574765" ry="1.3572735373688838" fill="#e02a1c" opacity="0.7338758037864892"/><ellipse cx="117.0" cy="516.6" rx="1.5687876790174762" ry="1.3938658901323615" fill="#f08a20" opacity="0.784160806498191"/><ellipse cx="118.6" cy="516.6" rx="1.964581120675127" ry="1.386621279171783" fill="#e02a1c" opacity="0.7946813396985045"/><ellipse cx="120.7" cy="516.6" rx="1.6122749794507374" ry="1.4388234487112934" fill="#a02418" opacity="0.6516792811930838"/><ellipse cx="122.9" cy="516.6" rx="1.861509860129775" ry="1.2915778495327466" fill="#f08a20" opacity="0.7178004516734361"/><ellipse cx="124.0" cy="516.6" rx="1.8617075445768614" ry="1.5193203452928543" fill="#e02a1c" opacity="0.8072966279562241"/><ellipse cx="126.3" cy="516.6" rx="2.067609978777483" ry="1.6583186698266692" fill="#e02a1c" opacity="0.7818055402144972"/><ellipse cx="127.3" cy="516.6" rx="1.9362924398600236" ry="1.5662351860105606" fill="#e02a1c" opacity="0.6433039681179052"/><ellipse cx="129.0" cy="516.6" rx="1.5362288747815562" ry="1.358276923815227" fill="#e02a1c" opacity="0.7501714310703015"/><ellipse cx="130.7" cy="516.6" rx="1.8177538877499164" ry="1.698560258433682" fill="#a02418" opacity="0.6540258492437118"/><ellipse cx="133.0" cy="516.6" rx="1.9033053553470256" ry="1.62293403583764" fill="#a02418" opacity="0.6927558623062958"/><ellipse cx="134.9" cy="516.6" rx="1.5736803650508517" ry="1.4564508885510556" fill="#a02418" opacity="0.7885295048196822"/><ellipse cx="137.0" cy="516.6" rx="2.1075580993423597" ry="1.2848415903749655" fill="#f08a20" opacity="0.7602976604586832"/><ellipse cx="139.3" cy="516.6" rx="1.4894250384801664" ry="1.35432006847741" fill="#e02a1c" opacity="0.7634809465161508"/><ellipse cx="140.7" cy="516.6" rx="2.1183980021204127" ry="1.455825259633781" fill="#a02418" opacity="0.7714255081392877"/><ellipse cx="142.7" cy="516.6" rx="1.694438972736173" ry="1.3230120515024477" fill="#e02a1c" opacity="0.8215580606707575"/><ellipse cx="144.7" cy="516.6" rx="1.99870932574126" ry="1.5756053362563838" fill="#f08a20" opacity="0.6472309675947491"/><ellipse cx="147.0" cy="516.6" rx="1.70772021845402" ry="1.3998986071765236" fill="#a02418" opacity="0.7996679624993235"/><ellipse cx="148.8" cy="516.6" rx="2.1167663938912615" ry="1.6179622636246784" fill="#a02418" opacity="0.7325748839409353"/><ellipse cx="150.4" cy="516.6" rx="1.5361734679542431" ry="1.7248287491956376" fill="#f08a20" opacity="0.7708339190645013"/><ellipse cx="151.6" cy="516.6" rx="1.7326458516348717" ry="1.327473479668527" fill="#f08a20" opacity="0.6536821945351855"/><ellipse cx="152.7" cy="516.6" rx="1.3776387406337338" ry="1.3742433676721177" fill="#5cd82c" opacity="0.8389860876024006"/><ellipse cx="154.6" cy="516.6" rx="1.8430667927953797" ry="1.706503418956775" fill="#98ec40" opacity="0.6810994024660517"/><ellipse cx="156.5" cy="516.6" rx="1.4334132788197618" ry="1.431524881645886" fill="#5cd82c" opacity="0.8527605656106952"/><ellipse cx="158.1" cy="516.6" rx="1.563862304848254" ry="1.5972983325270547" fill="#98ec40" opacity="0.7785388946304613"/><ellipse cx="159.9" cy="516.6" rx="1.852696284369094" ry="1.6640034826134946" fill="#98ec40" opacity="0.8216417148136027"/><ellipse cx="162.5" cy="516.6" rx="1.7908237518299277" ry="1.6353940296246003" fill="#98ec40" opacity="0.8875631396250067"/><ellipse cx="165.1" cy="516.6" rx="1.6855571175544384" ry="1.5138410113324146" fill="#98ec40" opacity="0.6909124231994903"/><ellipse cx="166.3" cy="516.6" rx="1.8303611285565289" ry="1.5892668424453735" fill="#98ec40" opacity="0.6973112120436289"/><ellipse cx="169.6" cy="516.6" rx="1.7088092248137765" ry="1.462790197247574" fill="#98ec40" opacity="0.67868950376462"/><ellipse cx="170.7" cy="516.6" rx="1.7718017759308078" ry="1.5407392568306424" fill="#98ec40" opacity="0.7601745877901495"/><ellipse cx="172.4" cy="516.6" rx="1.6599011197645899" ry="1.3662308587318956" fill="#5cd82c" opacity="0.8751421297387816"/><ellipse cx="174.8" cy="516.6" rx="1.420775497400563" ry="1.625127040371171" fill="#5cd82c" opacity="0.749464666652698"/><ellipse cx="178.2" cy="516.6" rx="1.9526276414694803" ry="1.651569256003867" fill="#98ec40" opacity="0.8963125429497483"/><ellipse cx="181.0" cy="516.6" rx="1.8418354583929664" ry="1.289330916184042" fill="#5cd82c" opacity="0.6975155560576809"/><ellipse cx="183.8" cy="516.6" rx="1.3621583164310886" ry="1.4317751547299582" fill="#5cd82c" opacity="0.8244467301885643"/><ellipse cx="184.9" cy="516.6" rx="1.8535562693435566" ry="1.3334433330348805" fill="#5cd82c" opacity="0.7737690418431269"/><ellipse cx="187.6" cy="516.6" rx="1.895670504823572" ry="1.354448609475771" fill="#5cd82c" opacity="0.7660082893748411"/><ellipse cx="189.7" cy="516.6" rx="1.3726762427392785" ry="1.5058733694728805" fill="#5cd82c" opacity="0.8144308963695182"/><ellipse cx="191.1" cy="516.6" rx="1.8414631464437534" ry="1.6541929335919026" fill="#5cd82c" opacity="0.7045997709432614"/><ellipse cx="198.0" cy="513.6" rx="1.0" ry="1.0" fill="#5cd82c" opacity="0.6"/><ellipse cx="202.0" cy="512.6" rx="1.0" ry="1.0" fill="#5cd82c" opacity="0.6"/></g></g>
<line x1="274.45" y1="502.32" x2="291.95" y2="502.32" stroke="#c0102e" stroke-width="1.4"/>
<path d="M282.6 469.6h0M282.9 478.2h0M283.5 479.3h0M283.3 480.4h0M282.6 483.5h0M283.9 483.6h0M281.7 484.7h0M283.2 484.9h0M282.8 485.8h0M283.9 485.7h0M281.7 486.9h0M283.2 486.9h0M284.5 486.6h0M282.6 488.1h0M283.6 488.0h0M283.2 489.0h0M284.4 489.2h0M281.5 489.9h0M282.4 490.0h0M283.8 489.9h0M280.8 491.1h0M282.0 490.9h0M283.0 491.0h0M284.4 491.4h0M285.9 491.2h0M281.0 492.5h0M282.6 492.3h0M283.7 492.2h0M285.1 492.4h0M282.1 493.4h0M283.2 493.4h0M284.5 493.5h0M278.6 494.2h0M280.1 494.5h0M281.0 494.2h0M282.4 494.3h0M285.2 494.6h0M287.7 494.3h0M280.5 495.7h0M282.0 495.6h0M283.2 495.4h0M284.4 495.4h0M285.6 495.5h0M286.9 495.4h0M280.0 496.8h0M281.3 496.7h0M282.5 496.6h0M283.8 496.8h0M285.4 496.3h0M286.6 496.5h0M277.9 497.9h0M279.5 497.8h0M280.7 497.9h0M281.8 497.5h0M283.3 497.7h0M284.6 497.8h0M285.9 497.7h0M286.9 497.9h0M288.2 497.5h0M277.4 498.7h0M278.7 498.8h0M280.1 498.6h0M281.2 498.9h0M282.6 498.6h0M284.0 498.9h0M284.9 498.7h0M286.4 498.9h0M287.8 498.9h0M288.9 498.7h0M276.7 499.7h0M278.2 499.7h0M279.2 499.6h0M280.4 500.1h0M281.8 499.9h0M283.0 499.9h0M284.5 500.0h0M285.6 499.7h0M287.0 499.7h0M289.6 499.8h0M277.1 501.1h0M278.5 500.8h0M279.9 500.9h0M281.3 500.7h0M282.3 500.9h0M285.0 501.0h0M286.6 500.7h0M287.7 500.9h0M289.1 500.9h0M275.5 501.9h0M276.7 501.7h0M277.9 501.8h0M279.2 502.2h0M280.4 502.2h0M282.0 502.2h0M283.3 502.0h0M284.7 502.0h0M286.0 501.9h0M287.2 502.1h0M288.5 501.8h0M289.9 502.2h0M291.2 502.2h0M274.7 502.8h0M276.2 503.1h0M277.2 503.0h0M279.9 503.3h0M281.2 502.9h0M282.8 503.2h0M283.7 502.9h0M284.9 503.3h0M286.5 503.1h0M287.8 502.8h0M289.3 503.3h0M290.1 502.9h0M291.6 503.1h0M275.5 504.3h0M276.7 504.1h0M278.2 504.3h0M279.1 504.3h0M280.5 504.1h0M281.8 504.2h0M284.4 504.3h0M285.8 503.9h0M286.9 504.0h0M288.2 504.1h0M289.6 503.9h0M290.9 504.1h0M276.3 505.1h0M278.8 505.2h0M280.0 505.1h0M282.7 505.4h0M284.1 505.4h0M285.1 505.1h0M286.5 505.4h0M287.8 505.2h0M276.7 506.1h0M277.9 506.2h0M279.2 506.4h0M280.7 506.4h0M281.8 506.5h0M284.5 506.5h0M286.0 506.1h0M287.2 506.3h0M288.6 506.4h0M289.5 506.3h0M276.2 507.2h0M278.4 507.5h0M279.9 507.6h0M281.0 507.3h0M282.4 507.3h0M283.9 507.6h0M285.2 507.4h0M286.4 507.3h0M287.9 507.2h0M290.4 507.2h0M277.8 508.6h0M279.5 508.5h0M280.6 508.7h0M281.8 508.5h0M283.0 508.4h0M284.7 508.4h0M285.8 508.6h0M287.0 508.4h0M288.4 508.2h0M277.5 509.4h0M278.6 509.3h0M279.9 509.4h0M281.0 509.4h0M282.3 509.7h0M283.7 509.5h0M285.4 509.3h0M286.3 509.7h0M287.5 509.3h0M288.8 509.6h0M278.2 510.7h0M279.1 510.6h0M280.6 510.4h0M282.1 510.5h0M283.1 510.4h0M284.4 510.5h0M285.9 510.8h0M287.2 510.5h0M288.4 510.7h0M278.7 511.6h0M280.1 511.6h0M281.4 511.6h0M282.6 511.9h0M284.1 511.8h0M285.4 511.5h0M286.7 511.8h0M287.6 511.8h0M280.4 512.9h0M283.3 512.6h0M285.9 512.7h0M279.9 513.9h0M281.2 514.1h0M282.4 514.0h0M284.1 513.6h0M285.0 513.6h0M286.5 513.8h0M280.6 514.7h0M281.9 514.9h0M284.6 514.7h0M285.8 514.9h0M283.6 516.0h0" stroke="#7474bc" stroke-width="1.35" stroke-linecap="round" fill="none" opacity="0.8"/>
<line x1="274.45" y1="502.32" x2="291.95" y2="502.32" stroke="#c0102e" stroke-width="1.3" opacity="0.4"/>
<line x1="300.55" y1="500.81" x2="318.05" y2="500.81" stroke="#c0102e" stroke-width="1.4"/>
<path d="M309.5 463.8h0M309.3 466.0h0M309.3 470.3h0M309.0 472.5h0M309.8 474.6h0M309.1 475.6h0M309.0 477.9h0M308.9 478.9h0M309.8 478.9h0M307.9 480.0h0M310.5 480.1h0M308.5 481.1h0M309.9 481.4h0M309.5 482.1h0M310.4 482.4h0M308.7 483.5h0M310.0 483.5h0M308.0 484.2h0M307.3 485.5h0M310.0 485.3h0M308.2 486.5h0M310.7 486.7h0M307.1 487.6h0M308.6 487.7h0M310.0 487.6h0M311.0 487.6h0M306.7 488.4h0M308.2 488.8h0M309.5 488.8h0M310.5 488.9h0M311.9 488.6h0M307.4 489.8h0M308.6 489.7h0M309.8 490.0h0M311.2 489.8h0M305.5 491.0h0M306.6 490.8h0M307.8 490.9h0M309.4 490.8h0M310.7 490.9h0M312.1 490.9h0M313.0 490.7h0M306.0 492.0h0M307.5 491.8h0M308.9 491.7h0M309.9 491.7h0M311.4 491.9h0M312.3 491.7h0M305.5 492.8h0M306.7 492.9h0M307.9 493.1h0M309.3 493.1h0M310.8 493.1h0M312.1 493.1h0M313.3 493.2h0M304.9 494.3h0M306.2 494.1h0M307.2 494.1h0M308.6 494.2h0M309.9 494.3h0M311.3 493.9h0M312.5 494.2h0M314.0 493.9h0M302.6 494.9h0M304.1 495.2h0M306.5 495.3h0M308.1 495.3h0M309.2 495.2h0M310.5 494.9h0M312.1 495.3h0M314.5 495.2h0M316.0 495.0h0M303.2 496.1h0M304.8 496.4h0M306.2 496.3h0M307.4 496.1h0M308.5 496.2h0M310.2 496.1h0M311.0 496.0h0M312.6 496.3h0M313.8 496.3h0M315.0 496.4h0M304.2 497.5h0M305.2 497.1h0M306.5 497.5h0M307.9 497.4h0M309.5 497.2h0M310.8 497.1h0M311.8 497.4h0M313.2 497.2h0M314.5 497.4h0M303.7 498.3h0M304.9 498.2h0M306.0 498.2h0M307.5 498.5h0M308.7 498.6h0M310.1 498.2h0M311.1 498.4h0M312.7 498.4h0M313.7 498.3h0M315.4 498.2h0M301.7 499.4h0M302.9 499.6h0M305.2 499.5h0M306.5 499.5h0M308.0 499.5h0M309.3 499.4h0M310.8 499.4h0M311.9 499.4h0M313.4 499.3h0M314.7 499.7h0M315.6 499.6h0M317.2 499.3h0M300.9 500.4h0M303.6 500.6h0M304.7 500.6h0M306.1 500.4h0M307.3 500.6h0M308.8 500.6h0M310.1 500.6h0M311.1 500.7h0M313.9 500.8h0M315.2 500.7h0M316.3 500.8h0M317.9 500.3h0M301.6 501.8h0M302.6 501.6h0M304.1 501.9h0M305.5 501.7h0M306.9 501.6h0M308.2 501.5h0M309.4 501.7h0M310.4 501.5h0M312.1 501.6h0M313.4 501.5h0M314.7 501.6h0M315.9 501.9h0M317.0 501.8h0M302.3 502.6h0M303.6 502.9h0M304.6 502.8h0M305.9 502.9h0M307.6 502.7h0M308.9 502.7h0M309.9 502.5h0M311.5 502.7h0M312.7 502.5h0M313.9 502.8h0M315.1 502.6h0M301.7 503.9h0M302.9 503.7h0M303.9 503.8h0M305.4 503.6h0M308.1 503.8h0M309.2 503.9h0M310.6 503.9h0M312.0 503.7h0M313.3 503.9h0M314.7 504.0h0M316.0 503.6h0M317.3 503.7h0M302.0 504.7h0M303.6 505.1h0M304.9 504.8h0M305.9 504.9h0M307.1 504.9h0M308.4 504.7h0M310.2 505.0h0M311.3 505.1h0M312.3 505.0h0M314.0 505.0h0M315.3 504.8h0M304.0 505.9h0M305.5 505.8h0M306.5 506.0h0M308.2 505.9h0M309.5 505.9h0M310.4 505.8h0M311.8 505.8h0M313.1 505.8h0M314.4 506.0h0M304.8 506.9h0M306.3 506.8h0M307.2 507.1h0M308.7 507.1h0M311.1 506.9h0M312.6 506.9h0M313.6 507.3h0M302.9 508.3h0M303.9 508.0h0M305.6 508.0h0M308.0 508.3h0M310.4 507.9h0M312.0 508.0h0M313.4 507.9h0M314.7 508.1h0M315.9 508.0h0M304.7 509.3h0M306.1 509.3h0M307.2 509.0h0M308.7 509.0h0M311.2 509.2h0M312.4 509.3h0M313.7 509.4h0M305.5 510.1h0M306.5 510.2h0M308.0 510.1h0M309.1 510.4h0M310.8 510.3h0M311.9 510.3h0M306.0 511.6h0M308.4 511.5h0M309.9 511.5h0M311.5 511.6h0M312.5 511.4h0M306.5 512.4h0M308.2 512.5h0M310.6 512.6h0M311.9 512.6h0M307.6 513.5h0M308.8 513.7h0M310.2 513.5h0M308.1 514.6h0M309.1 514.5h0M310.5 514.5h0" stroke="#7474bc" stroke-width="1.35" stroke-linecap="round" fill="none" opacity="0.8"/>
<line x1="300.55" y1="500.81" x2="318.05" y2="500.81" stroke="#c0102e" stroke-width="1.3" opacity="0.4"/>
<line x1="326.85" y1="508.57" x2="344.35" y2="508.57" stroke="#c0102e" stroke-width="1.4"/>
<path d="M335.9 486.4h0M335.1 489.3h0M335.7 490.2h0M335.5 491.1h0M335.7 493.1h0M335.0 494.0h0M334.5 495.0h0M335.4 495.0h0M336.6 494.9h0M336.1 495.9h0M335.4 497.0h0M334.8 497.7h0M336.1 498.0h0M334.3 498.7h0M335.7 498.8h0M337.0 499.0h0M333.0 499.8h0M333.9 499.7h0M335.0 499.9h0M335.9 499.9h0M337.1 499.9h0M338.7 499.7h0M333.3 500.8h0M334.3 500.5h0M335.8 500.9h0M336.5 500.5h0M338.1 500.8h0M333.9 501.6h0M335.0 501.6h0M337.5 501.6h0M332.1 502.4h0M333.2 502.7h0M334.4 502.4h0M335.8 502.6h0M336.6 502.8h0M337.8 502.6h0M338.9 502.6h0M332.7 503.6h0M333.9 503.7h0M335.3 503.6h0M336.2 503.6h0M337.2 503.4h0M338.3 503.5h0M331.0 504.5h0M332.1 504.7h0M333.5 504.3h0M334.6 504.4h0M335.8 504.4h0M336.8 504.5h0M337.9 504.6h0M339.0 504.7h0M340.1 504.4h0M330.4 505.3h0M331.6 505.5h0M332.6 505.4h0M333.7 505.6h0M334.9 505.4h0M336.0 505.2h0M337.3 505.2h0M338.5 505.5h0M339.7 505.2h0M340.8 505.7h0M328.9 506.6h0M329.6 506.2h0M330.9 506.4h0M332.1 506.3h0M333.5 506.2h0M335.8 506.6h0M336.9 506.6h0M337.7 506.1h0M339.3 506.6h0M340.4 506.5h0M341.2 506.2h0M342.3 506.4h0M327.9 507.1h0M329.1 507.2h0M330.5 507.5h0M331.4 507.1h0M332.8 507.1h0M333.7 507.3h0M335.3 507.4h0M336.2 507.6h0M337.1 507.3h0M338.5 507.4h0M339.7 507.4h0M340.7 507.5h0M341.9 507.2h0M343.1 507.5h0M327.3 508.0h0M328.9 508.5h0M330.1 508.1h0M330.9 508.1h0M332.4 508.4h0M333.4 508.5h0M334.6 508.4h0M335.6 508.5h0M336.6 508.4h0M337.8 508.1h0M338.9 508.4h0M340.0 508.2h0M341.3 508.4h0M342.4 508.3h0M343.8 508.5h0M327.0 509.0h0M328.1 509.1h0M329.1 509.2h0M330.5 509.4h0M331.6 509.1h0M332.9 509.4h0M334.0 509.2h0M335.1 509.2h0M336.1 509.1h0M337.3 509.3h0M338.4 509.2h0M339.4 509.3h0M342.1 509.0h0M343.0 509.3h0M344.4 509.2h0M327.4 510.0h0M328.5 510.3h0M329.7 510.2h0M331.2 510.3h0M332.1 509.9h0M333.2 510.2h0M334.4 510.2h0M335.4 510.3h0M336.5 510.1h0M338.1 510.4h0M339.1 510.3h0M340.2 510.3h0M342.4 510.3h0M343.9 510.3h0M329.0 511.3h0M330.3 511.0h0M331.5 511.2h0M332.6 511.3h0M333.7 511.2h0M335.2 511.0h0M336.2 511.2h0M337.4 511.4h0M338.5 511.3h0M339.5 511.0h0M340.6 511.3h0M341.7 511.3h0M327.8 512.2h0M328.8 512.2h0M330.0 512.0h0M330.9 512.3h0M331.9 511.9h0M333.3 512.1h0M334.4 512.1h0M335.6 512.2h0M336.6 511.9h0M338.1 512.3h0M338.8 512.3h0M340.4 512.1h0M341.1 512.1h0M342.5 511.9h0M343.8 512.3h0M330.6 513.1h0M331.3 512.8h0M332.6 513.2h0M333.8 513.3h0M335.2 512.9h0M336.3 513.3h0M337.1 512.8h0M338.3 513.0h0M339.6 513.3h0M340.7 513.2h0M341.9 512.9h0M329.9 514.2h0M330.8 513.9h0M332.4 513.9h0M333.5 513.9h0M334.6 513.8h0M335.7 514.2h0M336.7 514.2h0M337.8 514.0h0M338.9 513.8h0M340.0 513.8h0M341.4 514.0h0M331.5 514.8h0M332.6 515.0h0M334.0 514.8h0M335.1 515.1h0M336.1 514.7h0M338.7 514.9h0M339.5 514.8h0M333.3 515.9h0M334.6 516.0h0M335.6 515.9h0M336.8 515.9h0M338.0 515.9h0" stroke="#7474bc" stroke-width="1.35" stroke-linecap="round" fill="none" opacity="0.8"/>
<line x1="326.85" y1="508.57" x2="344.35" y2="508.57" stroke="#c0102e" stroke-width="1.3" opacity="0.4"/>
<line x1="353.25" y1="503.65" x2="370.75" y2="503.65" stroke="#c0102e" stroke-width="1.4"/>
<path d="M362.1 471.3h0M362.2 475.6h0M361.5 476.5h0M362.5 476.5h0M361.9 477.8h0M362.0 480.0h0M362.2 484.1h0M361.5 485.5h0M362.5 485.4h0M362.2 486.3h0M360.0 487.6h0M361.5 487.3h0M364.0 487.5h0M360.8 488.6h0M362.1 488.7h0M363.5 488.5h0M360.2 489.6h0M361.3 489.8h0M362.5 489.6h0M363.8 489.8h0M360.6 490.9h0M362.0 491.0h0M363.4 490.7h0M358.9 491.7h0M360.0 492.0h0M361.4 491.7h0M362.9 492.0h0M363.8 491.7h0M365.2 492.0h0M359.2 493.1h0M360.8 492.9h0M362.0 493.0h0M363.2 493.0h0M364.7 492.9h0M358.7 494.1h0M360.2 493.9h0M361.2 494.1h0M362.6 493.8h0M363.7 494.0h0M365.1 493.8h0M359.4 495.1h0M360.8 494.8h0M362.1 495.0h0M363.1 495.0h0M364.8 494.9h0M358.7 496.3h0M360.3 496.2h0M361.5 496.0h0M362.4 496.1h0M364.0 496.1h0M365.4 496.1h0M358.0 497.0h0M359.4 497.2h0M360.6 497.2h0M362.1 497.4h0M363.3 497.0h0M364.7 497.3h0M365.8 497.0h0M355.9 498.5h0M360.3 498.2h0M361.4 498.4h0M362.6 498.2h0M363.7 498.2h0M365.1 498.5h0M366.4 498.2h0M367.8 498.4h0M355.5 499.5h0M356.7 499.5h0M358.3 499.2h0M359.4 499.2h0M360.9 499.4h0M362.2 499.5h0M363.4 499.6h0M364.5 499.5h0M365.7 499.3h0M367.1 499.6h0M368.7 499.4h0M355.9 500.6h0M357.5 500.6h0M358.7 500.6h0M360.3 500.5h0M361.6 500.5h0M362.7 500.5h0M363.9 500.6h0M365.1 500.6h0M366.4 500.6h0M367.7 500.5h0M355.5 501.5h0M357.0 501.4h0M358.3 501.7h0M359.4 501.4h0M360.8 501.3h0M361.9 501.7h0M363.3 501.3h0M364.5 501.6h0M367.3 501.4h0M368.3 501.7h0M354.9 502.5h0M356.3 502.8h0M357.4 502.5h0M358.9 502.8h0M361.5 502.8h0M362.8 502.5h0M363.8 502.8h0M365.4 502.5h0M366.6 502.6h0M367.9 502.6h0M369.3 502.7h0M354.2 503.7h0M355.5 503.8h0M356.9 503.5h0M358.0 503.9h0M359.6 503.5h0M360.7 503.7h0M361.9 503.6h0M363.5 503.8h0M364.8 503.6h0M365.9 503.7h0M367.0 503.8h0M368.5 503.5h0M369.9 503.8h0M353.6 504.5h0M354.9 504.9h0M356.0 504.5h0M357.3 504.7h0M358.6 504.6h0M360.1 504.7h0M361.2 504.9h0M362.6 504.6h0M363.7 504.8h0M366.8 504.7h0M368.0 505.0h0M369.1 504.8h0M355.5 505.8h0M356.7 505.7h0M358.1 506.0h0M359.4 505.8h0M360.6 505.8h0M361.8 505.7h0M363.2 505.8h0M364.7 505.8h0M366.1 505.8h0M367.2 505.8h0M368.3 505.8h0M355.1 506.9h0M356.2 507.1h0M357.6 506.9h0M360.2 506.7h0M362.6 507.1h0M364.1 507.0h0M365.3 506.9h0M367.9 507.0h0M356.9 508.2h0M358.3 507.8h0M359.5 508.2h0M360.6 508.0h0M361.9 508.0h0M363.4 508.2h0M364.7 508.2h0M366.0 508.2h0M367.4 507.8h0M356.3 509.3h0M357.4 509.1h0M358.9 509.2h0M360.1 509.3h0M361.3 509.2h0M362.8 509.2h0M363.9 509.0h0M365.4 508.9h0M366.6 508.8h0M367.8 509.2h0M358.1 509.9h0M359.2 510.0h0M360.5 509.9h0M362.1 510.3h0M363.4 510.1h0M364.7 510.0h0M366.0 510.0h0M358.7 511.2h0M360.1 511.0h0M361.2 511.1h0M362.8 511.3h0M363.9 511.0h0M365.0 511.2h0M357.9 512.3h0M359.4 512.5h0M360.7 512.5h0M361.9 512.5h0M363.1 512.3h0M364.4 512.5h0M365.7 512.3h0M360.0 513.6h0M361.4 513.2h0M362.5 513.4h0M363.7 513.2h0M362.1 514.7h0" stroke="#7474bc" stroke-width="1.35" stroke-linecap="round" fill="none" opacity="0.8"/>
<line x1="353.25" y1="503.65" x2="370.75" y2="503.65" stroke="#c0102e" stroke-width="1.3" opacity="0.4"/>
<line x1="265.70" y1="443.30" x2="265.70" y2="522.80" stroke="#000" stroke-width="1.2"/>
<line x1="262.30" y1="522.20" x2="265.70" y2="522.20" stroke="#000" stroke-width="1.1"/>
<text x="259.00" y="525.70" font-size="10.2" text-anchor="end" textLength="5.05" lengthAdjust="spacingAndGlyphs" stroke="#231f20" stroke-width="0.08">0</text>
<line x1="262.30" y1="503.27" x2="265.70" y2="503.27" stroke="#000" stroke-width="1.1"/>
<text x="259.00" y="506.77" font-size="10.2" text-anchor="end" textLength="10.10" lengthAdjust="spacingAndGlyphs" stroke="#231f20" stroke-width="0.08">10</text>
<line x1="262.30" y1="484.34" x2="265.70" y2="484.34" stroke="#000" stroke-width="1.1"/>
<text x="259.00" y="487.84" font-size="10.2" text-anchor="end" textLength="10.10" lengthAdjust="spacingAndGlyphs" stroke="#231f20" stroke-width="0.08">20</text>
<line x1="262.30" y1="465.41" x2="265.70" y2="465.41" stroke="#000" stroke-width="1.1"/>
<text x="259.00" y="468.91" font-size="10.2" text-anchor="end" textLength="10.10" lengthAdjust="spacingAndGlyphs" stroke="#231f20" stroke-width="0.08">30</text>
<line x1="262.30" y1="446.48" x2="265.70" y2="446.48" stroke="#000" stroke-width="1.1"/>
<text x="259.00" y="449.98" font-size="10.2" text-anchor="end" textLength="10.10" lengthAdjust="spacingAndGlyphs" stroke="#231f20" stroke-width="0.08">40</text>
<line x1="265.10" y1="522.20" x2="380.00" y2="522.20" stroke="#000" stroke-width="1.2"/>
<line x1="283.20" y1="522.20" x2="283.20" y2="525.80" stroke="#000" stroke-width="1.1"/>
<line x1="309.30" y1="522.20" x2="309.30" y2="525.80" stroke="#000" stroke-width="1.1"/>
<line x1="335.60" y1="522.20" x2="335.60" y2="525.80" stroke="#000" stroke-width="1.1"/>
<line x1="362.00" y1="522.20" x2="362.00" y2="525.80" stroke="#000" stroke-width="1.1"/>
<text x="242.70" y="483.00" font-size="11.6" text-anchor="middle" textLength="69.40" lengthAdjust="spacingAndGlyphs" transform="rotate(-90 242.70 483.00)" stroke="#231f20" stroke-width="0.08">Tract length (μm)</text>
<line x1="282.30" y1="436.00" x2="336.00" y2="436.00" stroke="#222" stroke-width="1.2"/>
<text x="290.20" y="432.40" font-size="8.6" textLength="38.00" lengthAdjust="spacingAndGlyphs" stroke="#231f20" stroke-width="0.08">P&lt;0.0001</text>
<line x1="282.30" y1="456.00" x2="308.50" y2="456.00" stroke="#222" stroke-width="1.2"/>
<text x="276.20" y="452.40" font-size="8.6" textLength="38.20" lengthAdjust="spacingAndGlyphs" stroke="#231f20" stroke-width="0.08">P=0.0006</text>
<line x1="335.20" y1="465.50" x2="360.80" y2="465.50" stroke="#222" stroke-width="1.2"/>
<text x="329.20" y="461.90" font-size="8.6" textLength="37.60" lengthAdjust="spacingAndGlyphs" stroke="#231f20" stroke-width="0.08">P&lt;0.0001</text>
<text x="253.00" y="538.00" font-size="9.7" textLength="13.00" lengthAdjust="spacingAndGlyphs" stroke="#231f20" stroke-width="0.08">HU</text>
<text x="283.20" y="538.00" font-size="9.7" text-anchor="middle" textLength="5.40" lengthAdjust="spacingAndGlyphs" stroke="#231f20" stroke-width="0.08">+</text>
<text x="309.30" y="538.00" font-size="9.7" text-anchor="middle" textLength="5.40" lengthAdjust="spacingAndGlyphs" stroke="#231f20" stroke-width="0.08">+</text>
<text x="335.60" y="538.00" font-size="9.7" text-anchor="middle" textLength="5.40" lengthAdjust="spacingAndGlyphs" stroke="#231f20" stroke-width="0.08">+</text>
<text x="362.00" y="538.00" font-size="9.7" text-anchor="middle" textLength="5.40" lengthAdjust="spacingAndGlyphs" stroke="#231f20" stroke-width="0.08">+</text>
<line x1="274.00" y1="543.20" x2="368.40" y2="543.20" stroke="#222" stroke-width="1.2"/>
<text x="287.60" y="551.60" font-size="9.7" text-anchor="end" textLength="40.60" lengthAdjust="spacingAndGlyphs" transform="rotate(-45 287.60 551.60)" stroke="#231f20" stroke-width="0.08">HAP1 WT</text>
<text x="312.40" y="552.60" font-size="9.7" text-anchor="end" textLength="42.00" lengthAdjust="spacingAndGlyphs" transform="rotate(-45 312.40 552.60)" stroke="#231f20" stroke-width="0.08">SLFN11-/-</text>
<text x="338.40" y="554.00" font-size="9.7" text-anchor="end" textLength="45.00" lengthAdjust="spacingAndGlyphs" transform="rotate(-45 338.40 554.00)" stroke="#231f20" stroke-width="0.08">FANCD2-/-</text>
<text x="364.40" y="554.00" font-size="9.7" text-anchor="end" textLength="45.00" lengthAdjust="spacingAndGlyphs" transform="rotate(-45 364.40 554.00)" stroke="#231f20" stroke-width="0.08">FANCD2-/-</text>
<text x="372.90" y="562.60" font-size="9.7" text-anchor="end" textLength="42.00" lengthAdjust="spacingAndGlyphs" transform="rotate(-45 372.90 562.60)" stroke="#231f20" stroke-width="0.08">SLFN11-/-</text>
<text x="8.60" y="619.20" font-size="14" textLength="10.20" lengthAdjust="spacingAndGlyphs" font-weight="bold" stroke="#231f20" stroke-width="0.35">D</text>
<text x="106.20" y="618.20" font-size="9.7" textLength="21.00" lengthAdjust="spacingAndGlyphs" stroke="#231f20" stroke-width="0.08">MMC</text>
<text x="97.20" y="628.40" font-size="9.7" textLength="41.00" lengthAdjust="spacingAndGlyphs" stroke="#231f20" stroke-width="0.08">(70 ng/ml)</text>
<text x="45.60" y="628.80" font-size="9.7" fill="#ab0f3a" textLength="14.00" lengthAdjust="spacingAndGlyphs" stroke="#ab0f3a" stroke-width="0.08">IdU</text>
<text x="64.20" y="628.80" font-size="9.7" fill="#66ad3e" textLength="20.20" lengthAdjust="spacingAndGlyphs" stroke="#66ad3e" stroke-width="0.08">CldU</text>
<line x1="36.30" y1="632.80" x2="56.50" y2="632.80" stroke="#b0103a" stroke-width="1.2"/>
<path d="M61.60 632.80L56.00 635.40L57.20 632.80L56.00 630.20Z" fill="#8c7ccc"/>
<line x1="61.60" y1="632.80" x2="80.50" y2="632.80" stroke="#7ab648" stroke-width="1.2"/>
<path d="M84.60 632.80L79.00 635.40L80.20 632.80L79.00 630.20Z" fill="#7ab648"/>
<line x1="84.60" y1="632.80" x2="150.20" y2="632.80" stroke="#222" stroke-width="1.2"/>
<line x1="150.20" y1="629.90" x2="150.20" y2="635.70" stroke="#222" stroke-width="1.2"/>
<text x="35.50" y="642.00" font-size="9.7" fill="#ab0f3a" textLength="25.80" lengthAdjust="spacingAndGlyphs" stroke="#ab0f3a" stroke-width="0.08">30 min</text>
<text x="67.20" y="642.00" font-size="9.7" fill="#66ad3e" textLength="25.80" lengthAdjust="spacingAndGlyphs" stroke="#66ad3e" stroke-width="0.08">30 min</text>
<text x="110.90" y="642.00" font-size="9.7" textLength="12.40" lengthAdjust="spacingAndGlyphs" stroke="#231f20" stroke-width="0.08">3 h</text>
<line x1="50.85" y1="728.19" x2="68.35" y2="728.19" stroke="#c0102e" stroke-width="1.4"/>
<path d="M59.0 706.6h0M60.4 706.6h0M59.7 707.5h0M58.7 708.8h0M60.1 708.8h0M60.2 710.6h0M59.5 711.9h0M58.9 712.7h0M58.5 714.1h0M59.6 713.9h0M60.8 713.8h0M57.9 715.0h0M58.9 714.9h0M60.1 715.0h0M61.8 715.2h0M58.3 716.2h0M59.8 716.1h0M60.8 716.1h0M57.7 717.1h0M59.0 717.4h0M60.0 717.4h0M57.0 718.5h0M58.4 718.3h0M59.7 718.3h0M61.0 718.3h0M62.2 718.3h0M55.0 719.5h0M56.1 719.3h0M57.7 719.4h0M58.9 719.6h0M60.1 719.3h0M61.5 719.3h0M62.6 719.6h0M55.6 720.7h0M58.3 720.5h0M59.8 720.3h0M60.7 720.6h0M62.4 720.5h0M63.7 720.6h0M56.4 721.6h0M57.5 721.4h0M59.1 721.3h0M60.2 721.5h0M61.6 721.4h0M63.0 721.5h0M54.6 722.7h0M55.5 722.6h0M57.2 722.4h0M58.1 722.6h0M59.5 722.7h0M60.8 722.8h0M62.0 722.5h0M63.5 722.9h0M64.6 722.8h0M53.7 723.9h0M55.2 723.8h0M56.2 723.8h0M57.6 723.9h0M58.9 723.5h0M60.4 723.9h0M61.5 723.8h0M62.6 723.9h0M64.3 723.9h0M54.2 725.0h0M55.8 724.8h0M57.0 724.7h0M58.2 724.7h0M59.7 724.6h0M61.0 724.9h0M62.2 724.9h0M63.4 724.6h0M65.0 724.6h0M53.7 725.7h0M55.1 725.8h0M56.2 725.9h0M57.9 725.7h0M59.1 725.7h0M60.5 726.0h0M61.4 726.1h0M62.8 725.7h0M64.3 726.1h0M65.6 725.7h0M53.2 727.0h0M54.2 727.1h0M55.9 726.9h0M57.0 726.8h0M58.5 726.9h0M59.8 727.0h0M61.1 727.0h0M62.0 727.1h0M63.5 726.9h0M64.9 726.7h0M52.4 728.2h0M53.9 728.1h0M55.0 728.0h0M56.1 728.0h0M57.6 728.3h0M58.8 728.1h0M60.4 728.0h0M61.6 728.1h0M62.9 728.2h0M64.2 728.0h0M65.4 728.2h0M67.0 727.9h0M67.8 727.9h0M51.8 729.3h0M53.2 728.9h0M54.3 729.4h0M55.5 729.1h0M57.0 729.1h0M58.5 729.0h0M59.8 729.1h0M60.7 729.0h0M62.3 729.4h0M63.3 729.3h0M64.9 729.1h0M66.1 729.0h0M67.3 728.9h0M50.9 730.3h0M52.3 730.4h0M54.9 730.0h0M57.7 730.3h0M59.2 730.1h0M60.1 730.0h0M61.3 730.2h0M62.9 730.4h0M64.1 730.3h0M65.4 730.0h0M66.9 730.4h0M68.1 730.2h0M51.8 731.0h0M53.2 731.5h0M54.4 731.5h0M55.8 731.1h0M57.2 731.4h0M59.4 731.4h0M60.7 731.4h0M62.2 731.4h0M63.5 731.4h0M65.0 731.2h0M65.9 731.5h0M67.2 731.4h0M52.6 732.1h0M54.0 732.2h0M56.4 732.4h0M57.7 732.5h0M58.9 732.4h0M60.2 732.5h0M63.1 732.5h0M64.1 732.4h0M65.5 732.5h0M66.7 732.4h0M54.6 733.3h0M55.8 733.7h0M57.1 733.2h0M58.5 733.4h0M59.5 733.2h0M60.8 733.7h0M62.3 733.5h0M63.7 733.5h0M54.9 734.6h0M56.3 734.5h0M57.5 734.6h0M58.7 734.4h0M60.1 734.3h0M63.0 734.8h0M64.1 734.3h0M54.2 735.4h0M56.8 735.5h0M58.3 735.5h0M59.4 735.7h0M60.7 735.7h0M62.2 735.8h0M63.7 735.7h0M64.6 735.4h0M55.2 736.8h0M57.5 736.5h0M59.2 736.9h0M60.4 736.6h0M61.6 736.5h0M62.9 736.4h0M64.0 736.5h0M57.2 737.6h0M58.5 737.6h0M60.8 737.6h0M62.0 737.9h0M57.9 739.0h0M59.1 738.8h0M60.4 738.6h0M61.3 738.9h0M62.8 738.7h0M58.5 739.9h0M59.6 740.1h0M61.0 740.0h0M58.9 741.1h0M60.0 741.0h0M61.6 741.2h0M58.2 741.9h0M59.4 742.0h0M61.1 742.0h0M58.8 742.9h0M60.0 743.3h0M58.1 744.2h0M59.7 744.3h0M61.0 744.2h0" stroke="#7474bc" stroke-width="1.35" stroke-linecap="round" fill="none" opacity="0.8"/>
<line x1="50.85" y1="728.19" x2="68.35" y2="728.19" stroke="#c0102e" stroke-width="1.3" opacity="0.4"/>
<line x1="77.05" y1="724.36" x2="94.55" y2="724.36" stroke="#c0102e" stroke-width="1.4"/>
<path d="M85.7 677.1h0M85.4 681.4h0M86.2 684.7h0M86.0 686.8h0M86.1 687.9h0M85.5 689.0h0M85.2 692.2h0M85.5 695.5h0M84.7 696.7h0M85.6 696.6h0M87.1 696.6h0M85.9 701.0h0M85.2 701.8h0M86.5 701.9h0M84.6 703.1h0M85.7 703.1h0M87.2 703.1h0M84.0 704.3h0M85.4 704.1h0M86.2 704.2h0M87.8 704.1h0M85.9 705.4h0M87.1 705.4h0M85.2 706.3h0M86.4 706.3h0M83.4 707.4h0M84.5 707.5h0M85.9 707.4h0M86.9 707.5h0M88.6 707.1h0M84.0 708.6h0M85.3 708.5h0M86.6 708.4h0M87.6 708.4h0M83.1 709.7h0M84.4 709.6h0M86.0 709.6h0M87.0 709.5h0M88.4 709.7h0M82.6 710.6h0M83.7 710.5h0M86.5 710.5h0M87.7 710.4h0M89.0 710.4h0M83.3 711.5h0M84.5 711.5h0M85.9 711.8h0M87.0 711.9h0M88.5 711.6h0M82.4 712.9h0M83.9 712.7h0M85.1 712.9h0M86.4 712.8h0M87.5 712.6h0M89.2 712.9h0M80.7 714.0h0M81.9 714.0h0M83.3 713.6h0M85.9 714.0h0M87.2 713.8h0M88.2 713.8h0M89.8 713.8h0M91.1 714.0h0M81.1 715.0h0M82.6 714.7h0M83.9 714.8h0M85.0 715.1h0M86.5 715.0h0M87.7 715.1h0M88.9 715.1h0M90.5 714.7h0M80.7 715.9h0M81.9 716.2h0M83.1 716.1h0M84.3 715.9h0M86.0 716.1h0M87.1 715.9h0M88.5 715.9h0M89.6 715.9h0M90.9 715.9h0M81.5 717.0h0M82.5 716.9h0M85.1 717.0h0M86.6 717.3h0M87.9 717.1h0M89.3 717.0h0M90.1 717.2h0M79.3 718.2h0M80.5 718.3h0M82.1 718.1h0M83.4 717.9h0M84.4 718.2h0M85.8 718.0h0M87.2 718.0h0M88.6 718.1h0M89.5 718.1h0M91.2 718.1h0M92.1 718.1h0M80.0 719.1h0M81.1 719.0h0M82.7 719.2h0M84.0 719.4h0M84.9 719.2h0M86.2 719.4h0M89.1 719.0h0M90.3 719.1h0M91.4 719.3h0M79.3 720.2h0M80.7 720.2h0M81.9 720.5h0M83.0 720.4h0M84.6 720.4h0M85.6 720.1h0M86.9 720.3h0M88.2 720.6h0M89.7 720.5h0M90.9 720.4h0M92.3 720.6h0M80.0 721.4h0M81.3 721.6h0M82.3 721.2h0M83.9 721.2h0M85.0 721.2h0M86.5 721.4h0M87.6 721.5h0M89.1 721.6h0M90.4 721.6h0M91.4 721.2h0M79.5 722.4h0M80.6 722.4h0M81.8 722.5h0M83.2 722.2h0M84.7 722.5h0M85.6 722.3h0M87.2 722.5h0M88.4 722.4h0M89.5 722.5h0M92.3 722.5h0M93.4 722.6h0M78.5 723.3h0M81.1 723.5h0M82.6 723.5h0M83.7 723.5h0M85.2 723.3h0M86.3 723.4h0M88.8 723.5h0M90.3 723.7h0M91.6 723.6h0M93.1 723.5h0M76.9 724.9h0M77.9 724.4h0M79.2 724.4h0M80.8 724.9h0M81.7 724.7h0M83.0 724.5h0M84.5 724.8h0M85.6 724.6h0M86.9 724.9h0M88.3 724.6h0M89.6 724.9h0M90.8 724.6h0M92.1 724.8h0M93.8 724.6h0M95.1 724.5h0M77.1 725.7h0M78.8 725.7h0M80.0 725.8h0M82.7 725.8h0M86.7 725.5h0M87.9 725.7h0M88.8 725.8h0M90.2 725.8h0M92.8 725.5h0M94.2 725.8h0M77.9 727.0h0M79.4 726.6h0M80.7 726.9h0M81.8 726.9h0M83.3 726.9h0M84.6 727.0h0M85.8 726.8h0M87.3 726.7h0M88.5 726.7h0M89.8 726.9h0M92.5 726.8h0M93.5 726.9h0M79.9 728.0h0M81.3 727.9h0M82.5 727.7h0M83.9 727.9h0M85.3 728.0h0M86.4 727.9h0M87.7 727.9h0M89.2 727.9h0M90.2 728.1h0M91.7 728.0h0M92.8 728.0h0M79.3 729.2h0M80.7 728.9h0M81.7 729.2h0M83.0 728.8h0M84.7 728.8h0M87.3 728.7h0M88.5 729.0h0M89.5 729.2h0M90.8 728.8h0M78.4 729.9h0M80.2 730.0h0M81.4 730.1h0M82.7 730.1h0M83.6 730.0h0M85.2 730.0h0M86.2 730.0h0M87.6 729.8h0M89.2 729.8h0M90.1 730.1h0M91.6 729.9h0M92.9 730.1h0M79.2 730.9h0M80.7 731.0h0M81.7 731.1h0M83.0 731.3h0M84.6 731.3h0M85.8 731.0h0M87.1 730.9h0M88.4 731.3h0M89.5 731.1h0M92.1 730.9h0M80.1 732.4h0M81.1 732.0h0M82.8 732.4h0M83.9 732.4h0M85.2 732.1h0M86.5 732.1h0M87.6 732.1h0M89.1 732.3h0M90.3 732.2h0M91.7 732.1h0M80.7 733.4h0M82.0 733.2h0M83.1 733.3h0M84.3 733.3h0M85.8 733.0h0M87.0 733.5h0M88.3 733.1h0M89.5 733.5h0M91.2 733.4h0M82.7 734.3h0M84.0 734.5h0M86.2 734.6h0M87.9 734.6h0M89.2 734.4h0M80.7 735.2h0M81.8 735.3h0M83.2 735.6h0M84.7 735.5h0M85.7 735.3h0M87.2 735.4h0M88.5 735.2h0M89.7 735.4h0M81.0 736.5h0M82.4 736.6h0M84.1 736.6h0M85.2 736.7h0M86.3 736.7h0M87.5 736.4h0M89.0 736.7h0M90.4 736.3h0M82.1 737.6h0M83.1 737.5h0M84.3 737.6h0M85.9 737.8h0M86.9 737.6h0M88.5 737.7h0M89.5 737.5h0M82.5 738.5h0M83.6 738.8h0M85.1 738.7h0M87.7 738.7h0M88.9 738.6h0M84.3 739.9h0M86.0 739.9h0M87.0 739.5h0M83.8 740.9h0M85.1 740.8h0M86.4 740.7h0M87.9 740.9h0M84.3 741.8h0M85.8 742.1h0M86.9 741.9h0M85.3 743.0h0M86.5 743.0h0M86.2 745.2h0" stroke="#7474bc" stroke-width="1.35" stroke-linecap="round" fill="none" opacity="0.8"/>
<line x1="77.05" y1="724.36" x2="94.55" y2="724.36" stroke="#c0102e" stroke-width="1.3" opacity="0.4"/>
<line x1="103.45" y1="732.02" x2="120.95" y2="732.02" stroke="#c0102e" stroke-width="1.4"/>
<path d="M112.2 698.9h0M111.8 707.4h0M112.1 710.5h0M111.9 711.4h0M112.9 711.4h0M112.4 712.1h0M111.6 713.0h0M113.0 713.3h0M111.2 714.1h0M112.4 713.8h0M113.4 713.9h0M111.5 717.0h0M109.8 718.0h0M110.9 717.9h0M112.3 717.6h0M113.2 717.7h0M114.3 717.8h0M110.4 718.8h0M111.6 718.9h0M112.8 718.7h0M113.7 718.8h0M109.8 719.8h0M111.1 719.7h0M112.0 720.0h0M113.2 719.7h0M114.6 720.0h0M109.5 720.5h0M110.4 720.6h0M111.6 720.8h0M112.7 720.9h0M108.6 721.6h0M111.3 721.9h0M112.4 721.9h0M113.2 721.6h0M114.6 721.8h0M115.9 721.8h0M109.5 722.7h0M110.7 722.4h0M111.5 722.8h0M112.7 722.7h0M113.9 722.8h0M115.2 722.4h0M108.8 723.4h0M109.7 723.7h0M110.8 723.8h0M112.0 723.4h0M113.3 723.6h0M114.3 723.4h0M115.5 723.5h0M107.9 724.6h0M109.4 724.5h0M110.6 724.3h0M111.5 724.3h0M112.9 724.8h0M113.7 724.7h0M115.1 724.6h0M116.3 724.7h0M108.7 725.6h0M109.7 725.4h0M110.9 725.4h0M112.2 725.7h0M113.4 725.6h0M114.7 725.5h0M107.1 726.4h0M108.3 726.4h0M109.5 726.6h0M110.5 726.5h0M111.5 726.6h0M112.9 726.4h0M114.1 726.2h0M115.1 726.7h0M116.1 726.4h0M117.3 726.3h0M106.3 727.5h0M107.6 727.3h0M108.5 727.3h0M109.9 727.3h0M110.9 727.5h0M112.3 727.6h0M113.1 727.3h0M116.6 727.6h0M117.8 727.2h0M107.0 728.5h0M108.2 728.4h0M109.2 728.2h0M110.5 728.3h0M111.7 728.2h0M113.0 728.1h0M113.9 728.2h0M115.3 728.2h0M116.1 728.4h0M105.4 729.3h0M106.5 729.1h0M107.8 729.2h0M108.8 729.5h0M109.9 729.1h0M111.1 729.0h0M112.1 729.4h0M113.1 729.2h0M114.3 729.2h0M115.5 729.5h0M117.0 729.1h0M118.0 729.2h0M118.9 729.3h0M104.8 730.1h0M106.1 730.1h0M107.0 730.2h0M108.3 730.3h0M109.2 730.4h0M110.5 730.0h0M111.8 730.1h0M112.9 730.2h0M113.9 730.1h0M115.2 730.3h0M116.1 730.2h0M117.2 730.4h0M118.6 730.0h0M119.8 730.3h0M105.2 731.3h0M106.3 731.0h0M107.8 731.4h0M108.8 731.4h0M110.0 731.0h0M111.1 731.3h0M112.3 731.3h0M113.2 731.4h0M114.5 731.0h0M116.9 731.1h0M118.1 731.1h0M119.0 731.2h0M102.4 732.0h0M103.5 732.1h0M104.8 732.2h0M105.7 732.0h0M106.9 732.0h0M108.2 732.3h0M109.3 732.4h0M110.4 732.3h0M111.6 732.2h0M112.6 732.0h0M114.0 732.3h0M116.3 732.3h0M117.2 732.3h0M118.4 732.1h0M119.7 732.0h0M120.9 732.4h0M122.0 731.9h0M104.1 733.3h0M105.2 733.2h0M106.4 732.9h0M107.5 733.0h0M108.7 733.2h0M109.8 733.0h0M110.8 733.2h0M112.3 733.0h0M113.2 733.0h0M114.6 732.9h0M115.7 732.9h0M116.8 733.3h0M117.8 732.9h0M119.1 733.0h0M120.5 733.3h0M104.7 734.2h0M106.0 734.2h0M107.1 734.0h0M107.9 733.8h0M109.3 733.8h0M110.4 733.8h0M111.8 733.9h0M112.8 733.8h0M114.1 733.8h0M115.2 734.1h0M116.2 734.0h0M117.4 734.2h0M118.7 734.0h0M119.8 733.9h0M105.4 735.2h0M106.6 735.2h0M107.4 735.0h0M108.8 735.2h0M110.0 734.8h0M110.8 734.8h0M112.4 735.2h0M114.4 734.7h0M115.9 734.8h0M117.0 734.9h0M117.8 735.2h0M119.2 734.8h0M105.9 735.8h0M106.8 736.1h0M108.0 736.1h0M109.6 736.0h0M110.3 735.7h0M111.6 735.7h0M112.6 735.8h0M113.8 735.8h0M115.1 736.1h0M116.2 735.8h0M117.6 736.0h0M118.6 736.1h0M106.6 736.8h0M107.8 736.7h0M109.7 736.9h0M111.0 736.8h0M112.4 737.1h0M113.4 737.1h0M115.7 736.8h0M116.7 736.9h0M118.1 737.1h0M105.6 738.0h0M106.9 738.0h0M108.1 737.6h0M109.3 737.7h0M110.6 737.9h0M111.8 737.7h0M112.5 738.0h0M113.8 738.0h0M115.1 737.7h0M116.1 738.0h0M117.6 737.8h0M118.6 737.7h0M107.8 738.7h0M109.7 738.6h0M111.2 738.9h0M112.0 738.6h0M113.2 738.9h0M114.3 738.7h0M115.8 738.7h0M116.6 738.9h0M107.2 739.7h0M108.2 739.9h0M109.3 739.6h0M110.5 739.5h0M111.4 739.9h0M113.0 739.7h0M113.7 739.5h0M115.2 739.7h0M116.4 739.5h0M117.5 739.7h0M108.8 740.7h0M109.8 740.7h0M111.2 740.5h0M112.1 740.5h0M113.1 740.5h0M114.7 740.7h0M115.6 740.8h0M109.1 741.7h0M110.6 741.5h0M111.5 741.7h0M113.0 741.7h0M115.2 741.8h0M108.6 742.5h0M109.7 742.5h0M111.1 742.6h0M112.3 742.4h0M113.3 742.6h0M115.7 742.6h0M110.4 743.7h0M111.5 743.5h0M113.0 743.3h0M113.9 743.6h0M111.2 744.3h0M112.3 744.5h0M113.5 744.4h0M110.7 745.6h0M111.9 745.6h0M113.0 745.4h0M113.9 745.6h0M112.3 746.6h0" stroke="#7474bc" stroke-width="1.35" stroke-linecap="round" fill="none" opacity="0.8"/>
<line x1="103.45" y1="732.02" x2="120.95" y2="732.02" stroke="#c0102e" stroke-width="1.3" opacity="0.4"/>
<line x1="129.65" y1="729.34" x2="147.15" y2="729.34" stroke="#c0102e" stroke-width="1.4"/>
<path d="M138.9 709.3h0M137.9 713.6h0M138.9 713.5h0M138.6 714.5h0M137.6 715.9h0M136.9 716.7h0M138.2 716.8h0M139.9 717.0h0M136.3 718.1h0M137.6 717.7h0M139.0 717.8h0M139.7 719.0h0M137.8 720.2h0M139.1 719.9h0M140.2 719.9h0M141.5 720.0h0M134.7 721.0h0M135.7 721.4h0M137.2 721.2h0M139.5 721.0h0M140.9 721.0h0M142.2 721.0h0M135.2 722.3h0M136.5 722.2h0M137.8 722.3h0M139.1 722.4h0M141.6 722.3h0M134.4 723.4h0M135.8 723.1h0M137.3 723.2h0M138.2 723.1h0M139.5 723.3h0M141.1 723.5h0M142.1 723.2h0M133.8 724.3h0M135.1 724.2h0M136.4 724.2h0M137.9 724.3h0M140.5 724.5h0M141.5 724.2h0M142.8 724.6h0M133.0 725.5h0M134.6 725.7h0M136.0 725.3h0M137.3 725.4h0M138.4 725.4h0M139.7 725.5h0M140.8 725.3h0M142.2 725.4h0M143.8 725.6h0M131.2 726.7h0M133.9 726.5h0M135.3 726.6h0M136.4 726.4h0M138.0 726.5h0M139.3 726.8h0M140.5 726.5h0M141.7 726.7h0M142.8 726.6h0M144.5 726.6h0M145.6 726.4h0M131.8 727.6h0M133.3 727.5h0M134.4 727.5h0M135.9 727.8h0M136.9 727.8h0M138.5 727.5h0M139.7 727.7h0M142.1 727.5h0M143.8 727.8h0M145.1 727.4h0M131.0 729.0h0M132.6 728.5h0M133.8 729.0h0M135.0 728.8h0M136.3 728.8h0M137.8 728.8h0M139.2 728.9h0M143.0 728.5h0M145.8 728.8h0M132.1 729.6h0M133.0 729.9h0M134.3 729.7h0M135.6 729.8h0M136.9 730.0h0M138.6 729.9h0M139.7 729.7h0M140.9 729.6h0M142.3 730.0h0M143.4 729.6h0M146.2 729.7h0M131.4 731.1h0M132.6 730.6h0M133.6 730.6h0M135.2 731.0h0M136.7 730.8h0M138.0 730.9h0M138.9 730.9h0M140.4 730.6h0M141.6 730.9h0M143.0 730.8h0M144.1 731.0h0M145.7 730.7h0M131.9 732.2h0M133.4 731.8h0M134.7 731.8h0M135.8 731.9h0M137.2 731.9h0M138.5 732.1h0M139.6 731.8h0M141.2 731.8h0M142.5 732.2h0M143.4 732.1h0M145.0 731.7h0M131.2 733.2h0M132.3 733.2h0M133.8 733.2h0M134.9 733.3h0M136.7 733.0h0M137.6 732.9h0M139.3 733.1h0M140.5 732.9h0M141.8 733.1h0M142.8 733.3h0M144.1 733.0h0M145.7 733.2h0M133.3 734.3h0M134.3 733.9h0M135.9 734.0h0M138.6 734.1h0M139.6 734.0h0M141.1 734.2h0M142.2 734.0h0M133.7 735.4h0M135.0 735.0h0M136.5 735.0h0M138.0 735.0h0M139.1 735.4h0M140.2 735.2h0M141.7 735.0h0M143.0 735.1h0M133.4 736.2h0M134.4 736.2h0M135.9 736.4h0M137.3 736.1h0M138.2 736.2h0M139.7 736.3h0M142.1 736.4h0M143.7 736.3h0M135.2 737.2h0M136.3 737.3h0M137.8 737.6h0M138.9 737.3h0M140.5 737.5h0M141.7 737.4h0M136.0 738.5h0M137.3 738.6h0M138.3 738.5h0M139.8 738.6h0M141.0 738.5h0M136.7 739.4h0M137.6 739.3h0M139.1 739.6h0M140.4 739.4h0M138.4 740.5h0M138.9 741.7h0" stroke="#7474bc" stroke-width="1.35" stroke-linecap="round" fill="none" opacity="0.8"/>
<line x1="129.65" y1="729.34" x2="147.15" y2="729.34" stroke="#c0102e" stroke-width="1.3" opacity="0.4"/>
<line x1="42.30" y1="671.40" x2="42.30" y2="751.20" stroke="#000" stroke-width="1.2"/>
<line x1="38.90" y1="750.60" x2="42.30" y2="750.60" stroke="#000" stroke-width="1.1"/>
<text x="35.60" y="754.10" font-size="10.2" text-anchor="end" textLength="5.05" lengthAdjust="spacingAndGlyphs" stroke="#231f20" stroke-width="0.08">0</text>
<line x1="38.90" y1="731.45" x2="42.30" y2="731.45" stroke="#000" stroke-width="1.1"/>
<text x="35.60" y="734.95" font-size="10.2" text-anchor="end" textLength="10.10" lengthAdjust="spacingAndGlyphs" stroke="#231f20" stroke-width="0.08">10</text>
<line x1="38.90" y1="712.30" x2="42.30" y2="712.30" stroke="#000" stroke-width="1.1"/>
<text x="35.60" y="715.80" font-size="10.2" text-anchor="end" textLength="10.10" lengthAdjust="spacingAndGlyphs" stroke="#231f20" stroke-width="0.08">20</text>
<line x1="38.90" y1="693.15" x2="42.30" y2="693.15" stroke="#000" stroke-width="1.1"/>
<text x="35.60" y="696.65" font-size="10.2" text-anchor="end" textLength="10.10" lengthAdjust="spacingAndGlyphs" stroke="#231f20" stroke-width="0.08">30</text>
<line x1="38.90" y1="674.00" x2="42.30" y2="674.00" stroke="#000" stroke-width="1.1"/>
<text x="35.60" y="677.50" font-size="10.2" text-anchor="end" textLength="10.10" lengthAdjust="spacingAndGlyphs" stroke="#231f20" stroke-width="0.08">40</text>
<line x1="41.70" y1="750.60" x2="150.80" y2="750.60" stroke="#000" stroke-width="1.2"/>
<line x1="59.60" y1="750.60" x2="59.60" y2="754.20" stroke="#000" stroke-width="1.1"/>
<line x1="85.80" y1="750.60" x2="85.80" y2="754.20" stroke="#000" stroke-width="1.1"/>
<line x1="112.20" y1="750.60" x2="112.20" y2="754.20" stroke="#000" stroke-width="1.1"/>
<line x1="138.40" y1="750.60" x2="138.40" y2="754.20" stroke="#000" stroke-width="1.1"/>
<text x="19.30" y="711.60" font-size="11.6" text-anchor="middle" textLength="67.60" lengthAdjust="spacingAndGlyphs" transform="rotate(-90 19.30 711.60)" stroke="#231f20" stroke-width="0.08">Tract length (μm)</text>
<line x1="59.00" y1="657.50" x2="112.30" y2="657.50" stroke="#222" stroke-width="1.2"/>
<text x="67.20" y="653.90" font-size="8.6" textLength="37.40" lengthAdjust="spacingAndGlyphs" stroke="#231f20" stroke-width="0.08">P&lt;0.0001</text>
<line x1="59.00" y1="672.50" x2="84.60" y2="672.50" stroke="#222" stroke-width="1.2"/>
<text x="53.20" y="668.90" font-size="8.6" textLength="37.60" lengthAdjust="spacingAndGlyphs" stroke="#231f20" stroke-width="0.08">P&lt;0.0001</text>
<line x1="112.30" y1="693.00" x2="137.00" y2="693.00" stroke="#222" stroke-width="1.2"/>
<text x="105.60" y="689.40" font-size="8.6" textLength="37.40" lengthAdjust="spacingAndGlyphs" stroke="#231f20" stroke-width="0.08">P&lt;0.0001</text>
<text x="29.80" y="766.20" font-size="9.7" textLength="22.60" lengthAdjust="spacingAndGlyphs" stroke="#231f20" stroke-width="0.08">MMC</text>
<text x="59.60" y="766.00" font-size="9.7" text-anchor="middle" textLength="5.40" lengthAdjust="spacingAndGlyphs" stroke="#231f20" stroke-width="0.08">+</text>
<text x="85.80" y="766.00" font-size="9.7" text-anchor="middle" textLength="5.40" lengthAdjust="spacingAndGlyphs" stroke="#231f20" stroke-width="0.08">+</text>
<text x="112.20" y="766.00" font-size="9.7" text-anchor="middle" textLength="5.40" lengthAdjust="spacingAndGlyphs" stroke="#231f20" stroke-width="0.08">+</text>
<text x="138.40" y="766.00" font-size="9.7" text-anchor="middle" textLength="5.40" lengthAdjust="spacingAndGlyphs" stroke="#231f20" stroke-width="0.08">+</text>
<line x1="50.80" y1="770.80" x2="144.60" y2="770.80" stroke="#222" stroke-width="1.2"/>
<text x="63.50" y="781.00" font-size="9.7" text-anchor="end" textLength="40.60" lengthAdjust="spacingAndGlyphs" transform="rotate(-45 63.50 781.00)" stroke="#231f20" stroke-width="0.08">HAP1 WT</text>
<text x="88.50" y="782.00" font-size="9.7" text-anchor="end" textLength="42.00" lengthAdjust="spacingAndGlyphs" transform="rotate(-45 88.50 782.00)" stroke="#231f20" stroke-width="0.08">SLFN11-/-</text>
<text x="115.00" y="783.00" font-size="9.7" text-anchor="end" textLength="45.00" lengthAdjust="spacingAndGlyphs" transform="rotate(-45 115.00 783.00)" stroke="#231f20" stroke-width="0.08">FANCD2-/-</text>
<text x="141.50" y="781.50" font-size="9.7" text-anchor="end" textLength="45.00" lengthAdjust="spacingAndGlyphs" transform="rotate(-45 141.50 781.50)" stroke="#231f20" stroke-width="0.08">FANCD2-/-</text>
<text x="149.50" y="790.00" font-size="9.7" text-anchor="end" textLength="42.00" lengthAdjust="spacingAndGlyphs" transform="rotate(-45 149.50 790.00)" stroke="#231f20" stroke-width="0.08">SLFN11-/-</text>
<text x="173.60" y="620.20" font-size="14" textLength="9.00" lengthAdjust="spacingAndGlyphs" font-weight="bold" stroke="#231f20" stroke-width="0.35">E</text>
<text x="206.40" y="627.60" font-size="9.7" textLength="30.40" lengthAdjust="spacingAndGlyphs" stroke="#231f20" stroke-width="0.08">DOX(+)</text>
<text x="249.00" y="627.60" font-size="9.7" fill="#ab0f3a" textLength="13.40" lengthAdjust="spacingAndGlyphs" stroke="#ab0f3a" stroke-width="0.08">IdU</text>
<text x="268.60" y="627.60" font-size="9.7" fill="#66ad3e" textLength="19.20" lengthAdjust="spacingAndGlyphs" stroke="#66ad3e" stroke-width="0.08">CldU</text>
<text x="303.40" y="615.60" font-size="9.7" textLength="22.60" lengthAdjust="spacingAndGlyphs" stroke="#231f20" stroke-width="0.08">HU+/-</text>
<text x="301.60" y="626.60" font-size="9.7" textLength="27.60" lengthAdjust="spacingAndGlyphs" stroke="#231f20" stroke-width="0.08">(4 mM)</text>
<line x1="197.70" y1="631.80" x2="241.90" y2="631.80" stroke="#000" stroke-width="1.2"/>
<path d="M246.00 631.80L240.40 634.40L241.60 631.80L240.40 629.20Z" fill="#000"/>
<line x1="246.00" y1="631.80" x2="262.30" y2="631.80" stroke="#b0103a" stroke-width="1.2"/>
<path d="M266.40 631.80L260.80 634.40L262.00 631.80L260.80 629.20Z" fill="#b0103a"/>
<line x1="266.40" y1="631.80" x2="283.70" y2="631.80" stroke="#7ab648" stroke-width="1.2"/>
<path d="M287.80 631.80L282.20 634.40L283.40 631.80L282.20 629.20Z" fill="#7ab648"/>
<line x1="287.80" y1="631.80" x2="342.00" y2="631.80" stroke="#222" stroke-width="1.2"/>
<line x1="342.00" y1="628.90" x2="342.00" y2="634.70" stroke="#222" stroke-width="1.2"/>
<text x="213.40" y="643.20" font-size="9.7" textLength="17.20" lengthAdjust="spacingAndGlyphs" stroke="#231f20" stroke-width="0.08">48 h</text>
<text x="241.00" y="643.20" font-size="9.7" fill="#ab0f3a" textLength="26.00" lengthAdjust="spacingAndGlyphs" stroke="#ab0f3a" stroke-width="0.08">30 min</text>
<text x="270.40" y="643.20" font-size="9.7" fill="#66ad3e" textLength="27.00" lengthAdjust="spacingAndGlyphs" stroke="#66ad3e" stroke-width="0.08">30 min</text>
<text x="308.60" y="643.20" font-size="9.7" textLength="13.60" lengthAdjust="spacingAndGlyphs" stroke="#231f20" stroke-width="0.08">5 h</text>
<line x1="216.95" y1="722.85" x2="234.45" y2="722.85" stroke="#c0102e" stroke-width="1.4"/>
<path d="M226.0 689.6h0M226.2 690.7h0M226.0 691.8h0M225.6 695.1h0M226.2 699.3h0M225.2 700.5h0M226.2 700.3h0M225.2 702.5h0M226.5 702.7h0M224.4 706.0h0M225.5 705.9h0M227.1 706.0h0M225.3 706.7h0M224.6 708.2h0M225.8 708.1h0M226.5 709.0h0M224.5 710.2h0M226.8 710.4h0M224.0 711.5h0M225.3 711.1h0M221.9 712.2h0M223.3 712.2h0M224.2 712.5h0M225.7 712.2h0M226.8 712.2h0M228.4 712.2h0M229.8 712.4h0M222.4 713.6h0M223.9 713.3h0M224.9 713.6h0M226.3 713.3h0M227.9 713.2h0M228.8 713.6h0M222.0 714.7h0M223.3 714.7h0M224.3 714.3h0M225.6 714.7h0M227.1 714.6h0M228.5 714.5h0M229.7 714.5h0M221.1 715.7h0M222.6 715.6h0M223.7 715.6h0M225.2 715.5h0M226.4 715.4h0M227.6 715.6h0M228.9 715.5h0M230.1 715.7h0M220.3 716.4h0M221.8 716.6h0M223.2 716.5h0M224.3 716.4h0M225.6 716.5h0M227.0 716.5h0M228.2 716.7h0M229.6 716.5h0M231.0 716.4h0M221.2 717.6h0M222.5 717.7h0M223.6 717.9h0M225.1 717.6h0M226.2 717.5h0M227.5 717.8h0M228.8 717.7h0M230.3 717.9h0M220.7 719.0h0M221.7 718.9h0M222.9 718.7h0M224.3 718.7h0M225.9 718.6h0M227.0 718.6h0M228.1 718.9h0M229.5 718.7h0M230.9 718.7h0M219.9 720.0h0M221.3 720.0h0M222.5 719.8h0M223.9 719.8h0M225.3 720.1h0M227.8 720.0h0M229.1 719.7h0M230.4 719.6h0M231.5 719.7h0M233.0 719.8h0M219.0 721.0h0M220.5 720.9h0M221.6 721.1h0M222.9 720.8h0M224.5 721.1h0M225.6 720.8h0M227.0 721.1h0M228.2 721.0h0M229.6 720.9h0M230.9 721.1h0M232.4 720.8h0M217.3 721.9h0M218.7 721.9h0M219.9 722.1h0M221.3 722.0h0M222.3 722.0h0M223.6 721.8h0M224.9 722.2h0M226.4 722.2h0M227.7 722.1h0M229.1 721.8h0M230.4 722.1h0M231.5 721.8h0M232.8 722.0h0M218.0 723.1h0M219.3 723.1h0M220.6 723.2h0M221.6 723.1h0M223.1 723.1h0M224.3 723.1h0M225.6 722.9h0M227.1 722.9h0M228.5 723.2h0M229.8 723.2h0M231.0 723.3h0M232.2 723.1h0M233.4 723.1h0M219.6 724.3h0M220.9 724.4h0M222.5 724.3h0M223.7 724.4h0M225.0 724.4h0M226.2 724.0h0M227.6 724.3h0M228.9 724.4h0M230.5 723.9h0M231.6 724.0h0M232.8 724.2h0M219.0 725.4h0M220.5 725.3h0M221.9 725.4h0M223.2 725.4h0M224.3 725.0h0M225.5 725.5h0M226.8 725.5h0M228.5 725.3h0M229.4 725.2h0M230.7 725.3h0M232.3 725.3h0M218.6 726.2h0M220.1 726.3h0M221.1 726.2h0M222.7 726.1h0M223.6 726.2h0M224.9 726.4h0M226.2 726.6h0M227.8 726.4h0M228.8 726.5h0M230.1 726.5h0M231.3 726.5h0M233.1 726.2h0M219.4 727.6h0M220.6 727.5h0M221.9 727.7h0M223.1 727.6h0M224.2 727.6h0M225.9 727.5h0M227.2 727.5h0M228.3 727.2h0M229.4 727.3h0M230.9 727.7h0M232.3 727.4h0M218.4 728.6h0M220.0 728.5h0M221.1 728.4h0M223.7 728.6h0M225.2 728.7h0M226.2 728.7h0M228.9 728.5h0M230.4 728.6h0M232.7 728.7h0M219.1 729.6h0M220.5 729.5h0M221.9 729.6h0M222.9 729.5h0M224.6 729.8h0M225.8 729.4h0M226.9 729.7h0M228.4 729.6h0M229.5 729.7h0M231.1 729.6h0M232.4 729.6h0M220.1 730.7h0M221.0 730.7h0M222.6 730.8h0M223.7 730.5h0M226.5 730.8h0M228.7 730.8h0M230.1 730.8h0M220.5 731.8h0M221.6 732.0h0M222.9 731.8h0M224.2 731.6h0M225.8 731.5h0M226.9 731.6h0M228.5 731.9h0M229.4 731.7h0M230.7 731.9h0M221.2 732.8h0M222.3 732.8h0M223.6 732.7h0M226.4 732.9h0M227.5 733.0h0M228.7 732.9h0M230.3 732.6h0M221.9 733.7h0M224.3 733.7h0M225.9 734.1h0M226.8 734.1h0M229.5 733.9h0M221.1 735.1h0M222.5 735.0h0M223.6 735.2h0M225.1 735.0h0M226.2 735.2h0M227.7 734.9h0M229.2 734.9h0M230.4 734.9h0M221.7 736.1h0M223.2 736.2h0M224.6 736.2h0M225.9 736.3h0M227.0 736.2h0M228.1 736.1h0M229.4 735.9h0M222.6 737.3h0M224.0 737.0h0M224.9 737.0h0M226.5 737.2h0M227.6 736.9h0M229.0 737.1h0M224.4 738.1h0M225.5 738.1h0M227.2 738.0h0M228.1 738.1h0M223.9 739.3h0M225.1 739.3h0M226.5 739.3h0M227.8 739.5h0M224.3 740.4h0M225.5 740.6h0M226.8 740.4h0" stroke="#7474bc" stroke-width="1.35" stroke-linecap="round" fill="none" opacity="0.8"/>
<line x1="216.95" y1="722.85" x2="234.45" y2="722.85" stroke="#c0102e" stroke-width="1.3" opacity="0.4"/>
<line x1="243.65" y1="734.30" x2="261.15" y2="734.30" stroke="#c0102e" stroke-width="1.4"/>
<path d="M252.6 711.6h0M252.0 718.7h0M252.8 718.5h0M252.9 719.6h0M251.3 721.5h0M252.5 721.7h0M253.6 721.6h0M250.5 722.6h0M251.6 722.4h0M252.9 722.5h0M254.4 722.8h0M251.0 723.6h0M252.6 723.7h0M253.7 723.4h0M251.6 724.7h0M253.0 724.6h0M250.1 725.5h0M251.0 725.8h0M252.2 725.7h0M253.5 725.4h0M249.4 726.7h0M250.5 726.4h0M251.8 726.8h0M253.2 726.4h0M254.4 726.4h0M255.4 726.7h0M248.9 727.4h0M249.9 727.6h0M251.1 727.5h0M252.4 727.4h0M253.8 727.6h0M254.6 727.5h0M255.9 727.8h0M248.3 728.5h0M249.4 728.7h0M250.6 728.7h0M251.8 728.5h0M253.1 728.4h0M254.1 728.6h0M255.3 728.7h0M256.6 728.6h0M247.4 729.5h0M248.9 729.5h0M250.2 729.7h0M251.1 729.6h0M252.3 729.6h0M253.5 729.5h0M254.9 729.7h0M256.2 729.7h0M257.1 729.5h0M247.0 730.6h0M248.2 730.8h0M249.3 730.4h0M250.5 730.5h0M251.9 730.5h0M252.8 730.7h0M254.2 730.7h0M255.4 730.5h0M256.5 730.6h0M257.8 730.6h0M246.5 731.4h0M247.5 731.8h0M249.0 731.7h0M249.9 731.7h0M251.3 731.8h0M252.3 731.8h0M253.4 731.5h0M254.9 731.8h0M257.1 731.7h0M258.6 731.6h0M244.7 732.4h0M245.9 732.6h0M247.2 732.7h0M248.2 732.7h0M249.4 732.7h0M250.7 732.5h0M251.6 732.4h0M253.1 732.6h0M254.2 732.7h0M255.2 732.6h0M256.5 732.8h0M258.0 732.8h0M259.0 732.7h0M260.0 732.4h0M244.2 733.4h0M245.0 733.8h0M246.3 733.7h0M247.5 733.4h0M248.6 733.5h0M249.8 733.6h0M251.4 733.8h0M252.4 733.6h0M253.7 733.5h0M254.6 733.4h0M255.8 733.8h0M257.2 733.7h0M258.3 733.6h0M259.4 733.5h0M260.9 733.4h0M244.6 734.6h0M245.6 734.7h0M247.0 734.5h0M248.0 734.6h0M249.2 734.8h0M250.6 734.5h0M251.9 734.7h0M252.9 734.8h0M254.4 734.6h0M255.2 734.8h0M256.7 734.5h0M257.9 734.4h0M258.9 734.7h0M260.3 734.6h0M245.2 735.5h0M246.4 735.6h0M247.8 735.7h0M248.9 735.5h0M250.1 735.5h0M251.4 735.4h0M252.4 735.6h0M253.5 735.4h0M254.7 735.5h0M255.8 735.5h0M257.3 735.7h0M258.2 735.5h0M259.4 735.6h0M244.5 736.6h0M245.9 736.4h0M248.3 736.8h0M249.3 736.6h0M250.7 736.5h0M252.0 736.4h0M252.9 736.8h0M254.3 736.5h0M255.3 736.4h0M256.4 736.5h0M257.6 736.6h0M258.9 736.8h0M260.0 736.4h0M246.5 737.4h0M247.8 737.6h0M248.9 737.8h0M249.9 737.7h0M251.3 737.6h0M252.2 737.6h0M255.0 737.5h0M256.0 737.4h0M257.3 737.5h0M258.2 737.7h0M246.0 738.7h0M247.1 738.6h0M248.3 738.7h0M249.4 738.6h0M250.5 738.4h0M251.8 738.8h0M252.9 738.6h0M254.2 738.6h0M255.2 738.8h0M256.6 738.5h0M257.9 738.8h0M259.0 738.8h0M247.5 739.7h0M249.8 739.8h0M251.4 739.4h0M252.6 739.4h0M253.5 739.5h0M254.9 739.7h0M256.0 739.8h0M257.2 739.7h0M246.8 740.6h0M248.2 740.6h0M249.3 740.6h0M250.4 740.5h0M251.6 740.5h0M252.8 740.7h0M254.4 740.5h0M255.2 740.4h0M256.5 740.4h0M258.0 740.8h0M247.6 741.5h0M249.0 741.4h0M250.1 741.8h0M251.3 741.8h0M252.6 741.5h0M253.4 741.7h0M255.0 741.5h0M256.2 741.5h0M249.6 742.8h0M250.5 742.7h0M251.6 742.7h0M253.0 742.4h0M254.1 742.7h0M255.4 742.8h0M248.9 743.6h0M250.2 743.5h0M251.3 743.5h0M252.6 743.7h0M253.8 743.4h0M254.9 743.5h0M256.1 743.4h0M250.6 744.7h0M252.8 744.8h0M254.0 744.6h0M252.4 745.4h0" stroke="#7474bc" stroke-width="1.35" stroke-linecap="round" fill="none" opacity="0.8"/>
<line x1="243.65" y1="734.30" x2="261.15" y2="734.30" stroke="#c0102e" stroke-width="1.3" opacity="0.4"/>
<line x1="270.15" y1="723.24" x2="287.65" y2="723.24" stroke="#c0102e" stroke-width="1.4"/>
<path d="M279.2 685.4h0M278.7 694.2h0M278.4 695.2h0M279.7 695.3h0M278.7 696.3h0M278.1 697.2h0M279.7 697.4h0M278.9 698.5h0M279.0 700.5h0M278.4 701.4h0M279.3 701.7h0M277.7 702.7h0M278.8 702.7h0M280.3 702.6h0M278.2 703.6h0M279.3 703.6h0M278.8 704.9h0M278.1 705.9h0M279.4 706.1h0M277.5 707.1h0M278.8 707.1h0M280.2 706.9h0M278.4 708.2h0M279.7 708.0h0M280.8 708.0h0M276.2 709.1h0M277.5 709.2h0M278.8 709.4h0M280.4 709.3h0M281.4 709.0h0M276.9 710.3h0M278.5 710.3h0M279.7 710.1h0M280.9 710.2h0M276.5 711.1h0M279.0 711.2h0M280.3 711.5h0M281.4 711.2h0M277.2 712.2h0M278.3 712.6h0M279.7 712.4h0M281.0 712.5h0M282.1 712.4h0M277.5 713.5h0M279.1 713.5h0M280.1 713.5h0M281.7 713.7h0M275.7 714.4h0M276.9 714.7h0M278.1 714.6h0M279.7 714.8h0M276.5 715.6h0M277.5 715.5h0M278.8 715.8h0M280.2 715.8h0M281.4 715.7h0M282.9 715.6h0M274.2 716.9h0M275.7 717.0h0M276.9 716.8h0M278.0 716.6h0M279.4 716.8h0M281.1 716.6h0M282.3 716.6h0M283.6 716.5h0M272.5 717.6h0M273.7 718.0h0M275.1 717.9h0M277.7 718.0h0M278.7 717.9h0M280.3 717.6h0M281.7 717.7h0M282.6 717.7h0M284.2 717.9h0M285.6 717.8h0M272.9 719.0h0M274.2 718.7h0M275.8 718.7h0M276.9 719.1h0M279.3 718.8h0M280.8 718.9h0M282.1 718.7h0M283.6 718.9h0M284.7 718.8h0M272.4 719.9h0M273.6 720.1h0M275.0 719.9h0M276.3 719.9h0M277.5 720.0h0M278.7 720.0h0M280.4 719.8h0M281.4 719.9h0M282.8 719.8h0M284.0 720.0h0M285.6 719.8h0M272.9 721.0h0M274.3 721.1h0M275.8 721.1h0M277.0 721.3h0M278.0 721.2h0M280.6 720.8h0M282.4 721.2h0M283.4 720.9h0M284.8 721.1h0M272.5 722.0h0M273.8 722.0h0M274.8 722.1h0M276.4 722.0h0M277.5 722.0h0M279.0 722.0h0M280.0 722.3h0M281.3 722.0h0M282.9 722.1h0M283.9 722.3h0M285.5 722.2h0M270.4 723.3h0M271.5 723.1h0M273.3 723.1h0M274.3 723.5h0M275.8 723.2h0M276.8 723.4h0M281.0 723.5h0M282.1 723.0h0M283.6 723.0h0M284.7 723.4h0M285.9 723.4h0M287.4 723.3h0M270.9 724.4h0M272.2 724.2h0M273.8 724.4h0M275.2 724.2h0M276.1 724.1h0M277.7 724.3h0M279.1 724.4h0M280.0 724.3h0M281.7 724.2h0M283.0 724.3h0M284.3 724.3h0M285.5 724.4h0M286.5 724.3h0M271.6 725.4h0M273.0 725.5h0M274.4 725.4h0M275.5 725.1h0M276.9 725.6h0M278.1 725.6h0M279.8 725.1h0M280.7 725.6h0M282.1 725.5h0M283.4 725.5h0M284.6 725.5h0M286.2 725.4h0M273.7 726.4h0M275.0 726.5h0M276.2 726.6h0M278.9 726.4h0M280.0 726.3h0M281.4 726.4h0M284.2 726.2h0M285.5 726.4h0M272.0 727.7h0M273.1 727.6h0M274.4 727.3h0M275.5 727.6h0M277.1 727.4h0M278.5 727.7h0M279.5 727.6h0M280.7 727.5h0M282.0 727.7h0M283.5 727.4h0M284.6 727.5h0M285.8 727.3h0M271.2 728.8h0M272.5 728.5h0M273.9 728.6h0M275.1 728.8h0M276.2 728.6h0M277.7 728.5h0M278.8 728.6h0M280.4 728.4h0M281.5 728.8h0M282.7 728.5h0M284.3 728.6h0M285.4 728.4h0M286.7 728.4h0M274.5 729.5h0M276.8 729.8h0M278.1 729.9h0M279.3 729.6h0M281.9 729.7h0M283.5 729.9h0M284.9 729.9h0M273.9 730.6h0M275.0 731.0h0M276.1 730.8h0M277.4 730.6h0M278.9 730.6h0M280.1 730.8h0M281.4 730.6h0M282.8 731.0h0M284.3 730.9h0M273.0 732.0h0M274.1 731.7h0M275.7 732.1h0M276.8 732.0h0M278.2 731.8h0M279.7 731.7h0M280.9 731.8h0M282.1 732.0h0M283.5 732.0h0M284.9 731.6h0M274.9 732.8h0M276.3 733.1h0M278.8 732.9h0M280.0 733.1h0M281.4 732.7h0M282.7 733.1h0M275.5 734.0h0M277.2 734.1h0M278.1 733.8h0M279.4 734.2h0M280.9 734.2h0M282.1 734.2h0M283.6 734.2h0M276.5 734.9h0M277.4 735.2h0M279.0 734.9h0M280.2 734.9h0M281.7 735.0h0M275.8 736.2h0M276.8 736.1h0M278.0 736.0h0M279.7 736.0h0M281.1 736.1h0M282.4 736.3h0M276.5 737.2h0M277.8 737.1h0M278.8 737.1h0M281.5 737.3h0M278.3 738.4h0M279.6 738.2h0" stroke="#7474bc" stroke-width="1.35" stroke-linecap="round" fill="none" opacity="0.8"/>
<line x1="270.15" y1="723.24" x2="287.65" y2="723.24" stroke="#c0102e" stroke-width="1.3" opacity="0.4"/>
<line x1="296.75" y1="727.12" x2="314.25" y2="727.12" stroke="#c0102e" stroke-width="1.4"/>
<path d="M305.6 677.8h0M305.6 682.1h0M305.1 683.2h0M305.4 684.2h0M305.3 685.3h0M305.0 687.5h0M304.9 688.6h0M306.0 688.7h0M305.8 689.6h0M306.1 691.8h0M305.2 692.9h0M305.0 694.0h0M304.4 698.5h0M305.5 698.3h0M307.0 698.3h0M304.6 699.4h0M306.1 699.2h0M304.2 702.5h0M305.3 702.4h0M306.9 702.7h0M304.7 703.7h0M306.1 703.8h0M304.4 704.7h0M305.5 705.0h0M306.7 704.7h0M304.8 705.9h0M306.2 705.7h0M304.0 706.8h0M305.7 707.0h0M304.7 708.1h0M306.0 708.0h0M307.3 708.1h0M304.0 709.2h0M305.7 709.2h0M306.6 708.9h0M303.7 710.4h0M304.9 710.2h0M306.1 710.1h0M307.6 710.2h0M304.2 711.3h0M305.6 711.4h0M306.9 711.3h0M303.8 712.4h0M304.6 712.4h0M306.2 712.6h0M307.3 712.2h0M302.7 713.3h0M304.2 713.3h0M305.5 713.2h0M307.0 713.6h0M302.5 714.6h0M303.6 714.5h0M304.8 714.5h0M306.2 714.5h0M307.4 714.4h0M308.8 714.4h0M301.4 715.5h0M303.1 715.7h0M304.3 715.6h0M305.5 715.8h0M306.8 715.8h0M308.2 715.7h0M309.5 715.4h0M302.3 716.8h0M303.5 716.8h0M304.7 716.7h0M305.9 716.8h0M307.5 716.4h0M308.8 716.5h0M301.6 717.7h0M303.1 717.5h0M304.3 717.6h0M305.5 717.9h0M306.6 717.9h0M309.6 717.6h0M300.8 719.0h0M302.2 718.7h0M303.6 718.8h0M304.7 718.9h0M306.4 719.0h0M307.4 718.9h0M309.9 718.6h0M300.3 720.1h0M301.7 719.8h0M302.7 719.7h0M304.2 719.9h0M305.5 719.7h0M306.8 719.8h0M308.0 719.6h0M309.6 720.0h0M310.7 719.9h0M301.2 721.2h0M303.5 721.0h0M304.9 721.2h0M306.1 720.8h0M307.4 720.9h0M308.9 721.0h0M309.9 721.0h0M299.0 722.3h0M300.5 722.1h0M301.6 722.0h0M303.0 722.1h0M304.0 721.9h0M305.5 722.1h0M306.9 722.3h0M308.3 721.9h0M309.2 722.3h0M310.8 722.2h0M311.9 722.0h0M298.5 723.2h0M300.8 723.2h0M302.2 723.2h0M303.7 723.0h0M304.7 723.0h0M305.9 723.2h0M307.3 723.0h0M308.7 723.3h0M310.2 723.3h0M311.4 723.0h0M312.7 723.2h0M297.6 724.3h0M299.2 724.1h0M300.5 724.3h0M301.6 724.4h0M302.7 724.4h0M304.0 724.4h0M306.8 724.4h0M308.3 724.1h0M309.4 724.3h0M310.7 724.4h0M311.8 724.1h0M313.3 724.0h0M298.2 725.4h0M299.7 725.2h0M301.1 725.2h0M302.3 725.5h0M303.7 725.5h0M304.9 725.3h0M306.3 725.5h0M307.4 725.3h0M308.8 725.2h0M310.2 725.4h0M311.3 725.2h0M312.5 725.4h0M296.3 726.1h0M297.8 726.6h0M299.2 726.5h0M300.4 726.4h0M301.4 726.5h0M302.9 726.4h0M304.4 726.5h0M305.6 726.5h0M306.9 726.6h0M307.9 726.1h0M309.5 726.6h0M312.2 726.5h0M313.1 726.3h0M314.6 726.4h0M296.9 727.5h0M298.2 727.7h0M299.8 727.3h0M301.1 727.6h0M302.1 727.3h0M305.0 727.6h0M306.4 727.6h0M307.6 727.4h0M308.9 727.5h0M310.2 727.6h0M311.2 727.6h0M312.4 727.7h0M313.8 727.4h0M297.6 728.4h0M298.8 728.8h0M300.1 728.3h0M302.8 728.7h0M304.0 728.3h0M305.4 728.7h0M306.6 728.4h0M308.3 728.6h0M310.8 728.8h0M311.9 728.4h0M313.2 728.5h0M298.5 729.4h0M299.7 729.8h0M301.0 729.4h0M302.2 729.8h0M303.7 729.4h0M305.0 729.7h0M306.4 729.6h0M307.5 729.6h0M308.9 729.8h0M310.1 729.6h0M311.2 729.7h0M312.7 729.6h0M299.1 730.9h0M300.5 730.9h0M301.6 730.8h0M302.9 730.6h0M304.2 730.8h0M305.5 730.8h0M306.9 730.8h0M308.2 730.7h0M309.4 730.6h0M310.8 730.5h0M312.1 730.6h0M298.2 731.8h0M299.6 731.9h0M301.0 731.9h0M302.5 731.6h0M303.5 731.5h0M305.0 731.6h0M307.6 732.0h0M308.8 731.8h0M310.0 732.0h0M311.3 731.9h0M312.5 731.9h0M297.5 732.7h0M299.0 732.7h0M300.5 733.0h0M301.5 732.8h0M303.0 732.8h0M304.1 732.7h0M305.6 732.9h0M306.9 732.8h0M308.3 732.6h0M309.3 732.7h0M310.7 732.6h0M312.1 732.9h0M313.2 732.6h0M298.5 733.9h0M299.5 733.9h0M301.1 734.0h0M302.5 734.1h0M303.5 733.8h0M304.7 734.1h0M306.2 734.1h0M309.0 733.8h0M310.3 733.7h0M311.4 733.9h0M312.4 733.9h0M300.3 734.8h0M301.8 735.2h0M303.0 735.2h0M304.0 735.0h0M305.4 734.8h0M306.8 735.0h0M308.1 734.8h0M309.2 735.1h0M310.5 734.8h0M299.5 735.9h0M301.0 736.3h0M302.5 736.1h0M303.6 735.9h0M305.1 735.9h0M306.3 736.3h0M307.6 736.3h0M308.6 736.2h0M310.3 736.1h0M311.5 735.9h0M300.3 736.9h0M301.6 737.0h0M302.9 736.9h0M304.3 737.2h0M305.3 737.0h0M307.0 737.1h0M310.8 737.3h0M300.9 738.1h0M302.0 738.4h0M303.6 738.4h0M306.1 738.2h0M307.4 738.0h0M308.8 738.5h0M303.1 739.4h0M304.4 739.3h0M305.5 739.2h0M306.9 739.3h0M307.9 739.5h0M303.6 740.4h0M304.6 740.4h0M305.9 740.5h0M307.4 740.4h0M304.3 741.5h0M305.7 741.3h0M307.0 741.5h0M308.0 741.5h0M304.7 742.4h0M306.0 742.6h0" stroke="#7474bc" stroke-width="1.35" stroke-linecap="round" fill="none" opacity="0.8"/>
<line x1="296.75" y1="727.12" x2="314.25" y2="727.12" stroke="#c0102e" stroke-width="1.3" opacity="0.4"/>
<line x1="208.20" y1="671.00" x2="208.20" y2="751.00" stroke="#000" stroke-width="1.2"/>
<line x1="204.80" y1="750.40" x2="208.20" y2="750.40" stroke="#000" stroke-width="1.1"/>
<text x="201.50" y="753.90" font-size="10.2" text-anchor="end" textLength="5.05" lengthAdjust="spacingAndGlyphs" stroke="#231f20" stroke-width="0.08">0</text>
<line x1="204.80" y1="731.00" x2="208.20" y2="731.00" stroke="#000" stroke-width="1.1"/>
<text x="201.50" y="734.50" font-size="10.2" text-anchor="end" textLength="10.10" lengthAdjust="spacingAndGlyphs" stroke="#231f20" stroke-width="0.08">10</text>
<line x1="204.80" y1="711.60" x2="208.20" y2="711.60" stroke="#000" stroke-width="1.1"/>
<text x="201.50" y="715.10" font-size="10.2" text-anchor="end" textLength="10.10" lengthAdjust="spacingAndGlyphs" stroke="#231f20" stroke-width="0.08">20</text>
<line x1="204.80" y1="692.20" x2="208.20" y2="692.20" stroke="#000" stroke-width="1.1"/>
<text x="201.50" y="695.70" font-size="10.2" text-anchor="end" textLength="10.10" lengthAdjust="spacingAndGlyphs" stroke="#231f20" stroke-width="0.08">30</text>
<line x1="204.80" y1="672.80" x2="208.20" y2="672.80" stroke="#000" stroke-width="1.1"/>
<text x="201.50" y="676.30" font-size="10.2" text-anchor="end" textLength="10.10" lengthAdjust="spacingAndGlyphs" stroke="#231f20" stroke-width="0.08">40</text>
<line x1="207.60" y1="750.40" x2="323.00" y2="750.40" stroke="#000" stroke-width="1.2"/>
<line x1="225.70" y1="750.40" x2="225.70" y2="754.00" stroke="#000" stroke-width="1.1"/>
<line x1="252.40" y1="750.40" x2="252.40" y2="754.00" stroke="#000" stroke-width="1.1"/>
<line x1="278.90" y1="750.40" x2="278.90" y2="754.00" stroke="#000" stroke-width="1.1"/>
<line x1="305.50" y1="750.40" x2="305.50" y2="754.00" stroke="#000" stroke-width="1.1"/>
<text x="185.60" y="709.00" font-size="11.6" text-anchor="middle" textLength="68.40" lengthAdjust="spacingAndGlyphs" transform="rotate(-90 185.60 709.00)" stroke="#231f20" stroke-width="0.08">Tract length (μm)</text>
<line x1="254.30" y1="660.80" x2="305.00" y2="660.80" stroke="#222" stroke-width="1.2"/>
<text x="260.00" y="657.20" font-size="8.6" textLength="37.60" lengthAdjust="spacingAndGlyphs" stroke="#231f20" stroke-width="0.08">P&lt;0.0001</text>
<line x1="226.20" y1="678.40" x2="251.70" y2="678.40" stroke="#222" stroke-width="1.2"/>
<text x="219.80" y="674.80" font-size="8.6" textLength="37.80" lengthAdjust="spacingAndGlyphs" stroke="#231f20" stroke-width="0.08">P&lt;0.0001</text>
<text x="207.00" y="766.00" font-size="9.7" textLength="13.00" lengthAdjust="spacingAndGlyphs" stroke="#231f20" stroke-width="0.08">HU</text>
<text x="225.70" y="766.00" font-size="9.7" text-anchor="middle" textLength="3.00" lengthAdjust="spacingAndGlyphs" stroke="#231f20" stroke-width="0.08">-</text>
<text x="252.40" y="766.00" font-size="9.7" text-anchor="middle" textLength="5.40" lengthAdjust="spacingAndGlyphs" stroke="#231f20" stroke-width="0.08">+</text>
<text x="278.90" y="766.00" font-size="9.7" text-anchor="middle" textLength="3.00" lengthAdjust="spacingAndGlyphs" stroke="#231f20" stroke-width="0.08">-</text>
<text x="305.50" y="766.00" font-size="9.7" text-anchor="middle" textLength="5.40" lengthAdjust="spacingAndGlyphs" stroke="#231f20" stroke-width="0.08">+</text>
<line x1="219.40" y1="770.80" x2="261.50" y2="770.80" stroke="#222" stroke-width="1.2"/>
<line x1="272.30" y1="770.80" x2="314.80" y2="770.80" stroke="#222" stroke-width="1.2"/>
<text x="213.80" y="783.00" font-size="9.7" textLength="49.80" lengthAdjust="spacingAndGlyphs" stroke="#231f20" stroke-width="0.08">SLFN11 WT</text>
<text x="268.60" y="783.00" font-size="9.7" textLength="53.40" lengthAdjust="spacingAndGlyphs" stroke="#231f20" stroke-width="0.08">SLFN11 Mut</text>
<line x1="216.30" y1="788.60" x2="317.00" y2="788.60" stroke="#222" stroke-width="1.2"/>
<text x="221.60" y="800.80" font-size="9.7" textLength="89.20" lengthAdjust="spacingAndGlyphs" font-style="italic" stroke="#231f20" stroke-width="0.08">FANCD2-/-SLFN11-/-</text>
<text x="361.50" y="619.20" font-size="14" textLength="7.40" lengthAdjust="spacingAndGlyphs" font-weight="bold" stroke="#231f20" stroke-width="0.35">F</text>
<text x="401.60" y="627.00" font-size="9.7" fill="#ab0f3a" textLength="12.80" lengthAdjust="spacingAndGlyphs" stroke="#ab0f3a" stroke-width="0.08">IdU</text>
<text x="426.60" y="627.00" font-size="9.7" textLength="42.20" lengthAdjust="spacingAndGlyphs" stroke="#231f20" stroke-width="0.08">HU (4 mM)</text>
<text x="477.80" y="627.00" font-size="9.7" fill="#66ad3e" textLength="19.60" lengthAdjust="spacingAndGlyphs" stroke="#66ad3e" stroke-width="0.08">CldU</text>
<line x1="397.00" y1="632.20" x2="415.50" y2="632.20" stroke="#b0103a" stroke-width="1.2"/>
<path d="M419.60 632.20L414.00 634.80L415.20 632.20L414.00 629.60Z" fill="#b0103a"/>
<line x1="419.60" y1="632.20" x2="476.00" y2="632.20" stroke="#222" stroke-width="1.2"/>
<line x1="419.60" y1="629.30" x2="419.60" y2="635.10" stroke="#222" stroke-width="1.2"/>
<line x1="476.00" y1="629.30" x2="476.00" y2="635.10" stroke="#222" stroke-width="1.2"/>
<line x1="476.00" y1="632.20" x2="493.50" y2="632.20" stroke="#7ab648" stroke-width="1.2"/>
<path d="M497.60 632.20L492.00 634.80L493.20 632.20L492.00 629.60Z" fill="#7ab648"/>
<text x="394.80" y="643.20" font-size="9.7" fill="#ab0f3a" textLength="27.00" lengthAdjust="spacingAndGlyphs" stroke="#ab0f3a" stroke-width="0.08">20 min</text>
<text x="442.00" y="643.20" font-size="9.7" textLength="12.20" lengthAdjust="spacingAndGlyphs" stroke="#231f20" stroke-width="0.08">3 h</text>
<text x="477.80" y="643.20" font-size="9.7" fill="#66ad3e" textLength="26.60" lengthAdjust="spacingAndGlyphs" stroke="#66ad3e" stroke-width="0.08">60 min</text>
<rect x="403.80" y="686.76" width="17.4" height="63.54" fill="#2a4d8f"/>
<rect x="430.70" y="681.39" width="17.4" height="68.91" fill="#b8002e"/>
<rect x="458.00" y="704.85" width="17.4" height="45.45" fill="#69aa3c"/>
<rect x="484.60" y="686.27" width="17.4" height="64.03" fill="#5a2670"/>
<line x1="412.50" y1="686.76" x2="412.50" y2="684.32" stroke="#000" stroke-width="1.1"/>
<line x1="410.30" y1="684.32" x2="414.70" y2="684.32" stroke="#000" stroke-width="1.1"/>
<line x1="439.40" y1="681.39" x2="439.40" y2="680.60" stroke="#000" stroke-width="1.1"/>
<line x1="437.20" y1="680.60" x2="441.60" y2="680.60" stroke="#000" stroke-width="1.1"/>
<line x1="466.70" y1="704.85" x2="466.70" y2="700.45" stroke="#000" stroke-width="1.1"/>
<line x1="464.50" y1="700.45" x2="468.90" y2="700.45" stroke="#000" stroke-width="1.1"/>
<line x1="493.30" y1="686.27" x2="493.30" y2="684.81" stroke="#000" stroke-width="1.1"/>
<line x1="491.10" y1="684.81" x2="495.50" y2="684.81" stroke="#000" stroke-width="1.1"/>
<circle cx="410.6" cy="685.59" r="1.7" fill="#000"/>
<circle cx="412.8" cy="683.63" r="1.7" fill="#000"/>
<circle cx="415.6" cy="686.18" r="1.7" fill="#000"/>
<circle cx="435.6" cy="680.90" r="1.7" fill="#000"/>
<circle cx="441.6" cy="680.51" r="1.7" fill="#000"/>
<circle cx="446.6" cy="681.29" r="1.7" fill="#000"/>
<circle cx="463.4" cy="700.25" r="1.7" fill="#000"/>
<circle cx="469.6" cy="701.23" r="1.7" fill="#000"/>
<circle cx="466.8" cy="710.71" r="1.7" fill="#000"/>
<circle cx="487.2" cy="686.37" r="1.7" fill="#000"/>
<circle cx="493.3" cy="685.00" r="1.7" fill="#000"/>
<circle cx="501.2" cy="685.78" r="1.7" fill="#000"/>
<line x1="394.00" y1="669.50" x2="394.00" y2="750.90" stroke="#000" stroke-width="1.2"/>
<line x1="390.60" y1="750.30" x2="394.00" y2="750.30" stroke="#000" stroke-width="1.1"/>
<text x="387.30" y="753.80" font-size="10.2" text-anchor="end" textLength="5.05" lengthAdjust="spacingAndGlyphs" stroke="#231f20" stroke-width="0.08">0</text>
<line x1="390.60" y1="730.75" x2="394.00" y2="730.75" stroke="#000" stroke-width="1.1"/>
<text x="387.30" y="734.25" font-size="10.2" text-anchor="end" textLength="10.10" lengthAdjust="spacingAndGlyphs" stroke="#231f20" stroke-width="0.08">20</text>
<line x1="390.60" y1="711.20" x2="394.00" y2="711.20" stroke="#000" stroke-width="1.1"/>
<text x="387.30" y="714.70" font-size="10.2" text-anchor="end" textLength="10.10" lengthAdjust="spacingAndGlyphs" stroke="#231f20" stroke-width="0.08">40</text>
<line x1="390.60" y1="691.65" x2="394.00" y2="691.65" stroke="#000" stroke-width="1.1"/>
<text x="387.30" y="695.15" font-size="10.2" text-anchor="end" textLength="10.10" lengthAdjust="spacingAndGlyphs" stroke="#231f20" stroke-width="0.08">60</text>
<line x1="390.60" y1="672.10" x2="394.00" y2="672.10" stroke="#000" stroke-width="1.1"/>
<text x="387.30" y="675.60" font-size="10.2" text-anchor="end" textLength="10.10" lengthAdjust="spacingAndGlyphs" stroke="#231f20" stroke-width="0.08">80</text>
<line x1="393.40" y1="750.30" x2="510.50" y2="750.30" stroke="#000" stroke-width="1.2"/>
<line x1="412.50" y1="750.30" x2="412.50" y2="753.90" stroke="#000" stroke-width="1.1"/>
<line x1="439.40" y1="750.30" x2="439.40" y2="753.90" stroke="#000" stroke-width="1.1"/>
<line x1="466.70" y1="750.30" x2="466.70" y2="753.90" stroke="#000" stroke-width="1.1"/>
<line x1="493.30" y1="750.30" x2="493.30" y2="753.90" stroke="#000" stroke-width="1.1"/>
<text x="370.40" y="716.30" font-size="10.6" text-anchor="middle" textLength="66.60" lengthAdjust="spacingAndGlyphs" transform="rotate(-90 370.40 716.30)" stroke="#231f20" stroke-width="0.08">% restarting forks</text>
<line x1="411.00" y1="658.20" x2="467.40" y2="658.20" stroke="#222" stroke-width="1.2"/>
<text x="420.30" y="654.60" font-size="8.6" textLength="37.00" lengthAdjust="spacingAndGlyphs" stroke="#231f20" stroke-width="0.08">P=0.0052</text>
<line x1="411.00" y1="672.70" x2="438.70" y2="672.70" stroke="#222" stroke-width="1.2"/>
<text x="408.60" y="669.10" font-size="8.6" textLength="33.20" lengthAdjust="spacingAndGlyphs" stroke="#231f20" stroke-width="0.08">P=0.025</text>
<line x1="465.30" y1="672.70" x2="493.00" y2="672.70" stroke="#222" stroke-width="1.2"/>
<text x="461.00" y="669.10" font-size="8.6" textLength="38.00" lengthAdjust="spacingAndGlyphs" stroke="#231f20" stroke-width="0.08">P=0.0042</text>
<text x="390.80" y="765.60" font-size="9.7" textLength="13.40" lengthAdjust="spacingAndGlyphs" stroke="#231f20" stroke-width="0.08">HU</text>
<text x="410.30" y="765.40" font-size="9.7" text-anchor="middle" textLength="5.40" lengthAdjust="spacingAndGlyphs" stroke="#231f20" stroke-width="0.08">+</text>
<text x="438.60" y="765.40" font-size="9.7" text-anchor="middle" textLength="5.40" lengthAdjust="spacingAndGlyphs" stroke="#231f20" stroke-width="0.08">+</text>
<text x="466.20" y="765.40" font-size="9.7" text-anchor="middle" textLength="5.40" lengthAdjust="spacingAndGlyphs" stroke="#231f20" stroke-width="0.08">+</text>
<text x="493.30" y="765.40" font-size="9.7" text-anchor="middle" textLength="5.40" lengthAdjust="spacingAndGlyphs" stroke="#231f20" stroke-width="0.08">+</text>
<line x1="400.00" y1="774.80" x2="506.00" y2="774.80" stroke="#222" stroke-width="1.2"/>
<text x="415.50" y="784.50" font-size="9.7" text-anchor="end" textLength="40.60" lengthAdjust="spacingAndGlyphs" transform="rotate(-45 415.50 784.50)" stroke="#231f20" stroke-width="0.08">HAP1 WT</text>
<text x="441.80" y="786.00" font-size="9.7" text-anchor="end" textLength="42.00" lengthAdjust="spacingAndGlyphs" transform="rotate(-45 441.80 786.00)" stroke="#231f20" stroke-width="0.08">SLFN11-/-</text>
<text x="469.20" y="787.50" font-size="9.7" text-anchor="end" textLength="45.00" lengthAdjust="spacingAndGlyphs" transform="rotate(-45 469.20 787.50)" stroke="#231f20" stroke-width="0.08">FANCD2-/-</text>
<text x="497.00" y="787.00" font-size="9.7" text-anchor="end" textLength="45.00" lengthAdjust="spacingAndGlyphs" transform="rotate(-45 497.00 787.00)" stroke="#231f20" stroke-width="0.08">FANCD2-/-</text>
<text x="505.00" y="794.50" font-size="9.7" text-anchor="end" textLength="42.00" lengthAdjust="spacingAndGlyphs" transform="rotate(-45 505.00 794.50)" stroke="#231f20" stroke-width="0.08">SLFN11-/-</text>
</svg></body></html>
